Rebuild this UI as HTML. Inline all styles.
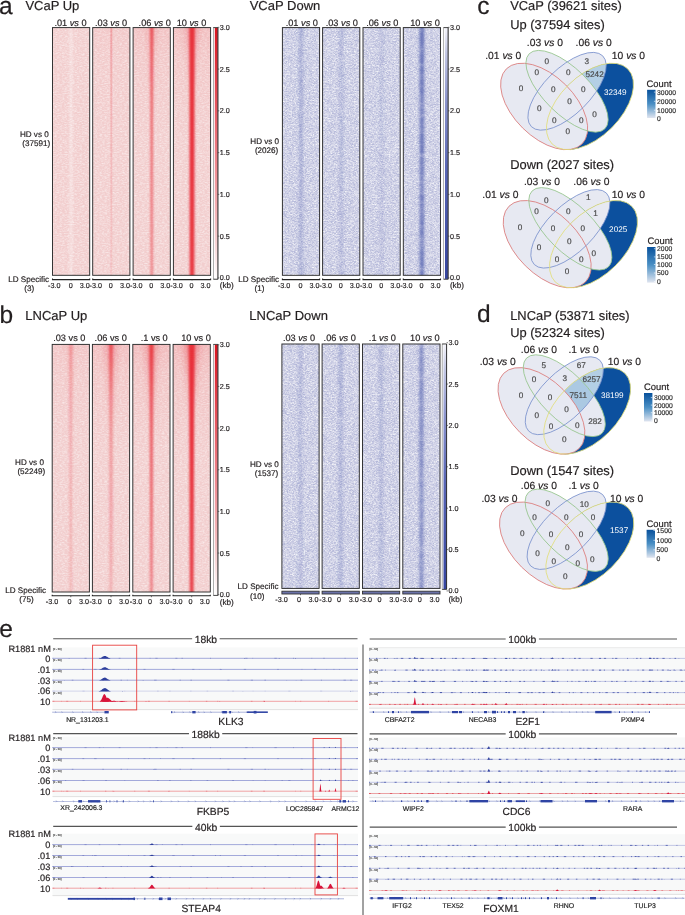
<!DOCTYPE html>
<html><head><meta charset="utf-8"><style>
html,body{margin:0;padding:0;background:#fff;width:685px;height:915px;overflow:hidden}
svg{display:block;will-change:transform;-webkit-font-smoothing:antialiased}
text{font-family:"Liberation Sans", sans-serif;text-rendering:geometricPrecision;stroke:currentColor;stroke-width:0.18px}
</style></head><body>
<svg width="685" height="915" viewBox="0 0 685 915">
<defs>
<filter id="nred" x="0" y="0" width="100%" height="100%" filterUnits="objectBoundingBox">
<feTurbulence type="fractalNoise" baseFrequency="0.4 0.9" numOctaves="2" seed="4" result="t"/>
<feColorMatrix in="t" type="matrix" values="0 0 0 0 1  0 0 0 0 1  0 0 0 0 1  1.1 0 0 0 -0.42"/>
</filter>
<filter id="nblue" x="0" y="0" width="100%" height="100%" filterUnits="objectBoundingBox">
<feTurbulence type="fractalNoise" baseFrequency="0.55 1.3" numOctaves="2" seed="7" result="t"/>
<feColorMatrix in="t" type="matrix" values="0 0 0 0 0.47  0 0 0 0 0.49  0 0 0 0 0.70  2.8 0 0 0 -0.95"/>
</filter>
<filter id="nwhite" x="0" y="0" width="100%" height="100%" filterUnits="objectBoundingBox">
<feTurbulence type="fractalNoise" baseFrequency="0.55 1.3" numOctaves="2" seed="11" result="t"/>
<feColorMatrix in="t" type="matrix" values="0 0 0 0 0.95  0 0 0 0 0.95  0 0 0 0 0.97  2.6 0 0 0 -1.2"/>
</filter>
<filter id="bl1" x="-50%" y="-5%" width="200%" height="110%"><feGaussianBlur stdDeviation="1.1 0.5"/></filter>
<filter id="bm15" x="-50%" y="-5%" width="200%" height="110%"><feGaussianBlur in="SourceGraphic" stdDeviation="1.5 0.5" result="b"/><feTurbulence type="fractalNoise" baseFrequency="0.02 0.14" numOctaves="2" seed="21" result="t"/><feColorMatrix in="t" type="matrix" values="0 0 0 0 0  0 0 0 0 0  0 0 0 0 0  1.0 0 0 0 0.4" result="m"/><feComposite in="b" in2="m" operator="in"/></filter>
<filter id="bm1" x="-50%" y="-5%" width="200%" height="110%"><feGaussianBlur in="SourceGraphic" stdDeviation="1.1 0.5" result="b"/><feTurbulence type="fractalNoise" baseFrequency="0.02 0.14" numOctaves="2" seed="23" result="t"/><feColorMatrix in="t" type="matrix" values="0 0 0 0 0  0 0 0 0 0  0 0 0 0 0  1.0 0 0 0 0.4" result="m"/><feComposite in="b" in2="m" operator="in"/></filter>
<filter id="bl05" x="-50%" y="-5%" width="200%" height="110%"><feGaussianBlur stdDeviation="0.6 0.5"/></filter>
<filter id="bl15" x="-50%" y="-5%" width="200%" height="110%"><feGaussianBlur stdDeviation="1.5 0.5"/></filter>
<filter id="bl2" x="-50%" y="-5%" width="200%" height="110%"><feGaussianBlur stdDeviation="2.2"/></filter>
<clipPath id="hc1"><rect x="52.5" y="27.6" width="37.2" height="247.70000000000002"/></clipPath>
<linearGradient id="hg1" x1="0" y1="0" x2="0" y2="1" gradientUnits="objectBoundingBox"><stop offset="0" stop-color="#e8303a" stop-opacity="0.0"/><stop offset="0.25" stop-color="#e8303a" stop-opacity="0.0"/><stop offset="1" stop-color="#e8303a" stop-opacity="0.0"/></linearGradient>
<clipPath id="hc2"><rect x="92.7" y="27.6" width="37.2" height="247.70000000000002"/></clipPath>
<linearGradient id="td2" x1="0" y1="0" x2="0" y2="1"><stop offset="0" stop-color="#e8303a" stop-opacity="0.04"/><stop offset="0.12" stop-color="#e8303a" stop-opacity="0.018000000000000002"/><stop offset="0.45" stop-color="#e8303a" stop-opacity="0"/></linearGradient>
<linearGradient id="hg2" x1="0" y1="0" x2="0" y2="1" gradientUnits="objectBoundingBox"><stop offset="0" stop-color="#e8303a" stop-opacity="0.3"/><stop offset="0.25" stop-color="#e8303a" stop-opacity="0.2"/><stop offset="1" stop-color="#e8303a" stop-opacity="0.1"/></linearGradient>
<clipPath id="hc3"><rect x="133.1" y="27.6" width="37.2" height="247.70000000000002"/></clipPath>
<linearGradient id="td3" x1="0" y1="0" x2="0" y2="1"><stop offset="0" stop-color="#e8303a" stop-opacity="0.08"/><stop offset="0.12" stop-color="#e8303a" stop-opacity="0.036000000000000004"/><stop offset="0.45" stop-color="#e8303a" stop-opacity="0"/></linearGradient>
<linearGradient id="hh3" x1="0" y1="0" x2="0" y2="1"><stop offset="0" stop-color="#e8303a" stop-opacity="0.15"/><stop offset="1" stop-color="#e8303a" stop-opacity="0"/></linearGradient>
<linearGradient id="hg3" x1="0" y1="0" x2="0" y2="1" gradientUnits="objectBoundingBox"><stop offset="0" stop-color="#e8303a" stop-opacity="0.8"/><stop offset="0.25" stop-color="#e8303a" stop-opacity="0.675"/><stop offset="1" stop-color="#e8303a" stop-opacity="0.55"/></linearGradient>
<clipPath id="hc4"><rect x="173.4" y="27.6" width="37.2" height="247.70000000000002"/></clipPath>
<linearGradient id="td4" x1="0" y1="0" x2="0" y2="1"><stop offset="0" stop-color="#e8303a" stop-opacity="0.1"/><stop offset="0.12" stop-color="#e8303a" stop-opacity="0.045000000000000005"/><stop offset="0.45" stop-color="#e8303a" stop-opacity="0"/></linearGradient>
<linearGradient id="hh4" x1="0" y1="0" x2="0" y2="1"><stop offset="0" stop-color="#e8303a" stop-opacity="0.22"/><stop offset="1" stop-color="#e8303a" stop-opacity="0"/></linearGradient>
<linearGradient id="hg4" x1="0" y1="0" x2="0" y2="1" gradientUnits="objectBoundingBox"><stop offset="0" stop-color="#e8303a" stop-opacity="1.0"/><stop offset="0.25" stop-color="#e8303a" stop-opacity="1.0"/><stop offset="1" stop-color="#e8303a" stop-opacity="0.95"/></linearGradient>
<linearGradient id="cb5" x1="0" y1="1" x2="0" y2="0"><stop offset="0" stop-color="#ffffff"/><stop offset="0.2" stop-color="#f6c2c4"/><stop offset="0.5" stop-color="#ee7f86"/><stop offset="1" stop-color="#d8141f"/></linearGradient>
<clipPath id="hc6"><rect x="282.4" y="27.6" width="37.2" height="247.70000000000002"/></clipPath>
<linearGradient id="hg6" x1="0" y1="0" x2="0" y2="1" gradientUnits="objectBoundingBox"><stop offset="0" stop-color="#5563b0" stop-opacity="0.34"/><stop offset="0.25" stop-color="#5563b0" stop-opacity="0.32"/><stop offset="1" stop-color="#5563b0" stop-opacity="0.3"/></linearGradient>
<clipPath id="hc7"><rect x="322.59999999999997" y="27.6" width="37.2" height="247.70000000000002"/></clipPath>
<linearGradient id="hg7" x1="0" y1="0" x2="0" y2="1" gradientUnits="objectBoundingBox"><stop offset="0" stop-color="#5563b0" stop-opacity="0.24"/><stop offset="0.25" stop-color="#5563b0" stop-opacity="0.22"/><stop offset="1" stop-color="#5563b0" stop-opacity="0.2"/></linearGradient>
<clipPath id="hc8"><rect x="363.0" y="27.6" width="37.2" height="247.70000000000002"/></clipPath>
<linearGradient id="hg8" x1="0" y1="0" x2="0" y2="1" gradientUnits="objectBoundingBox"><stop offset="0" stop-color="#5563b0" stop-opacity="0.15"/><stop offset="0.25" stop-color="#5563b0" stop-opacity="0.14"/><stop offset="1" stop-color="#5563b0" stop-opacity="0.13"/></linearGradient>
<clipPath id="hc9"><rect x="403.29999999999995" y="27.6" width="37.2" height="247.70000000000002"/></clipPath>
<linearGradient id="hg9" x1="0" y1="0" x2="0" y2="1" gradientUnits="objectBoundingBox"><stop offset="0" stop-color="#5563b0" stop-opacity="0.9"/><stop offset="0.25" stop-color="#5563b0" stop-opacity="0.875"/><stop offset="1" stop-color="#5563b0" stop-opacity="0.85"/></linearGradient>
<linearGradient id="cb10" x1="0" y1="0" x2="0" y2="1"><stop offset="0" stop-color="#f4f4fa"/><stop offset="0.1" stop-color="#c4c8e4"/><stop offset="0.3" stop-color="#8a93cc"/><stop offset="0.55" stop-color="#5a67b5"/><stop offset="1" stop-color="#34449e"/></linearGradient>
<clipPath id="hc11"><rect x="52.2" y="344.4" width="37.2" height="247.60000000000002"/></clipPath>
<linearGradient id="td11" x1="0" y1="0" x2="0" y2="1"><stop offset="0" stop-color="#e8303a" stop-opacity="0.06"/><stop offset="0.12" stop-color="#e8303a" stop-opacity="0.027"/><stop offset="0.45" stop-color="#e8303a" stop-opacity="0"/></linearGradient>
<linearGradient id="hh11" x1="0" y1="0" x2="0" y2="1"><stop offset="0" stop-color="#e8303a" stop-opacity="0.05"/><stop offset="1" stop-color="#e8303a" stop-opacity="0"/></linearGradient>
<linearGradient id="hg11" x1="0" y1="0" x2="0" y2="1" gradientUnits="objectBoundingBox"><stop offset="0" stop-color="#e8303a" stop-opacity="0.35"/><stop offset="0.25" stop-color="#e8303a" stop-opacity="0.265"/><stop offset="1" stop-color="#e8303a" stop-opacity="0.18"/></linearGradient>
<clipPath id="hc12"><rect x="92.4" y="344.4" width="37.2" height="247.60000000000002"/></clipPath>
<linearGradient id="td12" x1="0" y1="0" x2="0" y2="1"><stop offset="0" stop-color="#e8303a" stop-opacity="0.1"/><stop offset="0.12" stop-color="#e8303a" stop-opacity="0.045000000000000005"/><stop offset="0.45" stop-color="#e8303a" stop-opacity="0"/></linearGradient>
<linearGradient id="hh12" x1="0" y1="0" x2="0" y2="1"><stop offset="0" stop-color="#e8303a" stop-opacity="0.2"/><stop offset="1" stop-color="#e8303a" stop-opacity="0"/></linearGradient>
<linearGradient id="hg12" x1="0" y1="0" x2="0" y2="1" gradientUnits="objectBoundingBox"><stop offset="0" stop-color="#e8303a" stop-opacity="0.7"/><stop offset="0.25" stop-color="#e8303a" stop-opacity="0.4"/><stop offset="1" stop-color="#e8303a" stop-opacity="0.22"/></linearGradient>
<clipPath id="hc13"><rect x="132.8" y="344.4" width="37.2" height="247.60000000000002"/></clipPath>
<linearGradient id="td13" x1="0" y1="0" x2="0" y2="1"><stop offset="0" stop-color="#e8303a" stop-opacity="0.12"/><stop offset="0.12" stop-color="#e8303a" stop-opacity="0.054"/><stop offset="0.45" stop-color="#e8303a" stop-opacity="0"/></linearGradient>
<linearGradient id="hh13" x1="0" y1="0" x2="0" y2="1"><stop offset="0" stop-color="#e8303a" stop-opacity="0.25"/><stop offset="1" stop-color="#e8303a" stop-opacity="0"/></linearGradient>
<linearGradient id="hg13" x1="0" y1="0" x2="0" y2="1" gradientUnits="objectBoundingBox"><stop offset="0" stop-color="#e8303a" stop-opacity="0.9"/><stop offset="0.25" stop-color="#e8303a" stop-opacity="0.7"/><stop offset="1" stop-color="#e8303a" stop-opacity="0.5"/></linearGradient>
<clipPath id="hc14"><rect x="173.10000000000002" y="344.4" width="37.2" height="247.60000000000002"/></clipPath>
<linearGradient id="td14" x1="0" y1="0" x2="0" y2="1"><stop offset="0" stop-color="#e8303a" stop-opacity="0.14"/><stop offset="0.12" stop-color="#e8303a" stop-opacity="0.06300000000000001"/><stop offset="0.45" stop-color="#e8303a" stop-opacity="0"/></linearGradient>
<linearGradient id="hh14" x1="0" y1="0" x2="0" y2="1"><stop offset="0" stop-color="#e8303a" stop-opacity="0.3"/><stop offset="1" stop-color="#e8303a" stop-opacity="0"/></linearGradient>
<linearGradient id="hg14" x1="0" y1="0" x2="0" y2="1" gradientUnits="objectBoundingBox"><stop offset="0" stop-color="#e8303a" stop-opacity="1.0"/><stop offset="0.25" stop-color="#e8303a" stop-opacity="0.98"/><stop offset="1" stop-color="#e8303a" stop-opacity="0.9"/></linearGradient>
<linearGradient id="cb15" x1="0" y1="1" x2="0" y2="0"><stop offset="0" stop-color="#ffffff"/><stop offset="0.2" stop-color="#f6c2c4"/><stop offset="0.5" stop-color="#ee7f86"/><stop offset="1" stop-color="#d8141f"/></linearGradient>
<clipPath id="hc16"><rect x="281.9" y="344" width="37.2" height="244.39999999999998"/></clipPath>
<linearGradient id="hg16" x1="0" y1="0" x2="0" y2="1" gradientUnits="objectBoundingBox"><stop offset="0" stop-color="#5563b0" stop-opacity="0.24"/><stop offset="0.25" stop-color="#5563b0" stop-opacity="0.22"/><stop offset="1" stop-color="#5563b0" stop-opacity="0.2"/></linearGradient>
<clipPath id="hc17"><rect x="322.09999999999997" y="344" width="37.2" height="244.39999999999998"/></clipPath>
<linearGradient id="hg17" x1="0" y1="0" x2="0" y2="1" gradientUnits="objectBoundingBox"><stop offset="0" stop-color="#5563b0" stop-opacity="0.32"/><stop offset="0.25" stop-color="#5563b0" stop-opacity="0.29000000000000004"/><stop offset="1" stop-color="#5563b0" stop-opacity="0.26"/></linearGradient>
<clipPath id="hc18"><rect x="362.5" y="344" width="37.2" height="244.39999999999998"/></clipPath>
<linearGradient id="hg18" x1="0" y1="0" x2="0" y2="1" gradientUnits="objectBoundingBox"><stop offset="0" stop-color="#5563b0" stop-opacity="0.26"/><stop offset="0.25" stop-color="#5563b0" stop-opacity="0.24"/><stop offset="1" stop-color="#5563b0" stop-opacity="0.22"/></linearGradient>
<clipPath id="hc19"><rect x="402.79999999999995" y="344" width="37.2" height="244.39999999999998"/></clipPath>
<linearGradient id="hg19" x1="0" y1="0" x2="0" y2="1" gradientUnits="objectBoundingBox"><stop offset="0" stop-color="#5563b0" stop-opacity="0.75"/><stop offset="0.25" stop-color="#5563b0" stop-opacity="0.7"/><stop offset="1" stop-color="#5563b0" stop-opacity="0.65"/></linearGradient>
<linearGradient id="cb20" x1="0" y1="0" x2="0" y2="1"><stop offset="0" stop-color="#f4f4fa"/><stop offset="0.1" stop-color="#c4c8e4"/><stop offset="0.3" stop-color="#8a93cc"/><stop offset="0.55" stop-color="#5a67b5"/><stop offset="1" stop-color="#34449e"/></linearGradient>
<clipPath id="v1y"><ellipse cx="0" cy="0" rx="0.35" ry="0.2" transform="translate(0.65 0.47) rotate(45)" fill="#000" /></clipPath>
<clipPath id="v1b"><ellipse cx="0" cy="0" rx="0.33" ry="0.15" transform="translate(0.5 0.57) rotate(45)" fill="#000" /></clipPath>
<linearGradient id="lg2" x1="0" y1="0" x2="0" y2="1"><stop offset="0" stop-color="#08519c"/><stop offset="0.5" stop-color="#4a8fc4"/><stop offset="1" stop-color="#dfe4ef"/></linearGradient>
<clipPath id="v3y"><ellipse cx="0" cy="0" rx="0.35" ry="0.2" transform="translate(0.65 0.47) rotate(45)" fill="#000" /></clipPath>
<clipPath id="v3b"><ellipse cx="0" cy="0" rx="0.33" ry="0.15" transform="translate(0.5 0.57) rotate(45)" fill="#000" /></clipPath>
<linearGradient id="lg4" x1="0" y1="0" x2="0" y2="1"><stop offset="0" stop-color="#08519c"/><stop offset="0.5" stop-color="#4a8fc4"/><stop offset="1" stop-color="#dfe4ef"/></linearGradient>
<clipPath id="v5y"><ellipse cx="0" cy="0" rx="0.35" ry="0.2" transform="translate(0.65 0.47) rotate(45)" fill="#000" /></clipPath>
<clipPath id="v5b"><ellipse cx="0" cy="0" rx="0.33" ry="0.15" transform="translate(0.5 0.57) rotate(45)" fill="#000" /></clipPath>
<linearGradient id="lg6" x1="0" y1="0" x2="0" y2="1"><stop offset="0" stop-color="#08519c"/><stop offset="0.5" stop-color="#4a8fc4"/><stop offset="1" stop-color="#dfe4ef"/></linearGradient>
<clipPath id="v7y"><ellipse cx="0" cy="0" rx="0.35" ry="0.2" transform="translate(0.65 0.47) rotate(45)" fill="#000" /></clipPath>
<clipPath id="v7b"><ellipse cx="0" cy="0" rx="0.33" ry="0.15" transform="translate(0.5 0.57) rotate(45)" fill="#000" /></clipPath>
<linearGradient id="lg8" x1="0" y1="0" x2="0" y2="1"><stop offset="0" stop-color="#08519c"/><stop offset="0.5" stop-color="#4a8fc4"/><stop offset="1" stop-color="#dfe4ef"/></linearGradient>
</defs>
<rect width="685" height="915" fill="#fff"/>
<text x="-0.90" y="14.00" font-size="24.5" text-anchor="start" fill="#231f20" color="#231f20" >a</text>
<text x="-0.60" y="322.60" font-size="24.5" text-anchor="start" fill="#231f20" color="#231f20" >b</text>
<text x="477.20" y="14.00" font-size="24.5" text-anchor="start" fill="#231f20" color="#231f20" >c</text>
<text x="477.10" y="321.70" font-size="24.5" text-anchor="start" fill="#231f20" color="#231f20" >d</text>
<text x="-0.70" y="637.20" font-size="24.5" text-anchor="start" fill="#231f20" color="#231f20" >e</text>
<text x="25.40" y="9.70" font-size="13" text-anchor="start" fill="#231f20" color="#231f20" >VCaP Up</text>
<text x="70.50" y="25.60" font-size="9.2" text-anchor="middle" fill="#231f20" color="#231f20">.01 <tspan font-style="italic">vs</tspan> 0</text>
<g clip-path="url(#hc1)">
<rect x="52.5" y="27.6" width="37.2" height="247.70000000000002" fill="#f2cece"/>
<rect x="52.5" y="27.6" width="37.2" height="247.70000000000002" fill="#fff" filter="url(#nred)"/>
<rect x="69.6" y="27.6" width="3" height="247.70000000000002" fill="#fff" opacity="0.35" filter="url(#bl1)"/>
<path d="M69.60 22.6 L72.60 22.6 L72.60 89.53 L72.60 280.3 L69.60 280.3 L69.60 89.53 Z" fill="url(#hg1)" filter="url(#bl1)"/>
</g>
<rect x="52.5" y="27.6" width="37.2" height="247.70000000000002" fill="none" stroke="#2a2a2a" stroke-width="0.95"/>
<path d="M52.5 278.5 L52.5 279.6 L89.7 279.6 L89.7 278.5" fill="none" stroke="#222" stroke-width="1.1"/>
<line x1="71.1" y1="279.2" x2="71.1" y2="280.4" stroke="#333" stroke-width="0.7"/>
<text x="48.00" y="287.70" font-size="7.2" text-anchor="start" fill="#231f20" color="#231f20" >-3.0</text>
<text x="70.65" y="287.70" font-size="7.2" text-anchor="middle" fill="#231f20" color="#231f20" >0</text>
<text x="89.70" y="287.70" font-size="7.2" text-anchor="end" fill="#231f20" color="#231f20" >3.0</text>
<text x="111.10" y="25.60" font-size="9.2" text-anchor="middle" fill="#231f20" color="#231f20">.03 <tspan font-style="italic">vs</tspan> 0</text>
<g clip-path="url(#hc2)">
<rect x="92.7" y="27.6" width="37.2" height="247.70000000000002" fill="#f2cece"/>
<rect x="92.7" y="27.6" width="37.2" height="247.70000000000002" fill="#fff" filter="url(#nred)"/>
<rect x="92.7" y="27.6" width="37.2" height="247.70000000000002" fill="url(#td2)"/>
<path d="M110.30 22.6 L112.30 22.6 L112.25 89.53 L112.20 280.3 L110.40 280.3 L110.35 89.53 Z" fill="url(#hg2)" filter="url(#bl05)"/>
</g>
<rect x="92.7" y="27.6" width="37.2" height="247.70000000000002" fill="none" stroke="#2a2a2a" stroke-width="0.95"/>
<path d="M92.7 278.5 L92.7 279.6 L129.9 279.6 L129.9 278.5" fill="none" stroke="#222" stroke-width="1.1"/>
<line x1="111.30000000000001" y1="279.2" x2="111.30000000000001" y2="280.4" stroke="#333" stroke-width="0.7"/>
<text x="89.60" y="287.70" font-size="7.2" text-anchor="start" fill="#231f20" color="#231f20" >-3.0</text>
<text x="110.85" y="287.70" font-size="7.2" text-anchor="middle" fill="#231f20" color="#231f20" >0</text>
<text x="129.90" y="287.70" font-size="7.2" text-anchor="end" fill="#231f20" color="#231f20" >3.0</text>
<text x="154.70" y="25.60" font-size="9.2" text-anchor="middle" fill="#231f20" color="#231f20">.06 <tspan font-style="italic">vs</tspan> 0</text>
<g clip-path="url(#hc3)">
<rect x="133.1" y="27.6" width="37.2" height="247.70000000000002" fill="#f2cece"/>
<rect x="133.1" y="27.6" width="37.2" height="247.70000000000002" fill="#fff" filter="url(#nred)"/>
<rect x="133.1" y="27.6" width="37.2" height="247.70000000000002" fill="url(#td3)"/>
<path d="M146.7 22.6 L156.7 22.6 L153.45999999999998 114.29500000000002 L149.94 114.29500000000002 Z" fill="url(#hh3)" filter="url(#bl2)"/>
<path d="M150.10 22.6 L153.30 22.6 L153.05 89.53 L152.80 280.3 L150.60 280.3 L150.35 89.53 Z" fill="url(#hg3)" filter="url(#bl1)"/>
</g>
<rect x="133.1" y="27.6" width="37.2" height="247.70000000000002" fill="none" stroke="#2a2a2a" stroke-width="0.95"/>
<path d="M133.1 278.5 L133.1 279.6 L170.3 279.6 L170.3 278.5" fill="none" stroke="#222" stroke-width="1.1"/>
<line x1="151.7" y1="279.2" x2="151.7" y2="280.4" stroke="#333" stroke-width="0.7"/>
<text x="130.00" y="287.70" font-size="7.2" text-anchor="start" fill="#231f20" color="#231f20" >-3.0</text>
<text x="151.25" y="287.70" font-size="7.2" text-anchor="middle" fill="#231f20" color="#231f20" >0</text>
<text x="170.30" y="287.70" font-size="7.2" text-anchor="end" fill="#231f20" color="#231f20" >3.0</text>
<text x="191.50" y="25.60" font-size="9.2" text-anchor="middle" fill="#231f20" color="#231f20">10 <tspan font-style="italic">vs</tspan> 0</text>
<g clip-path="url(#hc4)">
<rect x="173.4" y="27.6" width="37.2" height="247.70000000000002" fill="#f2cece"/>
<rect x="173.4" y="27.6" width="37.2" height="247.70000000000002" fill="#fff" filter="url(#nred)"/>
<rect x="173.4" y="27.6" width="37.2" height="247.70000000000002" fill="url(#td4)"/>
<path d="M185.0 22.6 L199.0 22.6 L195.68 89.525 L188.32 89.525 Z" fill="url(#hh4)" filter="url(#bl2)"/>
<path d="M189.20 22.6 L194.80 22.6 L194.50 89.53 L194.30 280.3 L189.70 280.3 L189.50 89.53 Z" fill="url(#hg4)" filter="url(#bl1)"/>
</g>
<rect x="173.4" y="27.6" width="37.2" height="247.70000000000002" fill="none" stroke="#2a2a2a" stroke-width="0.95"/>
<path d="M173.4 278.5 L173.4 279.6 L210.60000000000002 279.6 L210.60000000000002 278.5" fill="none" stroke="#222" stroke-width="1.1"/>
<line x1="192.0" y1="279.2" x2="192.0" y2="280.4" stroke="#333" stroke-width="0.7"/>
<text x="170.30" y="287.70" font-size="7.2" text-anchor="start" fill="#231f20" color="#231f20" >-3.0</text>
<text x="191.55" y="287.70" font-size="7.2" text-anchor="middle" fill="#231f20" color="#231f20" >0</text>
<text x="210.60" y="287.70" font-size="7.2" text-anchor="end" fill="#231f20" color="#231f20" >3.0</text>
<rect x="213.5" y="27.6" width="4.4" height="251.6" fill="#fff" stroke="#8a8a8a" stroke-width="0.7"/>
<rect x="214.8" y="27.900000000000002" width="2.9" height="251.0" fill="url(#cb5)"/>
<line x1="217.9" y1="27.6" x2="217.9" y2="279.2" stroke="#222" stroke-width="0.9"/>
<line x1="213.5" y1="27.6" x2="217.9" y2="27.6" stroke="#222" stroke-width="0.7"/>
<line x1="213.5" y1="279.2" x2="217.9" y2="279.2" stroke="#222" stroke-width="0.7"/>
<line x1="217.8" y1="27.3" x2="219.3" y2="27.3" stroke="#333" stroke-width="0.6"/>
<text x="219.80" y="29.80" font-size="7.2" text-anchor="start" fill="#231f20" color="#231f20" >3.0</text>
<line x1="217.8" y1="69.07000000000001" x2="219.3" y2="69.07000000000001" stroke="#333" stroke-width="0.6"/>
<text x="219.80" y="71.57" font-size="7.2" text-anchor="start" fill="#231f20" color="#231f20" >2.5</text>
<line x1="217.8" y1="110.84" x2="219.3" y2="110.84" stroke="#333" stroke-width="0.6"/>
<text x="219.80" y="113.34" font-size="7.2" text-anchor="start" fill="#231f20" color="#231f20" >2.0</text>
<line x1="217.8" y1="152.61" x2="219.3" y2="152.61" stroke="#333" stroke-width="0.6"/>
<text x="219.80" y="155.11" font-size="7.2" text-anchor="start" fill="#231f20" color="#231f20" >1.5</text>
<line x1="217.8" y1="194.38000000000002" x2="219.3" y2="194.38000000000002" stroke="#333" stroke-width="0.6"/>
<text x="219.80" y="196.88" font-size="7.2" text-anchor="start" fill="#231f20" color="#231f20" >1.0</text>
<line x1="217.8" y1="236.15000000000003" x2="219.3" y2="236.15000000000003" stroke="#333" stroke-width="0.6"/>
<text x="219.80" y="238.65" font-size="7.2" text-anchor="start" fill="#231f20" color="#231f20" >0.5</text>
<line x1="217.8" y1="277.92" x2="219.3" y2="277.92" stroke="#333" stroke-width="0.6"/>
<text x="219.80" y="280.42" font-size="7.2" text-anchor="start" fill="#231f20" color="#231f20" >0.0</text>
<text x="219.70" y="287.70" font-size="8.2" text-anchor="start" fill="#231f20" color="#231f20" >(kb)</text>
<text x="48.70" y="136.60" font-size="8.1" text-anchor="end" fill="#231f20" color="#231f20" >HD vs 0</text>
<text x="50.10" y="146.30" font-size="8.1" text-anchor="end" fill="#231f20" color="#231f20" >(37591)</text>
<text x="49.10" y="281.80" font-size="8.1" text-anchor="end" fill="#231f20" color="#231f20" >LD Specific</text>
<text x="29.30" y="291.00" font-size="8.1" text-anchor="middle" fill="#231f20" color="#231f20" >(3)</text>
<text x="249.70" y="9.70" font-size="13" text-anchor="start" fill="#231f20" color="#231f20" >VCaP Down</text>
<text x="301.80" y="25.60" font-size="9.2" text-anchor="middle" fill="#231f20" color="#231f20">.01 <tspan font-style="italic">vs</tspan> 0</text>
<g clip-path="url(#hc6)">
<rect x="282.4" y="27.6" width="37.2" height="247.70000000000002" fill="#d7d8ea"/>
<rect x="282.4" y="27.6" width="37.2" height="247.70000000000002" fill="#fff" filter="url(#nblue)"/>
<rect x="282.4" y="27.6" width="37.2" height="247.70000000000002" fill="#fff" filter="url(#nwhite)" opacity="0.9"/>
<path d="M298.90 22.6 L303.10 22.6 L303.05 89.53 L303.00 280.3 L299.00 280.3 L298.95 89.53 Z" fill="url(#hg6)" filter="url(#bm15)"/>
</g>
<rect x="282.4" y="27.6" width="37.2" height="247.70000000000002" fill="none" stroke="#2a2a2a" stroke-width="0.95"/>
<path d="M282.4 278.5 L282.4 279.6 L319.59999999999997 279.6 L319.59999999999997 278.5" fill="none" stroke="#222" stroke-width="1.1"/>
<line x1="301.0" y1="279.2" x2="301.0" y2="280.4" stroke="#333" stroke-width="0.7"/>
<text x="277.90" y="287.70" font-size="7.2" text-anchor="start" fill="#231f20" color="#231f20" >-3.0</text>
<text x="300.55" y="287.70" font-size="7.2" text-anchor="middle" fill="#231f20" color="#231f20" >0</text>
<text x="319.60" y="287.70" font-size="7.2" text-anchor="end" fill="#231f20" color="#231f20" >3.0</text>
<text x="341.80" y="25.60" font-size="9.2" text-anchor="middle" fill="#231f20" color="#231f20">.03 <tspan font-style="italic">vs</tspan> 0</text>
<g clip-path="url(#hc7)">
<rect x="322.59999999999997" y="27.6" width="37.2" height="247.70000000000002" fill="#d7d8ea"/>
<rect x="322.59999999999997" y="27.6" width="37.2" height="247.70000000000002" fill="#fff" filter="url(#nblue)"/>
<rect x="322.59999999999997" y="27.6" width="37.2" height="247.70000000000002" fill="#fff" filter="url(#nwhite)" opacity="0.9"/>
<path d="M339.10 22.6 L343.30 22.6 L343.25 89.53 L343.20 280.3 L339.20 280.3 L339.15 89.53 Z" fill="url(#hg7)" filter="url(#bm15)"/>
</g>
<rect x="322.59999999999997" y="27.6" width="37.2" height="247.70000000000002" fill="none" stroke="#2a2a2a" stroke-width="0.95"/>
<path d="M322.59999999999997 278.5 L322.59999999999997 279.6 L359.79999999999995 279.6 L359.79999999999995 278.5" fill="none" stroke="#222" stroke-width="1.1"/>
<line x1="341.2" y1="279.2" x2="341.2" y2="280.4" stroke="#333" stroke-width="0.7"/>
<text x="319.50" y="287.70" font-size="7.2" text-anchor="start" fill="#231f20" color="#231f20" >-3.0</text>
<text x="340.75" y="287.70" font-size="7.2" text-anchor="middle" fill="#231f20" color="#231f20" >0</text>
<text x="359.80" y="287.70" font-size="7.2" text-anchor="end" fill="#231f20" color="#231f20" >3.0</text>
<text x="382.30" y="25.60" font-size="9.2" text-anchor="middle" fill="#231f20" color="#231f20">.06 <tspan font-style="italic">vs</tspan> 0</text>
<g clip-path="url(#hc8)">
<rect x="363.0" y="27.6" width="37.2" height="247.70000000000002" fill="#d7d8ea"/>
<rect x="363.0" y="27.6" width="37.2" height="247.70000000000002" fill="#fff" filter="url(#nblue)"/>
<rect x="363.0" y="27.6" width="37.2" height="247.70000000000002" fill="#fff" filter="url(#nwhite)" opacity="0.9"/>
<path d="M379.35 22.6 L383.85 22.6 L383.78 89.53 L383.70 280.3 L379.50 280.3 L379.43 89.53 Z" fill="url(#hg8)" filter="url(#bm15)"/>
</g>
<rect x="363.0" y="27.6" width="37.2" height="247.70000000000002" fill="none" stroke="#2a2a2a" stroke-width="0.95"/>
<path d="M363.0 278.5 L363.0 279.6 L400.2 279.6 L400.2 278.5" fill="none" stroke="#222" stroke-width="1.1"/>
<line x1="381.6" y1="279.2" x2="381.6" y2="280.4" stroke="#333" stroke-width="0.7"/>
<text x="359.90" y="287.70" font-size="7.2" text-anchor="start" fill="#231f20" color="#231f20" >-3.0</text>
<text x="381.15" y="287.70" font-size="7.2" text-anchor="middle" fill="#231f20" color="#231f20" >0</text>
<text x="400.20" y="287.70" font-size="7.2" text-anchor="end" fill="#231f20" color="#231f20" >3.0</text>
<text x="425.00" y="25.60" font-size="9.2" text-anchor="middle" fill="#231f20" color="#231f20">10 <tspan font-style="italic">vs</tspan> 0</text>
<g clip-path="url(#hc9)">
<rect x="403.29999999999995" y="27.6" width="37.2" height="247.70000000000002" fill="#d7d8ea"/>
<rect x="403.29999999999995" y="27.6" width="37.2" height="247.70000000000002" fill="#fff" filter="url(#nblue)"/>
<rect x="403.29999999999995" y="27.6" width="37.2" height="247.70000000000002" fill="#fff" filter="url(#nwhite)" opacity="0.9"/>
<path d="M419.70 22.6 L424.10 22.6 L424.05 89.53 L424.00 280.3 L419.80 280.3 L419.75 89.53 Z" fill="url(#hg9)" filter="url(#bm15)"/>
</g>
<rect x="403.29999999999995" y="27.6" width="37.2" height="247.70000000000002" fill="none" stroke="#2a2a2a" stroke-width="0.95"/>
<path d="M403.29999999999995 278.5 L403.29999999999995 279.6 L440.49999999999994 279.6 L440.49999999999994 278.5" fill="none" stroke="#222" stroke-width="1.1"/>
<line x1="421.9" y1="279.2" x2="421.9" y2="280.4" stroke="#333" stroke-width="0.7"/>
<text x="400.20" y="287.70" font-size="7.2" text-anchor="start" fill="#231f20" color="#231f20" >-3.0</text>
<text x="421.45" y="287.70" font-size="7.2" text-anchor="middle" fill="#231f20" color="#231f20" >0</text>
<text x="440.50" y="287.70" font-size="7.2" text-anchor="end" fill="#231f20" color="#231f20" >3.0</text>
<rect x="443.7" y="27.6" width="4.4" height="251.6" fill="#fff" stroke="#8a8a8a" stroke-width="0.7"/>
<rect x="445.0" y="27.900000000000002" width="2.9" height="251.0" fill="url(#cb10)"/>
<line x1="448.1" y1="27.6" x2="448.1" y2="279.2" stroke="#222" stroke-width="0.9"/>
<line x1="443.7" y1="27.6" x2="448.1" y2="27.6" stroke="#222" stroke-width="0.7"/>
<line x1="443.7" y1="279.2" x2="448.1" y2="279.2" stroke="#222" stroke-width="0.7"/>
<line x1="448" y1="27.3" x2="449.5" y2="27.3" stroke="#333" stroke-width="0.6"/>
<text x="450.00" y="29.80" font-size="7.2" text-anchor="start" fill="#231f20" color="#231f20" >3.0</text>
<line x1="448" y1="69.07000000000001" x2="449.5" y2="69.07000000000001" stroke="#333" stroke-width="0.6"/>
<text x="450.00" y="71.57" font-size="7.2" text-anchor="start" fill="#231f20" color="#231f20" >2.5</text>
<line x1="448" y1="110.84" x2="449.5" y2="110.84" stroke="#333" stroke-width="0.6"/>
<text x="450.00" y="113.34" font-size="7.2" text-anchor="start" fill="#231f20" color="#231f20" >2.0</text>
<line x1="448" y1="152.61" x2="449.5" y2="152.61" stroke="#333" stroke-width="0.6"/>
<text x="450.00" y="155.11" font-size="7.2" text-anchor="start" fill="#231f20" color="#231f20" >1.5</text>
<line x1="448" y1="194.38000000000002" x2="449.5" y2="194.38000000000002" stroke="#333" stroke-width="0.6"/>
<text x="450.00" y="196.88" font-size="7.2" text-anchor="start" fill="#231f20" color="#231f20" >1.0</text>
<line x1="448" y1="236.15000000000003" x2="449.5" y2="236.15000000000003" stroke="#333" stroke-width="0.6"/>
<text x="450.00" y="238.65" font-size="7.2" text-anchor="start" fill="#231f20" color="#231f20" >0.5</text>
<line x1="448" y1="277.92" x2="449.5" y2="277.92" stroke="#333" stroke-width="0.6"/>
<text x="450.00" y="280.42" font-size="7.2" text-anchor="start" fill="#231f20" color="#231f20" >0.0</text>
<text x="449.90" y="287.70" font-size="8.2" text-anchor="start" fill="#231f20" color="#231f20" >(kb)</text>
<text x="279.10" y="143.60" font-size="8.1" text-anchor="end" fill="#231f20" color="#231f20" >HD vs 0</text>
<text x="278.30" y="153.10" font-size="8.1" text-anchor="end" fill="#231f20" color="#231f20" >(2026)</text>
<text x="279.10" y="281.80" font-size="8.1" text-anchor="end" fill="#231f20" color="#231f20" >LD Specific</text>
<text x="259.40" y="291.00" font-size="8.1" text-anchor="middle" fill="#231f20" color="#231f20" >(1)</text>
<text x="25.35" y="319.50" font-size="13" text-anchor="start" fill="#231f20" color="#231f20" >LNCaP Up</text>
<text x="69.30" y="341.20" font-size="9.2" text-anchor="middle" fill="#231f20" color="#231f20">.03 <tspan>vs</tspan> 0</text>
<g clip-path="url(#hc11)">
<rect x="52.2" y="344.4" width="37.2" height="247.60000000000002" fill="#f2cece"/>
<rect x="52.2" y="344.4" width="37.2" height="247.60000000000002" fill="#fff" filter="url(#nred)"/>
<rect x="52.2" y="344.4" width="37.2" height="247.60000000000002" fill="url(#td11)"/>
<path d="M65.80000000000001 339.4 L75.80000000000001 339.4 L72.72000000000001 431.05999999999995 L68.88000000000001 431.05999999999995 Z" fill="url(#hh11)" filter="url(#bl2)"/>
<path d="M69.20 339.4 L72.40 339.4 L72.20 406.30 L72.00 597.0 L69.60 597.0 L69.40 406.30 Z" fill="url(#hg11)" filter="url(#bl1)"/>
</g>
<rect x="52.2" y="344.4" width="37.2" height="247.60000000000002" fill="none" stroke="#2a2a2a" stroke-width="0.95"/>
<path d="M52.2 594.7 L52.2 595.8000000000001 L89.4 595.8000000000001 L89.4 594.7" fill="none" stroke="#222" stroke-width="1.1"/>
<line x1="70.80000000000001" y1="596.0" x2="70.80000000000001" y2="597.2" stroke="#333" stroke-width="0.7"/>
<text x="45.80" y="604.20" font-size="7.2" text-anchor="start" fill="#231f20" color="#231f20" >-3.0</text>
<text x="69.50" y="604.20" font-size="7.2" text-anchor="middle" fill="#231f20" color="#231f20" >0</text>
<text x="88.90" y="604.20" font-size="7.2" text-anchor="end" fill="#231f20" color="#231f20" >3.0</text>
<text x="110.70" y="341.20" font-size="9.2" text-anchor="middle" fill="#231f20" color="#231f20">.06 <tspan>vs</tspan> 0</text>
<g clip-path="url(#hc12)">
<rect x="92.4" y="344.4" width="37.2" height="247.60000000000002" fill="#f2cece"/>
<rect x="92.4" y="344.4" width="37.2" height="247.60000000000002" fill="#fff" filter="url(#nred)"/>
<rect x="92.4" y="344.4" width="37.2" height="247.60000000000002" fill="url(#td12)"/>
<path d="M104.0 339.4 L118.0 339.4 L113.24 431.05999999999995 L108.76 431.05999999999995 Z" fill="url(#hh12)" filter="url(#bl2)"/>
<path d="M108.90 339.4 L113.10 339.4 L112.75 406.30 L112.40 597.0 L109.60 597.0 L109.25 406.30 Z" fill="url(#hg12)" filter="url(#bl1)"/>
</g>
<rect x="92.4" y="344.4" width="37.2" height="247.60000000000002" fill="none" stroke="#2a2a2a" stroke-width="0.95"/>
<path d="M92.4 594.7 L92.4 595.8000000000001 L129.60000000000002 595.8000000000001 L129.60000000000002 594.7" fill="none" stroke="#222" stroke-width="1.1"/>
<line x1="111.0" y1="596.0" x2="111.0" y2="597.2" stroke="#333" stroke-width="0.7"/>
<text x="89.40" y="604.20" font-size="7.2" text-anchor="start" fill="#231f20" color="#231f20" >-3.0</text>
<text x="109.70" y="604.20" font-size="7.2" text-anchor="middle" fill="#231f20" color="#231f20" >0</text>
<text x="129.10" y="604.20" font-size="7.2" text-anchor="end" fill="#231f20" color="#231f20" >3.0</text>
<text x="154.20" y="341.20" font-size="9.2" text-anchor="middle" fill="#231f20" color="#231f20">.1 <tspan>vs</tspan> 0</text>
<g clip-path="url(#hc13)">
<rect x="132.8" y="344.4" width="37.2" height="247.60000000000002" fill="#f2cece"/>
<rect x="132.8" y="344.4" width="37.2" height="247.60000000000002" fill="#fff" filter="url(#nred)"/>
<rect x="132.8" y="344.4" width="37.2" height="247.60000000000002" fill="url(#td13)"/>
<path d="M144.4 339.4 L158.4 339.4 L153.64000000000001 431.05999999999995 L149.16 431.05999999999995 Z" fill="url(#hh13)" filter="url(#bl2)"/>
<path d="M149.20 339.4 L153.60 339.4 L153.20 406.30 L152.80 597.0 L150.00 597.0 L149.60 406.30 Z" fill="url(#hg13)" filter="url(#bl1)"/>
</g>
<rect x="132.8" y="344.4" width="37.2" height="247.60000000000002" fill="none" stroke="#2a2a2a" stroke-width="0.95"/>
<path d="M132.8 594.7 L132.8 595.8000000000001 L170.0 595.8000000000001 L170.0 594.7" fill="none" stroke="#222" stroke-width="1.1"/>
<line x1="151.4" y1="596.0" x2="151.4" y2="597.2" stroke="#333" stroke-width="0.7"/>
<text x="129.80" y="604.20" font-size="7.2" text-anchor="start" fill="#231f20" color="#231f20" >-3.0</text>
<text x="150.10" y="604.20" font-size="7.2" text-anchor="middle" fill="#231f20" color="#231f20" >0</text>
<text x="169.50" y="604.20" font-size="7.2" text-anchor="end" fill="#231f20" color="#231f20" >3.0</text>
<text x="196.00" y="341.20" font-size="9.2" text-anchor="middle" fill="#231f20" color="#231f20">10 <tspan>vs</tspan> 0</text>
<g clip-path="url(#hc14)">
<rect x="173.10000000000002" y="344.4" width="37.2" height="247.60000000000002" fill="#f2cece"/>
<rect x="173.10000000000002" y="344.4" width="37.2" height="247.60000000000002" fill="#fff" filter="url(#nred)"/>
<rect x="173.10000000000002" y="344.4" width="37.2" height="247.60000000000002" fill="url(#td14)"/>
<path d="M182.70000000000002 339.4 L200.70000000000002 339.4 L194.74 418.67999999999995 L188.66000000000003 418.67999999999995 Z" fill="url(#hh14)" filter="url(#bl2)"/>
<path d="M188.45 339.4 L194.95 339.4 L194.20 406.30 L193.60 597.0 L189.80 597.0 L189.20 406.30 Z" fill="url(#hg14)" filter="url(#bl1)"/>
</g>
<rect x="173.10000000000002" y="344.4" width="37.2" height="247.60000000000002" fill="none" stroke="#2a2a2a" stroke-width="0.95"/>
<path d="M173.10000000000002 594.7 L173.10000000000002 595.8000000000001 L210.3 595.8000000000001 L210.3 594.7" fill="none" stroke="#222" stroke-width="1.1"/>
<line x1="191.70000000000002" y1="596.0" x2="191.70000000000002" y2="597.2" stroke="#333" stroke-width="0.7"/>
<text x="170.10" y="604.20" font-size="7.2" text-anchor="start" fill="#231f20" color="#231f20" >-3.0</text>
<text x="190.40" y="604.20" font-size="7.2" text-anchor="middle" fill="#231f20" color="#231f20" >0</text>
<text x="209.80" y="604.20" font-size="7.2" text-anchor="end" fill="#231f20" color="#231f20" >3.0</text>
<rect x="213.5" y="344.4" width="4.4" height="251.0" fill="#fff" stroke="#8a8a8a" stroke-width="0.7"/>
<rect x="214.8" y="344.7" width="2.9" height="250.4" fill="url(#cb15)"/>
<line x1="217.9" y1="344.4" x2="217.9" y2="595.4" stroke="#222" stroke-width="0.9"/>
<line x1="213.5" y1="344.4" x2="217.9" y2="344.4" stroke="#222" stroke-width="0.7"/>
<line x1="213.5" y1="595.4" x2="217.9" y2="595.4" stroke="#222" stroke-width="0.7"/>
<line x1="217.8" y1="344.8" x2="219.3" y2="344.8" stroke="#333" stroke-width="0.6"/>
<text x="219.80" y="347.30" font-size="7.2" text-anchor="start" fill="#231f20" color="#231f20" >3.0</text>
<line x1="217.8" y1="386.45" x2="219.3" y2="386.45" stroke="#333" stroke-width="0.6"/>
<text x="219.80" y="388.95" font-size="7.2" text-anchor="start" fill="#231f20" color="#231f20" >2.5</text>
<line x1="217.8" y1="428.1" x2="219.3" y2="428.1" stroke="#333" stroke-width="0.6"/>
<text x="219.80" y="430.60" font-size="7.2" text-anchor="start" fill="#231f20" color="#231f20" >2.0</text>
<line x1="217.8" y1="469.75" x2="219.3" y2="469.75" stroke="#333" stroke-width="0.6"/>
<text x="219.80" y="472.25" font-size="7.2" text-anchor="start" fill="#231f20" color="#231f20" >1.5</text>
<line x1="217.8" y1="511.4" x2="219.3" y2="511.4" stroke="#333" stroke-width="0.6"/>
<text x="219.80" y="513.90" font-size="7.2" text-anchor="start" fill="#231f20" color="#231f20" >1.0</text>
<line x1="217.8" y1="553.05" x2="219.3" y2="553.05" stroke="#333" stroke-width="0.6"/>
<text x="219.80" y="555.55" font-size="7.2" text-anchor="start" fill="#231f20" color="#231f20" >0.5</text>
<line x1="217.8" y1="594.7" x2="219.3" y2="594.7" stroke="#333" stroke-width="0.6"/>
<text x="219.80" y="597.20" font-size="7.2" text-anchor="start" fill="#231f20" color="#231f20" >0.0</text>
<text x="219.70" y="605.00" font-size="8.2" text-anchor="start" fill="#231f20" color="#231f20" >(kb)</text>
<text x="43.90" y="465.30" font-size="8.1" text-anchor="end" fill="#231f20" color="#231f20" >HD vs 0</text>
<text x="45.30" y="474.40" font-size="8.1" text-anchor="end" fill="#231f20" color="#231f20" >(52249)</text>
<text x="46.10" y="593.00" font-size="8.1" text-anchor="end" fill="#231f20" color="#231f20" >LD Specific</text>
<text x="26.50" y="602.00" font-size="8.1" text-anchor="middle" fill="#231f20" color="#231f20" >(75)</text>
<text x="249.35" y="319.50" font-size="13" text-anchor="start" fill="#231f20" color="#231f20" >LNCaP Down</text>
<text x="299.00" y="341.30" font-size="9.2" text-anchor="middle" fill="#231f20" color="#231f20">.03 <tspan font-style="italic">vs</tspan> 0</text>
<g clip-path="url(#hc16)">
<rect x="281.9" y="344" width="37.2" height="244.39999999999998" fill="#d7d8ea"/>
<rect x="281.9" y="344" width="37.2" height="244.39999999999998" fill="#fff" filter="url(#nblue)"/>
<rect x="281.9" y="344" width="37.2" height="244.39999999999998" fill="#fff" filter="url(#nwhite)" opacity="0.9"/>
<path d="M298.30 339 L302.70 339 L302.60 405.10 L302.50 593.4 L298.50 593.4 L298.40 405.10 Z" fill="url(#hg16)" filter="url(#bm15)"/>
</g>
<rect x="281.9" y="344" width="37.2" height="244.39999999999998" fill="none" stroke="#2a2a2a" stroke-width="0.95"/>
<rect x="281.9" y="591.2" width="37.2" height="2.7999999999999545" fill="#6b72a8" stroke="#333" stroke-width="0.9"/>
<line x1="300.5" y1="594.0" x2="300.5" y2="595.2" stroke="#333" stroke-width="0.7"/>
<text x="275.30" y="601.80" font-size="7.2" text-anchor="start" fill="#231f20" color="#231f20" >-3.0</text>
<text x="298.90" y="601.80" font-size="7.2" text-anchor="middle" fill="#231f20" color="#231f20" >0</text>
<text x="318.60" y="601.80" font-size="7.2" text-anchor="end" fill="#231f20" color="#231f20" >3.0</text>
<text x="339.70" y="341.30" font-size="9.2" text-anchor="middle" fill="#231f20" color="#231f20">.06 <tspan font-style="italic">vs</tspan> 0</text>
<g clip-path="url(#hc17)">
<rect x="322.09999999999997" y="344" width="37.2" height="244.39999999999998" fill="#d7d8ea"/>
<rect x="322.09999999999997" y="344" width="37.2" height="244.39999999999998" fill="#fff" filter="url(#nblue)"/>
<rect x="322.09999999999997" y="344" width="37.2" height="244.39999999999998" fill="#fff" filter="url(#nwhite)" opacity="0.9"/>
<path d="M338.50 339 L342.90 339 L342.80 405.10 L342.70 593.4 L338.70 593.4 L338.60 405.10 Z" fill="url(#hg17)" filter="url(#bm15)"/>
</g>
<rect x="322.09999999999997" y="344" width="37.2" height="244.39999999999998" fill="none" stroke="#2a2a2a" stroke-width="0.95"/>
<rect x="322.09999999999997" y="591.2" width="37.2" height="2.7999999999999545" fill="#6b72a8" stroke="#333" stroke-width="0.9"/>
<line x1="340.7" y1="594.0" x2="340.7" y2="595.2" stroke="#333" stroke-width="0.7"/>
<text x="319.30" y="601.80" font-size="7.2" text-anchor="start" fill="#231f20" color="#231f20" >-3.0</text>
<text x="339.10" y="601.80" font-size="7.2" text-anchor="middle" fill="#231f20" color="#231f20" >0</text>
<text x="358.80" y="601.80" font-size="7.2" text-anchor="end" fill="#231f20" color="#231f20" >3.0</text>
<text x="382.40" y="341.30" font-size="9.2" text-anchor="middle" fill="#231f20" color="#231f20">.1 <tspan font-style="italic">vs</tspan> 0</text>
<g clip-path="url(#hc18)">
<rect x="362.5" y="344" width="37.2" height="244.39999999999998" fill="#d7d8ea"/>
<rect x="362.5" y="344" width="37.2" height="244.39999999999998" fill="#fff" filter="url(#nblue)"/>
<rect x="362.5" y="344" width="37.2" height="244.39999999999998" fill="#fff" filter="url(#nwhite)" opacity="0.9"/>
<path d="M378.90 339 L383.30 339 L383.20 405.10 L383.10 593.4 L379.10 593.4 L379.00 405.10 Z" fill="url(#hg18)" filter="url(#bm15)"/>
</g>
<rect x="362.5" y="344" width="37.2" height="244.39999999999998" fill="none" stroke="#2a2a2a" stroke-width="0.95"/>
<rect x="362.5" y="591.2" width="37.2" height="2.7999999999999545" fill="#6b72a8" stroke="#333" stroke-width="0.9"/>
<line x1="381.1" y1="594.0" x2="381.1" y2="595.2" stroke="#333" stroke-width="0.7"/>
<text x="359.70" y="601.80" font-size="7.2" text-anchor="start" fill="#231f20" color="#231f20" >-3.0</text>
<text x="379.50" y="601.80" font-size="7.2" text-anchor="middle" fill="#231f20" color="#231f20" >0</text>
<text x="399.20" y="601.80" font-size="7.2" text-anchor="end" fill="#231f20" color="#231f20" >3.0</text>
<text x="424.90" y="341.30" font-size="9.2" text-anchor="middle" fill="#231f20" color="#231f20">10 <tspan font-style="italic">vs</tspan> 0</text>
<g clip-path="url(#hc19)">
<rect x="402.79999999999995" y="344" width="37.2" height="244.39999999999998" fill="#d7d8ea"/>
<rect x="402.79999999999995" y="344" width="37.2" height="244.39999999999998" fill="#fff" filter="url(#nblue)"/>
<rect x="402.79999999999995" y="344" width="37.2" height="244.39999999999998" fill="#fff" filter="url(#nwhite)" opacity="0.9"/>
<path d="M419.40 339 L423.40 339 L423.35 405.10 L423.30 593.4 L419.50 593.4 L419.45 405.10 Z" fill="url(#hg19)" filter="url(#bm15)"/>
</g>
<rect x="402.79999999999995" y="344" width="37.2" height="244.39999999999998" fill="none" stroke="#2a2a2a" stroke-width="0.95"/>
<rect x="402.79999999999995" y="591.2" width="37.2" height="2.7999999999999545" fill="#6b72a8" stroke="#333" stroke-width="0.9"/>
<line x1="421.4" y1="594.0" x2="421.4" y2="595.2" stroke="#333" stroke-width="0.7"/>
<text x="400.00" y="601.80" font-size="7.2" text-anchor="start" fill="#231f20" color="#231f20" >-3.0</text>
<text x="419.80" y="601.80" font-size="7.2" text-anchor="middle" fill="#231f20" color="#231f20" >0</text>
<text x="439.50" y="601.80" font-size="7.2" text-anchor="end" fill="#231f20" color="#231f20" >3.0</text>
<rect x="442.2" y="344" width="4.4" height="245.39999999999998" fill="#fff" stroke="#8a8a8a" stroke-width="0.7"/>
<rect x="443.5" y="344.3" width="2.9" height="244.79999999999998" fill="url(#cb20)"/>
<line x1="446.6" y1="344" x2="446.6" y2="589.4" stroke="#222" stroke-width="0.9"/>
<line x1="442.2" y1="344" x2="446.6" y2="344" stroke="#222" stroke-width="0.7"/>
<line x1="442.2" y1="589.4" x2="446.6" y2="589.4" stroke="#222" stroke-width="0.7"/>
<line x1="446.5" y1="342.7" x2="448.0" y2="342.7" stroke="#333" stroke-width="0.6"/>
<text x="448.50" y="345.20" font-size="7.2" text-anchor="start" fill="#231f20" color="#231f20" >3.0</text>
<line x1="446.5" y1="384.07" x2="448.0" y2="384.07" stroke="#333" stroke-width="0.6"/>
<text x="448.50" y="386.57" font-size="7.2" text-anchor="start" fill="#231f20" color="#231f20" >2.5</text>
<line x1="446.5" y1="425.44" x2="448.0" y2="425.44" stroke="#333" stroke-width="0.6"/>
<text x="448.50" y="427.94" font-size="7.2" text-anchor="start" fill="#231f20" color="#231f20" >2.0</text>
<line x1="446.5" y1="466.80999999999995" x2="448.0" y2="466.80999999999995" stroke="#333" stroke-width="0.6"/>
<text x="448.50" y="469.31" font-size="7.2" text-anchor="start" fill="#231f20" color="#231f20" >1.5</text>
<line x1="446.5" y1="508.17999999999995" x2="448.0" y2="508.17999999999995" stroke="#333" stroke-width="0.6"/>
<text x="448.50" y="510.68" font-size="7.2" text-anchor="start" fill="#231f20" color="#231f20" >1.0</text>
<line x1="446.5" y1="549.55" x2="448.0" y2="549.55" stroke="#333" stroke-width="0.6"/>
<text x="448.50" y="552.05" font-size="7.2" text-anchor="start" fill="#231f20" color="#231f20" >0.5</text>
<line x1="446.5" y1="590.92" x2="448.0" y2="590.92" stroke="#333" stroke-width="0.6"/>
<text x="448.50" y="593.42" font-size="7.2" text-anchor="start" fill="#231f20" color="#231f20" >0.0</text>
<text x="448.40" y="602.40" font-size="8.2" text-anchor="start" fill="#231f20" color="#231f20" >(kb)</text>
<text x="278.80" y="466.70" font-size="8.1" text-anchor="end" fill="#231f20" color="#231f20" >HD vs 0</text>
<text x="278.20" y="476.20" font-size="8.1" text-anchor="end" fill="#231f20" color="#231f20" >(1537)</text>
<text x="278.50" y="589.40" font-size="8.1" text-anchor="end" fill="#231f20" color="#231f20" >LD Specific</text>
<text x="257.20" y="599.20" font-size="8.1" text-anchor="middle" fill="#231f20" color="#231f20" >(10)</text>
<g transform="translate(490.67 177.77) scale(152.759 -151.754)">
<ellipse cx="0" cy="0" rx="0.35" ry="0.2" transform="translate(0.35 0.47) rotate(135)" fill="#e7e9f2" />
<ellipse cx="0" cy="0" rx="0.35" ry="0.15" transform="translate(0.5 0.57) rotate(135)" fill="#e7e9f2" />
<ellipse cx="0" cy="0" rx="0.33" ry="0.15" transform="translate(0.5 0.57) rotate(45)" fill="#e7e9f2" />
<ellipse cx="0" cy="0" rx="0.35" ry="0.2" transform="translate(0.65 0.47) rotate(45)" fill="#e7e9f2" />
<ellipse cx="0" cy="0" rx="0.35" ry="0.2" transform="translate(0.65 0.47) rotate(45)" fill="#0c509e" />
<g clip-path="url(#v1y)"><ellipse cx="0" cy="0" rx="0.33" ry="0.15" transform="translate(0.5 0.57) rotate(45)" fill="#b3cfe5" /></g>
<g clip-path="url(#v1y)"><ellipse cx="0" cy="0" rx="0.35" ry="0.15" transform="translate(0.5 0.57) rotate(135)" fill="#e7e9f2" /></g>
<ellipse cx="0" cy="0" rx="0.35" ry="0.2" transform="translate(0.35 0.47) rotate(135)" fill="#e7e9f2" />
<ellipse cx="0" cy="0" rx="0.35" ry="0.2" transform="translate(0.35 0.47) rotate(135)" fill="none" stroke="#dc7a78" stroke-width="0.85" vector-effect="non-scaling-stroke"/>
<ellipse cx="0" cy="0" rx="0.35" ry="0.15" transform="translate(0.5 0.57) rotate(135)" fill="none" stroke="#93c48a" stroke-width="0.85" vector-effect="non-scaling-stroke"/>
<ellipse cx="0" cy="0" rx="0.33" ry="0.15" transform="translate(0.5 0.57) rotate(45)" fill="none" stroke="#7890cc" stroke-width="0.85" vector-effect="non-scaling-stroke"/>
<ellipse cx="0" cy="0" rx="0.35" ry="0.2" transform="translate(0.65 0.47) rotate(45)" fill="none" stroke="#e2de7a" stroke-width="0.85" vector-effect="non-scaling-stroke"/>
</g>
<text x="521.00" y="90.70" font-size="8.2" text-anchor="middle" fill="#4a4a4a" color="#4a4a4a" >0</text>
<text x="546.70" y="64.45" font-size="8.2" text-anchor="middle" fill="#4a4a4a" color="#4a4a4a" >0</text>
<text x="586.70" y="64.45" font-size="8.2" text-anchor="middle" fill="#4a4a4a" color="#4a4a4a" >3</text>
<text x="536.80" y="74.70" font-size="8.2" text-anchor="middle" fill="#4a4a4a" color="#4a4a4a" >0</text>
<text x="568.20" y="74.70" font-size="8.2" text-anchor="middle" fill="#4a4a4a" color="#4a4a4a" >0</text>
<text x="594.60" y="77.30" font-size="8.2" text-anchor="middle" fill="#4a4a4a" color="#4a4a4a" >5242</text>
<text x="615.30" y="95.40" font-size="8.2" text-anchor="middle" fill="#ffffff" color="#ffffff"  style="stroke-width:0">32349</text>
<text x="553.30" y="92.20" font-size="8.2" text-anchor="middle" fill="#4a4a4a" color="#4a4a4a" >0</text>
<text x="583.20" y="92.20" font-size="8.2" text-anchor="middle" fill="#4a4a4a" color="#4a4a4a" >0</text>
<text x="569.60" y="104.30" font-size="8.2" text-anchor="middle" fill="#4a4a4a" color="#4a4a4a" >0</text>
<text x="539.40" y="110.90" font-size="8.2" text-anchor="middle" fill="#4a4a4a" color="#4a4a4a" >0</text>
<text x="594.50" y="116.70" font-size="8.2" text-anchor="middle" fill="#4a4a4a" color="#4a4a4a" >0</text>
<text x="554.30" y="122.80" font-size="8.2" text-anchor="middle" fill="#4a4a4a" color="#4a4a4a" >0</text>
<text x="581.30" y="122.80" font-size="8.2" text-anchor="middle" fill="#4a4a4a" color="#4a4a4a" >0</text>
<text x="567.70" y="134.20" font-size="8.2" text-anchor="middle" fill="#4a4a4a" color="#4a4a4a" >0</text>
<text x="510.20" y="10.00" font-size="12.9" text-anchor="start" fill="#231f20" color="#231f20" >VCaP (39621 sites)</text>
<text x="510.20" y="29.20" font-size="12.9" text-anchor="start" fill="#231f20" color="#231f20" >Up (37594 sites)</text>
<text x="526.80" y="46.30" font-size="10.3" text-anchor="start" fill="#231f20" color="#231f20">.03 <tspan font-style="italic">vs</tspan> 0</text>
<text x="575.60" y="46.30" font-size="10.3" text-anchor="start" fill="#231f20" color="#231f20">.06 <tspan font-style="italic">vs</tspan> 0</text>
<text x="485.20" y="58.90" font-size="10.3" text-anchor="start" fill="#231f20" color="#231f20">.01 <tspan font-style="italic">vs</tspan> 0</text>
<text x="611.80" y="58.90" font-size="10.3" text-anchor="start" fill="#231f20" color="#231f20">10 <tspan font-style="italic">vs</tspan> 0</text>
<text x="646.60" y="86.90" font-size="9.4" text-anchor="start" fill="#231f20" color="#231f20" >Count</text>
<rect x="647.1" y="89.8" width="8.4" height="28.200000000000003" fill="url(#lg2)"/>
<line x1="653.9" y1="92.1" x2="655.5" y2="92.1" stroke="#fff" stroke-width="0.6"/>
<text x="657.10" y="94.50" font-size="6.8" text-anchor="start" fill="#333" color="#333" >30000</text>
<line x1="653.9" y1="101.3" x2="655.5" y2="101.3" stroke="#fff" stroke-width="0.6"/>
<text x="657.10" y="103.70" font-size="6.8" text-anchor="start" fill="#333" color="#333" >20000</text>
<line x1="653.9" y1="110.2" x2="655.5" y2="110.2" stroke="#fff" stroke-width="0.6"/>
<text x="657.10" y="112.60" font-size="6.8" text-anchor="start" fill="#333" color="#333" >10000</text>
<line x1="653.9" y1="118.4" x2="655.5" y2="118.4" stroke="#fff" stroke-width="0.6"/>
<text x="657.10" y="120.80" font-size="6.8" text-anchor="start" fill="#333" color="#333" >0</text>
<g transform="translate(493.17 316.13) scale(154.368 -153.158)">
<ellipse cx="0" cy="0" rx="0.35" ry="0.2" transform="translate(0.35 0.47) rotate(135)" fill="#e7e9f2" />
<ellipse cx="0" cy="0" rx="0.35" ry="0.15" transform="translate(0.5 0.57) rotate(135)" fill="#e7e9f2" />
<ellipse cx="0" cy="0" rx="0.33" ry="0.15" transform="translate(0.5 0.57) rotate(45)" fill="#e7e9f2" />
<ellipse cx="0" cy="0" rx="0.35" ry="0.2" transform="translate(0.65 0.47) rotate(45)" fill="#e7e9f2" />
<ellipse cx="0" cy="0" rx="0.35" ry="0.2" transform="translate(0.65 0.47) rotate(45)" fill="#0c509e" />
<g clip-path="url(#v3y)"><ellipse cx="0" cy="0" rx="0.33" ry="0.15" transform="translate(0.5 0.57) rotate(45)" fill="#e7e9f2" /></g>
<g clip-path="url(#v3y)"><ellipse cx="0" cy="0" rx="0.35" ry="0.15" transform="translate(0.5 0.57) rotate(135)" fill="#e7e9f2" /></g>
<ellipse cx="0" cy="0" rx="0.35" ry="0.2" transform="translate(0.35 0.47) rotate(135)" fill="#e7e9f2" />
<ellipse cx="0" cy="0" rx="0.35" ry="0.2" transform="translate(0.35 0.47) rotate(135)" fill="none" stroke="#dc7a78" stroke-width="0.85" vector-effect="non-scaling-stroke"/>
<ellipse cx="0" cy="0" rx="0.35" ry="0.15" transform="translate(0.5 0.57) rotate(135)" fill="none" stroke="#93c48a" stroke-width="0.85" vector-effect="non-scaling-stroke"/>
<ellipse cx="0" cy="0" rx="0.33" ry="0.15" transform="translate(0.5 0.57) rotate(45)" fill="none" stroke="#7890cc" stroke-width="0.85" vector-effect="non-scaling-stroke"/>
<ellipse cx="0" cy="0" rx="0.35" ry="0.2" transform="translate(0.65 0.47) rotate(45)" fill="none" stroke="#e2de7a" stroke-width="0.85" vector-effect="non-scaling-stroke"/>
</g>
<text x="520.10" y="229.60" font-size="8.2" text-anchor="middle" fill="#4a4a4a" color="#4a4a4a" >0</text>
<text x="546.30" y="203.00" font-size="8.2" text-anchor="middle" fill="#4a4a4a" color="#4a4a4a" >0</text>
<text x="588.20" y="200.40" font-size="8.2" text-anchor="middle" fill="#4a4a4a" color="#4a4a4a" >1</text>
<text x="536.50" y="213.90" font-size="8.2" text-anchor="middle" fill="#4a4a4a" color="#4a4a4a" >0</text>
<text x="568.20" y="213.70" font-size="8.2" text-anchor="middle" fill="#4a4a4a" color="#4a4a4a" >0</text>
<text x="595.50" y="216.30" font-size="8.2" text-anchor="middle" fill="#4a4a4a" color="#4a4a4a" >1</text>
<text x="618.20" y="231.60" font-size="8.2" text-anchor="middle" fill="#ffffff" color="#ffffff"  style="stroke-width:0">2025</text>
<text x="553.00" y="231.00" font-size="8.2" text-anchor="middle" fill="#4a4a4a" color="#4a4a4a" >0</text>
<text x="582.90" y="231.00" font-size="8.2" text-anchor="middle" fill="#4a4a4a" color="#4a4a4a" >0</text>
<text x="569.40" y="243.50" font-size="8.2" text-anchor="middle" fill="#4a4a4a" color="#4a4a4a" >0</text>
<text x="539.10" y="249.60" font-size="8.2" text-anchor="middle" fill="#4a4a4a" color="#4a4a4a" >0</text>
<text x="593.90" y="255.60" font-size="8.2" text-anchor="middle" fill="#4a4a4a" color="#4a4a4a" >0</text>
<text x="557.10" y="261.70" font-size="8.2" text-anchor="middle" fill="#4a4a4a" color="#4a4a4a" >0</text>
<text x="581.20" y="261.70" font-size="8.2" text-anchor="middle" fill="#4a4a4a" color="#4a4a4a" >0</text>
<text x="567.10" y="273.50" font-size="8.2" text-anchor="middle" fill="#4a4a4a" color="#4a4a4a" >0</text>
<text x="510.20" y="169.30" font-size="12.9" text-anchor="start" fill="#231f20" color="#231f20" >Down (2027 sites)</text>
<text x="524.00" y="185.00" font-size="10.3" text-anchor="start" fill="#231f20" color="#231f20">.03 <tspan font-style="italic">vs</tspan> 0</text>
<text x="573.30" y="185.00" font-size="10.3" text-anchor="start" fill="#231f20" color="#231f20">.06 <tspan font-style="italic">vs</tspan> 0</text>
<text x="482.30" y="197.50" font-size="10.3" text-anchor="start" fill="#231f20" color="#231f20">.01 <tspan font-style="italic">vs</tspan> 0</text>
<text x="611.80" y="197.50" font-size="10.3" text-anchor="start" fill="#231f20" color="#231f20">10 <tspan font-style="italic">vs</tspan> 0</text>
<text x="647.60" y="244.10" font-size="9.4" text-anchor="start" fill="#231f20" color="#231f20" >Count</text>
<rect x="647.1" y="247" width="8.4" height="35.60000000000002" fill="url(#lg4)"/>
<line x1="653.9" y1="248.7" x2="655.5" y2="248.7" stroke="#fff" stroke-width="0.6"/>
<text x="657.10" y="251.10" font-size="6.8" text-anchor="start" fill="#333" color="#333" >2000</text>
<line x1="653.9" y1="256.9" x2="655.5" y2="256.9" stroke="#fff" stroke-width="0.6"/>
<text x="657.10" y="259.30" font-size="6.8" text-anchor="start" fill="#333" color="#333" >1500</text>
<line x1="653.9" y1="264.5" x2="655.5" y2="264.5" stroke="#fff" stroke-width="0.6"/>
<text x="657.10" y="266.90" font-size="6.8" text-anchor="start" fill="#333" color="#333" >1000</text>
<line x1="653.9" y1="273" x2="655.5" y2="273" stroke="#fff" stroke-width="0.6"/>
<text x="657.10" y="275.40" font-size="6.8" text-anchor="start" fill="#333" color="#333" >500</text>
<line x1="653.9" y1="281.6" x2="655.5" y2="281.6" stroke="#fff" stroke-width="0.6"/>
<text x="657.10" y="284.00" font-size="6.8" text-anchor="start" fill="#333" color="#333" >0</text>
<g transform="translate(488.09 482.31) scale(152.414 -151.930)">
<ellipse cx="0" cy="0" rx="0.35" ry="0.2" transform="translate(0.35 0.47) rotate(135)" fill="#e7e9f2" />
<ellipse cx="0" cy="0" rx="0.35" ry="0.15" transform="translate(0.5 0.57) rotate(135)" fill="#e7e9f2" />
<ellipse cx="0" cy="0" rx="0.33" ry="0.15" transform="translate(0.5 0.57) rotate(45)" fill="#e7e9f2" />
<ellipse cx="0" cy="0" rx="0.35" ry="0.2" transform="translate(0.65 0.47) rotate(45)" fill="#e7e9f2" />
<ellipse cx="0" cy="0" rx="0.35" ry="0.2" transform="translate(0.65 0.47) rotate(45)" fill="#0c509e" />
<g clip-path="url(#v5y)"><ellipse cx="0" cy="0" rx="0.33" ry="0.15" transform="translate(0.5 0.57) rotate(45)" fill="#b3cfe5" /></g>
<g clip-path="url(#v5y)"><ellipse cx="0" cy="0" rx="0.35" ry="0.15" transform="translate(0.5 0.57) rotate(135)" fill="#e7e9f2" /></g>
<g clip-path="url(#v5y)"><g clip-path="url(#v5b)"><ellipse cx="0" cy="0" rx="0.35" ry="0.15" transform="translate(0.5 0.57) rotate(135)" fill="#abc9e2" /></g></g>
<ellipse cx="0" cy="0" rx="0.35" ry="0.2" transform="translate(0.35 0.47) rotate(135)" fill="#e7e9f2" />
<ellipse cx="0" cy="0" rx="0.35" ry="0.2" transform="translate(0.35 0.47) rotate(135)" fill="none" stroke="#dc7a78" stroke-width="0.85" vector-effect="non-scaling-stroke"/>
<ellipse cx="0" cy="0" rx="0.35" ry="0.15" transform="translate(0.5 0.57) rotate(135)" fill="none" stroke="#93c48a" stroke-width="0.85" vector-effect="non-scaling-stroke"/>
<ellipse cx="0" cy="0" rx="0.33" ry="0.15" transform="translate(0.5 0.57) rotate(45)" fill="none" stroke="#7890cc" stroke-width="0.85" vector-effect="non-scaling-stroke"/>
<ellipse cx="0" cy="0" rx="0.35" ry="0.2" transform="translate(0.65 0.47) rotate(45)" fill="none" stroke="#e2de7a" stroke-width="0.85" vector-effect="non-scaling-stroke"/>
</g>
<text x="521.00" y="398.00" font-size="8.2" text-anchor="middle" fill="#4a4a4a" color="#4a4a4a" >0</text>
<text x="543.90" y="367.60" font-size="8.2" text-anchor="middle" fill="#4a4a4a" color="#4a4a4a" >5</text>
<text x="581.20" y="367.60" font-size="8.2" text-anchor="middle" fill="#4a4a4a" color="#4a4a4a" >67</text>
<text x="534.10" y="382.30" font-size="8.2" text-anchor="middle" fill="#4a4a4a" color="#4a4a4a" >0</text>
<text x="564.70" y="381.20" font-size="8.2" text-anchor="middle" fill="#4a4a4a" color="#4a4a4a" >3</text>
<text x="591.50" y="381.80" font-size="8.2" text-anchor="middle" fill="#4a4a4a" color="#4a4a4a" >6257</text>
<text x="612.30" y="398.20" font-size="8.2" text-anchor="middle" fill="#ffffff" color="#ffffff"  style="stroke-width:0">38199</text>
<text x="550.10" y="399.70" font-size="8.2" text-anchor="middle" fill="#4a4a4a" color="#4a4a4a" >0</text>
<text x="578.30" y="397.60" font-size="8.2" text-anchor="middle" fill="#4a4a4a" color="#4a4a4a" >7511</text>
<text x="566.50" y="411.80" font-size="8.2" text-anchor="middle" fill="#4a4a4a" color="#4a4a4a" >0</text>
<text x="536.70" y="418.40" font-size="8.2" text-anchor="middle" fill="#4a4a4a" color="#4a4a4a" >0</text>
<text x="595.00" y="423.90" font-size="8.2" text-anchor="middle" fill="#4a4a4a" color="#4a4a4a" >282</text>
<text x="551.10" y="428.50" font-size="8.2" text-anchor="middle" fill="#4a4a4a" color="#4a4a4a" >0</text>
<text x="577.30" y="428.00" font-size="8.2" text-anchor="middle" fill="#4a4a4a" color="#4a4a4a" >0</text>
<text x="564.20" y="442.00" font-size="8.2" text-anchor="middle" fill="#4a4a4a" color="#4a4a4a" >0</text>
<text x="510.20" y="320.00" font-size="12.9" text-anchor="start" fill="#231f20" color="#231f20" >LNCaP (53871 sites)</text>
<text x="510.20" y="336.50" font-size="12.9" text-anchor="start" fill="#231f20" color="#231f20" >Up (52324 sites)</text>
<text x="520.80" y="353.00" font-size="10.3" text-anchor="start" fill="#231f20" color="#231f20">.06 <tspan font-style="italic">vs</tspan> 0</text>
<text x="568.40" y="353.00" font-size="10.3" text-anchor="start" fill="#231f20" color="#231f20">.1 <tspan font-style="italic">vs</tspan> 0</text>
<text x="479.70" y="365.00" font-size="10.3" text-anchor="start" fill="#231f20" color="#231f20">.03 <tspan font-style="italic">vs</tspan> 0</text>
<text x="607.80" y="365.00" font-size="10.3" text-anchor="start" fill="#231f20" color="#231f20">10 <tspan font-style="italic">vs</tspan> 0</text>
<text x="644.00" y="390.10" font-size="9.4" text-anchor="start" fill="#231f20" color="#231f20" >Count</text>
<rect x="644" y="393" width="8.4" height="28.5" fill="url(#lg6)"/>
<line x1="650.8" y1="397.6" x2="652.4" y2="397.6" stroke="#fff" stroke-width="0.6"/>
<text x="654.00" y="400.00" font-size="6.8" text-anchor="start" fill="#333" color="#333" >30000</text>
<line x1="650.8" y1="405.1" x2="652.4" y2="405.1" stroke="#fff" stroke-width="0.6"/>
<text x="654.00" y="407.50" font-size="6.8" text-anchor="start" fill="#333" color="#333" >20000</text>
<line x1="650.8" y1="412.7" x2="652.4" y2="412.7" stroke="#fff" stroke-width="0.6"/>
<text x="654.00" y="415.10" font-size="6.8" text-anchor="start" fill="#333" color="#333" >10000</text>
<line x1="650.8" y1="420.2" x2="652.4" y2="420.2" stroke="#fff" stroke-width="0.6"/>
<text x="654.00" y="422.60" font-size="6.8" text-anchor="start" fill="#333" color="#333" >0</text>
<g transform="translate(489.47 617.37) scale(154.368 -152.807)">
<ellipse cx="0" cy="0" rx="0.35" ry="0.2" transform="translate(0.35 0.47) rotate(135)" fill="#e7e9f2" />
<ellipse cx="0" cy="0" rx="0.35" ry="0.15" transform="translate(0.5 0.57) rotate(135)" fill="#e7e9f2" />
<ellipse cx="0" cy="0" rx="0.33" ry="0.15" transform="translate(0.5 0.57) rotate(45)" fill="#e7e9f2" />
<ellipse cx="0" cy="0" rx="0.35" ry="0.2" transform="translate(0.65 0.47) rotate(45)" fill="#e7e9f2" />
<ellipse cx="0" cy="0" rx="0.35" ry="0.2" transform="translate(0.65 0.47) rotate(45)" fill="#0c509e" />
<g clip-path="url(#v7y)"><ellipse cx="0" cy="0" rx="0.33" ry="0.15" transform="translate(0.5 0.57) rotate(45)" fill="#e7e9f2" /></g>
<g clip-path="url(#v7y)"><ellipse cx="0" cy="0" rx="0.35" ry="0.15" transform="translate(0.5 0.57) rotate(135)" fill="#e7e9f2" /></g>
<ellipse cx="0" cy="0" rx="0.35" ry="0.2" transform="translate(0.35 0.47) rotate(135)" fill="#e7e9f2" />
<ellipse cx="0" cy="0" rx="0.35" ry="0.2" transform="translate(0.35 0.47) rotate(135)" fill="none" stroke="#dc7a78" stroke-width="0.85" vector-effect="non-scaling-stroke"/>
<ellipse cx="0" cy="0" rx="0.35" ry="0.15" transform="translate(0.5 0.57) rotate(135)" fill="none" stroke="#93c48a" stroke-width="0.85" vector-effect="non-scaling-stroke"/>
<ellipse cx="0" cy="0" rx="0.33" ry="0.15" transform="translate(0.5 0.57) rotate(45)" fill="none" stroke="#7890cc" stroke-width="0.85" vector-effect="non-scaling-stroke"/>
<ellipse cx="0" cy="0" rx="0.35" ry="0.2" transform="translate(0.65 0.47) rotate(45)" fill="none" stroke="#e2de7a" stroke-width="0.85" vector-effect="non-scaling-stroke"/>
</g>
<text x="522.20" y="536.00" font-size="8.2" text-anchor="middle" fill="#4a4a4a" color="#4a4a4a" >0</text>
<text x="547.80" y="506.30" font-size="8.2" text-anchor="middle" fill="#4a4a4a" color="#4a4a4a" >0</text>
<text x="584.20" y="507.20" font-size="8.2" text-anchor="middle" fill="#4a4a4a" color="#4a4a4a" >10</text>
<text x="534.50" y="519.90" font-size="8.2" text-anchor="middle" fill="#4a4a4a" color="#4a4a4a" >0</text>
<text x="566.20" y="519.90" font-size="8.2" text-anchor="middle" fill="#4a4a4a" color="#4a4a4a" >0</text>
<text x="593.10" y="519.90" font-size="8.2" text-anchor="middle" fill="#4a4a4a" color="#4a4a4a" >0</text>
<text x="619.10" y="532.80" font-size="8.2" text-anchor="middle" fill="#ffffff" color="#ffffff"  style="stroke-width:0">1537</text>
<text x="551.00" y="537.40" font-size="8.2" text-anchor="middle" fill="#4a4a4a" color="#4a4a4a" >0</text>
<text x="581.00" y="537.40" font-size="8.2" text-anchor="middle" fill="#4a4a4a" color="#4a4a4a" >0</text>
<text x="567.30" y="549.50" font-size="8.2" text-anchor="middle" fill="#4a4a4a" color="#4a4a4a" >0</text>
<text x="537.60" y="555.90" font-size="8.2" text-anchor="middle" fill="#4a4a4a" color="#4a4a4a" >0</text>
<text x="592.30" y="561.80" font-size="8.2" text-anchor="middle" fill="#4a4a4a" color="#4a4a4a" >0</text>
<text x="553.90" y="563.50" font-size="8.2" text-anchor="middle" fill="#4a4a4a" color="#4a4a4a" >0</text>
<text x="577.90" y="565.60" font-size="8.2" text-anchor="middle" fill="#4a4a4a" color="#4a4a4a" >0</text>
<text x="565.20" y="579.40" font-size="8.2" text-anchor="middle" fill="#4a4a4a" color="#4a4a4a" >0</text>
<text x="510.20" y="475.00" font-size="12.9" text-anchor="start" fill="#231f20" color="#231f20" >Down (1547 sites)</text>
<text x="520.80" y="489.00" font-size="10.3" text-anchor="start" fill="#231f20" color="#231f20">.06 <tspan font-style="italic">vs</tspan> 0</text>
<text x="568.40" y="489.00" font-size="10.3" text-anchor="start" fill="#231f20" color="#231f20">.1 <tspan font-style="italic">vs</tspan> 0</text>
<text x="481.40" y="502.40" font-size="10.3" text-anchor="start" fill="#231f20" color="#231f20">.03 <tspan font-style="italic">vs</tspan> 0</text>
<text x="610.10" y="502.40" font-size="10.3" text-anchor="start" fill="#231f20" color="#231f20">10 <tspan font-style="italic">vs</tspan> 0</text>
<text x="646.60" y="526.90" font-size="9.4" text-anchor="start" fill="#231f20" color="#231f20" >Count</text>
<rect x="646.6" y="529.8" width="8.4" height="28.0" fill="url(#lg8)"/>
<line x1="653.4" y1="530.5" x2="655.0" y2="530.5" stroke="#fff" stroke-width="0.6"/>
<text x="656.60" y="532.90" font-size="6.8" text-anchor="start" fill="#333" color="#333" >1500</text>
<line x1="653.4" y1="540.3" x2="655.0" y2="540.3" stroke="#fff" stroke-width="0.6"/>
<text x="656.60" y="542.70" font-size="6.8" text-anchor="start" fill="#333" color="#333" >1000</text>
<line x1="653.4" y1="549.9" x2="655.0" y2="549.9" stroke="#fff" stroke-width="0.6"/>
<text x="656.60" y="552.30" font-size="6.8" text-anchor="start" fill="#333" color="#333" >500</text>
<line x1="653.4" y1="558.4" x2="655.0" y2="558.4" stroke="#fff" stroke-width="0.6"/>
<text x="656.60" y="560.80" font-size="6.8" text-anchor="start" fill="#333" color="#333" >0</text>
<rect x="52.5" y="647.4" width="305.5" height="62.200000000000045" fill="#f8f9f9"/>
<line x1="52.5" y1="709.6" x2="358" y2="709.6" stroke="#dcdcdc" stroke-width="0.9"/>
<line x1="53.2" y1="638.7" x2="192.13" y2="638.7" stroke="#555" stroke-width="1.1"/>
<line x1="219.67" y1="638.7" x2="357.5" y2="638.7" stroke="#555" stroke-width="1.1"/>
<text x="205.90" y="643.00" font-size="10.3" text-anchor="middle" fill="#231f20" color="#231f20" >18kb</text>
<text x="53.1" y="650.10" font-size="2.7" fill="#666" color="#666">[0 - 50]</text>
<text x="53.1" y="660.80" font-size="2.7" fill="#666" color="#666">[0 - 50]</text>
<text x="53.1" y="671.90" font-size="2.7" fill="#666" color="#666">[0 - 50]</text>
<text x="53.1" y="682.70" font-size="2.7" fill="#666" color="#666">[0 - 50]</text>
<text x="53.1" y="693.60" font-size="2.7" fill="#666" color="#666">[0 - 50]</text>
<line x1="52.5" y1="658.3" x2="358" y2="658.3" stroke="#a3a9da" stroke-width="1.0" opacity="1"/>
<line x1="52.5" y1="658.3" x2="358" y2="658.3" stroke="#5a66b8" stroke-width="0.9" stroke-dasharray="0.9 31.1 2.1 12.2 1.5 18.4 1.8 29.2 0.8 4.9 2.2 17.8 2.0 4.1 1.4 27.1 1.0 34.2 2.3 5.0 0.6 21.3 2.4 16.2 1.0 17.5 0.7 11.1 1.4 19.9 1.0 11.4 1.0 18.7" opacity="0.5"/>
<line x1="52.5" y1="669.4" x2="358" y2="669.4" stroke="#a3a9da" stroke-width="1.0" opacity="1"/>
<line x1="52.5" y1="669.4" x2="358" y2="669.4" stroke="#5a66b8" stroke-width="0.9" stroke-dasharray="1.2 4.7 2.2 21.8 1.8 9.9 2.5 31.5 0.8 14.6 2.0 26.8 2.4 17.5 2.2 25.4 1.2 22.8 2.3 31.1 1.6 22.8 0.7 11.8 2.1 17.3 0.9 21.6 1.9 25.6" opacity="0.5"/>
<line x1="52.5" y1="680.2" x2="358" y2="680.2" stroke="#a3a9da" stroke-width="1.0" opacity="1"/>
<line x1="52.5" y1="680.2" x2="358" y2="680.2" stroke="#5a66b8" stroke-width="0.9" stroke-dasharray="1.3 18.0 1.6 28.9 1.6 16.6 1.5 4.9 0.7 26.5 2.5 23.0 1.3 9.5 1.6 35.4 2.1 21.3 2.2 11.4 1.6 34.5 1.7 18.7 1.1 21.5 2.4 4.2 2.1 30.3" opacity="0.5"/>
<line x1="52.5" y1="691.1" x2="358" y2="691.1" stroke="#a3a9da" stroke-width="1.0" opacity="0.45"/>
<line x1="52.5" y1="691.1" x2="358" y2="691.1" stroke="#5a66b8" stroke-width="0.9" stroke-dasharray="2.3 27.7 2.1 20.6 1.7 17.6 0.7 31.8 1.7 10.4 1.6 19.5 1.3 15.1 1.6 24.0 1.8 18.7 0.7 11.3 0.9 22.7 2.2 29.6 2.1 30.1 1.1 30.9" opacity="0.225"/>
<line x1="52.5" y1="701.3" x2="358" y2="701.3" stroke="#f0a2a4" stroke-width="1.0" opacity="1"/>
<line x1="52.5" y1="701.3" x2="358" y2="701.3" stroke="#e0505a" stroke-width="0.9" stroke-dasharray="1.9 6.7 0.6 4.5 2.0 12.0 0.8 24.0 1.3 6.2 0.9 20.9 0.9 12.7 2.0 18.6 1.2 19.2 0.6 16.4 1.4 10.0 0.8 32.8 1.6 10.7 1.8 30.1 0.6 4.6 0.9 27.0 0.9 26.5 1.9 21.4" opacity="0.5"/>
<path d="M99.05 658.70 L99.05 658.50 L99.40 658.43 L99.75 658.34 L100.10 658.22 L100.45 658.08 L100.80 657.92 L101.15 657.74 L101.50 657.53 L101.85 657.30 L102.20 657.07 L102.55 656.83 L102.90 656.60 L103.25 656.39 L103.60 656.20 L103.95 656.06 L104.30 655.96 L104.65 655.91 L105.00 655.91 L105.35 655.97 L105.70 656.08 L106.05 656.23 L106.40 656.42 L106.75 656.63 L107.10 656.87 L107.45 657.10 L107.80 657.34 L108.15 657.56 L108.50 657.76 L108.85 657.95 L109.20 658.10 L109.55 658.24 L109.90 658.35 L110.25 658.44 L110.55 658.70 Z" fill="#2e3f9c"/>
<path d="M99.05 669.80 L99.05 669.62 L99.40 669.55 L99.75 669.46 L100.10 669.36 L100.45 669.23 L100.80 669.08 L101.15 668.90 L101.50 668.71 L101.85 668.50 L102.20 668.29 L102.55 668.07 L102.90 667.85 L103.25 667.65 L103.60 667.48 L103.95 667.35 L104.30 667.25 L104.65 667.20 L105.00 667.21 L105.35 667.26 L105.70 667.36 L106.05 667.51 L106.40 667.68 L106.75 667.88 L107.10 668.10 L107.45 668.32 L107.80 668.53 L108.15 668.74 L108.50 668.93 L108.85 669.10 L109.20 669.25 L109.55 669.37 L109.90 669.48 L110.25 669.56 L110.55 669.80 Z" fill="#2e3f9c"/>
<path d="M99.05 680.60 L99.05 680.39 L99.40 680.31 L99.75 680.21 L100.10 680.09 L100.45 679.94 L100.80 679.77 L101.15 679.57 L101.50 679.34 L101.85 679.10 L102.20 678.85 L102.55 678.60 L102.90 678.35 L103.25 678.12 L103.60 677.93 L103.95 677.77 L104.30 677.66 L104.65 677.61 L105.00 677.61 L105.35 677.67 L105.70 677.79 L106.05 677.95 L106.40 678.16 L106.75 678.39 L107.10 678.64 L107.45 678.89 L107.80 679.14 L108.15 679.38 L108.50 679.60 L108.85 679.79 L109.20 679.96 L109.55 680.11 L109.90 680.23 L110.25 680.32 L110.55 680.60 Z" fill="#2e3f9c"/>
<path d="M98.80 691.50 L98.80 691.25 L99.15 691.17 L99.50 691.06 L99.85 690.93 L100.20 690.77 L100.55 690.59 L100.90 690.38 L101.25 690.14 L101.60 689.89 L101.95 689.62 L102.30 689.34 L102.65 689.07 L103.00 688.82 L103.35 688.58 L103.70 688.39 L104.05 688.24 L104.40 688.14 L104.75 688.10 L105.10 688.12 L105.45 688.20 L105.80 688.34 L106.15 688.52 L106.50 688.75 L106.85 689.00 L107.20 689.27 L107.55 689.54 L107.90 689.81 L108.25 690.07 L108.60 690.31 L108.95 690.53 L109.30 690.72 L109.65 690.89 L110.00 691.03 L110.35 691.14 L110.70 691.23 L110.80 691.50 Z" fill="#2e3f9c"/>
<path d="M99.90 701.70 L99.90 701.23 L100.25 700.99 L100.60 700.66 L100.95 700.23 L101.30 699.68 L101.65 699.02 L102.00 698.26 L102.35 697.44 L102.70 696.60 L103.05 695.79 L103.40 695.08 L103.75 694.53 L104.10 694.19 L104.45 694.10 L104.80 694.27 L105.15 694.67 L105.50 695.27 L105.85 696.01 L106.20 696.84 L106.55 697.68 L106.90 698.49 L107.25 699.22 L107.60 699.85 L107.95 700.36 L108.30 700.77 L108.65 701.07 L108.90 701.70 Z" fill="#d8143a"/>
<path d="M102.00 701.70 L102.00 701.42 L102.35 701.31 L102.70 701.18 L103.05 701.00 L103.40 700.79 L103.75 700.54 L104.10 700.26 L104.45 699.94 L104.80 699.60 L105.15 699.24 L105.50 698.89 L105.85 698.55 L106.20 698.25 L106.55 698.01 L106.90 697.83 L107.25 697.72 L107.60 697.70 L107.95 697.77 L108.30 697.92 L108.65 698.14 L109.00 698.42 L109.35 698.74 L109.70 699.09 L110.05 699.45 L110.40 699.79 L110.75 700.12 L111.10 700.42 L111.45 700.69 L111.80 700.92 L112.15 701.11 L112.50 701.26 L112.85 701.38 L113.00 701.70 Z" fill="#d8143a"/>
<path d="M109.50 701.70 L109.50 701.64 L109.85 701.62 L110.20 701.58 L110.55 701.53 L110.90 701.46 L111.25 701.38 L111.60 701.29 L111.95 701.20 L112.30 701.10 L112.65 701.00 L113.00 700.92 L113.35 700.85 L113.70 700.81 L114.05 700.80 L114.40 700.82 L114.75 700.87 L115.10 700.94 L115.45 701.03 L115.80 701.12 L116.15 701.22 L116.50 701.32 L116.85 701.41 L117.20 701.48 L117.55 701.54 L117.90 701.59 L118.25 701.63 L118.50 701.70 Z" fill="#d8143a"/>
<path d="M116.50 701.70 L116.50 701.65 L116.85 701.63 L117.20 701.61 L117.55 701.58 L117.90 701.54 L118.25 701.50 L118.60 701.45 L118.95 701.39 L119.30 701.33 L119.65 701.27 L120.00 701.21 L120.35 701.15 L120.70 701.10 L121.05 701.05 L121.40 701.02 L121.75 701.00 L122.10 701.00 L122.45 701.01 L122.80 701.04 L123.15 701.08 L123.50 701.13 L123.85 701.18 L124.20 701.24 L124.55 701.31 L124.90 701.37 L125.25 701.42 L125.60 701.48 L125.95 701.52 L126.30 701.56 L126.65 701.60 L127.00 701.62 L127.35 701.64 L127.50 701.70 Z" fill="#d8143a"/>
<path d="M244.12 658.70 L244.57 658.10 L245.02 658.70 Z" fill="#2e3f9c"/>
<path d="M295.03 658.70 L295.48 658.02 L295.93 658.70 Z" fill="#2e3f9c"/>
<path d="M278.69 658.70 L279.14 658.03 L279.59 658.70 Z" fill="#2e3f9c"/>
<path d="M68.62 658.70 L69.07 658.21 L69.52 658.70 Z" fill="#2e3f9c"/>
<path d="M338.81 669.80 L339.26 669.24 L339.71 669.80 Z" fill="#2e3f9c"/>
<path d="M326.27 669.80 L326.72 669.45 L327.17 669.80 Z" fill="#2e3f9c"/>
<path d="M198.66 669.80 L199.11 669.40 L199.56 669.80 Z" fill="#2e3f9c"/>
<path d="M220.73 669.80 L221.18 669.27 L221.63 669.80 Z" fill="#2e3f9c"/>
<path d="M63.93 680.60 L64.38 680.21 L64.83 680.60 Z" fill="#2e3f9c"/>
<path d="M142.64 680.60 L143.09 679.93 L143.54 680.60 Z" fill="#2e3f9c"/>
<path d="M286.32 680.60 L286.77 680.24 L287.22 680.60 Z" fill="#2e3f9c"/>
<path d="M295.61 680.60 L296.06 680.24 L296.51 680.60 Z" fill="#2e3f9c"/>
<path d="M242.51 691.50 L242.96 691.15 L243.41 691.50 Z" fill="#2e3f9c"/>
<path d="M60.57 691.50 L61.02 690.85 L61.47 691.50 Z" fill="#2e3f9c"/>
<path d="M121.94 691.50 L122.39 691.11 L122.84 691.50 Z" fill="#2e3f9c"/>
<path d="M350.36 691.50 L350.81 690.85 L351.26 691.50 Z" fill="#2e3f9c"/>
<path d="M145.54 701.70 L145.99 701.02 L146.44 701.70 Z" fill="#d8143a"/>
<path d="M219.39 701.70 L219.84 701.13 L220.29 701.70 Z" fill="#d8143a"/>
<path d="M120.56 701.70 L121.01 701.02 L121.46 701.70 Z" fill="#d8143a"/>
<path d="M264.13 701.70 L264.58 701.01 L265.03 701.70 Z" fill="#d8143a"/>
<line x1="52.2" y1="712.2" x2="108.7" y2="712.2" stroke="#2f44a4" stroke-width="0.55" opacity="0.75"/>
<path d="M55.2 711.3 L56.1 712.2 L55.2 713.1" fill="none" stroke="#2f44a4" stroke-width="0.45" opacity="0.7"/>
<path d="M61.5 711.3 L62.4 712.2 L61.5 713.1" fill="none" stroke="#2f44a4" stroke-width="0.45" opacity="0.7"/>
<path d="M72.4 711.3 L73.3 712.2 L72.4 713.1" fill="none" stroke="#2f44a4" stroke-width="0.45" opacity="0.7"/>
<path d="M82.2 711.3 L83.1 712.2 L82.2 713.1" fill="none" stroke="#2f44a4" stroke-width="0.45" opacity="0.7"/>
<path d="M90.3 711.3 L91.2 712.2 L90.3 713.1" fill="none" stroke="#2f44a4" stroke-width="0.45" opacity="0.7"/>
<path d="M96.6 711.3 L97.5 712.2 L96.6 713.1" fill="none" stroke="#2f44a4" stroke-width="0.45" opacity="0.7"/>
<path d="M105.5 711.3 L106.4 712.2 L105.5 713.1" fill="none" stroke="#2f44a4" stroke-width="0.45" opacity="0.7"/>
<line x1="171.1" y1="712.2" x2="267.8" y2="712.2" stroke="#2f44a4" stroke-width="0.55" opacity="0.75"/>
<path d="M174.1 711.3 L175.0 712.2 L174.1 713.1" fill="none" stroke="#2f44a4" stroke-width="0.45" opacity="0.7"/>
<path d="M182.6 711.3 L183.5 712.2 L182.6 713.1" fill="none" stroke="#2f44a4" stroke-width="0.45" opacity="0.7"/>
<path d="M189.5 711.3 L190.4 712.2 L189.5 713.1" fill="none" stroke="#2f44a4" stroke-width="0.45" opacity="0.7"/>
<path d="M198.3 711.3 L199.2 712.2 L198.3 713.1" fill="none" stroke="#2f44a4" stroke-width="0.45" opacity="0.7"/>
<path d="M203.6 711.3 L204.5 712.2 L203.6 713.1" fill="none" stroke="#2f44a4" stroke-width="0.45" opacity="0.7"/>
<path d="M210.4 711.3 L211.3 712.2 L210.4 713.1" fill="none" stroke="#2f44a4" stroke-width="0.45" opacity="0.7"/>
<path d="M221.2 711.3 L222.1 712.2 L221.2 713.1" fill="none" stroke="#2f44a4" stroke-width="0.45" opacity="0.7"/>
<path d="M231.5 711.3 L232.4 712.2 L231.5 713.1" fill="none" stroke="#2f44a4" stroke-width="0.45" opacity="0.7"/>
<path d="M238.3 711.3 L239.2 712.2 L238.3 713.1" fill="none" stroke="#2f44a4" stroke-width="0.45" opacity="0.7"/>
<path d="M248.5 711.3 L249.4 712.2 L248.5 713.1" fill="none" stroke="#2f44a4" stroke-width="0.45" opacity="0.7"/>
<path d="M255.3 711.3 L256.2 712.2 L255.3 713.1" fill="none" stroke="#2f44a4" stroke-width="0.45" opacity="0.7"/>
<rect x="104.5" y="711.00" width="4.200000000000003" height="2.4" fill="#2f44a4"/>
<rect x="171.1" y="711.20" width="1.200000000000017" height="2.0" fill="#2f44a4"/>
<rect x="192.3" y="711.00" width="3.299999999999983" height="2.4" fill="#2f44a4"/>
<rect x="222.2" y="711.00" width="4.700000000000017" height="2.4" fill="#2f44a4"/>
<rect x="229.2" y="711.00" width="1.8000000000000114" height="2.4" fill="#2f44a4"/>
<rect x="246.7" y="711.45" width="21.100000000000023" height="1.5" fill="#2f44a4"/>
<rect x="253.7" y="710.90" width="2.8000000000000114" height="2.6" fill="#2f44a4"/>
<text x="87.40" y="721.60" font-size="6.9" text-anchor="middle" fill="#222" color="#222" >NR_131203.1</text>
<text x="218.30" y="725.40" font-size="10.3" text-anchor="start" fill="#231f20" color="#231f20" >KLK3</text>
<rect x="92.6" y="645.2" width="44.099999999999994" height="64.69999999999993" fill="none" stroke="#e8413f" stroke-width="0.9"/>
<text x="50.80" y="652.20" font-size="9.2" text-anchor="end" fill="#231f20" color="#231f20" >R1881 nM</text>
<text x="50.30" y="661.60" font-size="9.2" text-anchor="end" fill="#231f20" color="#231f20" >0</text>
<text x="50.30" y="672.70" font-size="9.2" text-anchor="end" fill="#231f20" color="#231f20" >.01</text>
<text x="50.30" y="683.50" font-size="9.2" text-anchor="end" fill="#231f20" color="#231f20" >.03</text>
<text x="50.30" y="694.40" font-size="9.2" text-anchor="end" fill="#231f20" color="#231f20" >.06</text>
<text x="50.30" y="704.60" font-size="9.2" text-anchor="end" fill="#231f20" color="#231f20" >10</text>
<rect x="52.5" y="736.7" width="305.5" height="59.89999999999998" fill="#f8f9f9"/>
<line x1="52.5" y1="796.6" x2="358" y2="796.6" stroke="#dcdcdc" stroke-width="0.9"/>
<line x1="53.2" y1="733.6" x2="188.97" y2="733.6" stroke="#555" stroke-width="1.1"/>
<line x1="222.23" y1="733.6" x2="357.5" y2="733.6" stroke="#555" stroke-width="1.1"/>
<text x="205.60" y="737.90" font-size="10.3" text-anchor="middle" fill="#231f20" color="#231f20" >188kb</text>
<text x="53.1" y="739.40" font-size="2.7" fill="#666" color="#666">[0 - 50]</text>
<text x="53.1" y="750.10" font-size="2.7" fill="#666" color="#666">[0 - 50]</text>
<text x="53.1" y="761.10" font-size="2.7" fill="#666" color="#666">[0 - 50]</text>
<text x="53.1" y="771.80" font-size="2.7" fill="#666" color="#666">[0 - 50]</text>
<text x="53.1" y="783.00" font-size="2.7" fill="#666" color="#666">[0 - 50]</text>
<line x1="52.5" y1="747.6" x2="358" y2="747.6" stroke="#a3a9da" stroke-width="1.0" opacity="1.0"/>
<line x1="52.5" y1="747.6" x2="358" y2="747.6" stroke="#5a66b8" stroke-width="0.9" stroke-dasharray="0.9 31.1 2.1 12.2 1.5 18.4 1.8 29.2 0.8 4.9 2.2 17.8 2.0 4.1 1.4 27.1 1.0 34.2 2.3 5.0 0.6 21.3 2.4 16.2 1.0 17.5 0.7 11.1 1.4 19.9 1.0 11.4 1.0 18.7" opacity="0.5"/>
<line x1="52.5" y1="758.6" x2="358" y2="758.6" stroke="#a3a9da" stroke-width="1.0" opacity="1.0"/>
<line x1="52.5" y1="758.6" x2="358" y2="758.6" stroke="#5a66b8" stroke-width="0.9" stroke-dasharray="1.2 4.7 2.2 21.8 1.8 9.9 2.5 31.5 0.8 14.6 2.0 26.8 2.4 17.5 2.2 25.4 1.2 22.8 2.3 31.1 1.6 22.8 0.7 11.8 2.1 17.3 0.9 21.6 1.9 25.6" opacity="0.5"/>
<line x1="52.5" y1="769.3" x2="358" y2="769.3" stroke="#a3a9da" stroke-width="1.0" opacity="1.0"/>
<line x1="52.5" y1="769.3" x2="358" y2="769.3" stroke="#5a66b8" stroke-width="0.9" stroke-dasharray="1.3 18.0 1.6 28.9 1.6 16.6 1.5 4.9 0.7 26.5 2.5 23.0 1.3 9.5 1.6 35.4 2.1 21.3 2.2 11.4 1.6 34.5 1.7 18.7 1.1 21.5 2.4 4.2 2.1 30.3" opacity="0.5"/>
<line x1="52.5" y1="780.5" x2="358" y2="780.5" stroke="#a3a9da" stroke-width="1.0" opacity="1.0"/>
<line x1="52.5" y1="780.5" x2="358" y2="780.5" stroke="#5a66b8" stroke-width="0.9" stroke-dasharray="2.3 27.7 2.1 20.6 1.7 17.6 0.7 31.8 1.7 10.4 1.6 19.5 1.3 15.1 1.6 24.0 1.8 18.7 0.7 11.3 0.9 22.7 2.2 29.6 2.1 30.1 1.1 30.9" opacity="0.5"/>
<line x1="52.5" y1="791.2" x2="358" y2="791.2" stroke="#f0a2a4" stroke-width="1.0" opacity="1.0"/>
<line x1="52.5" y1="791.2" x2="358" y2="791.2" stroke="#e0505a" stroke-width="0.9" stroke-dasharray="1.9 6.7 0.6 4.5 2.0 12.0 0.8 24.0 1.3 6.2 0.9 20.9 0.9 12.7 2.0 18.6 1.2 19.2 0.6 16.4 1.4 10.0 0.8 32.8 1.6 10.7 1.8 30.1 0.6 4.6 0.9 27.0 0.9 26.5 1.9 21.4" opacity="0.5"/>
<path d="M328.70 748.00 L329.30 746.80 L329.90 748.00 Z" fill="#2e3f9c"/>
<path d="M334.90 748.00 L335.50 746.80 L336.10 748.00 Z" fill="#2e3f9c"/>
<path d="M328.70 759.00 L329.30 757.80 L329.90 759.00 Z" fill="#2e3f9c"/>
<path d="M334.90 759.00 L335.50 757.80 L336.10 759.00 Z" fill="#2e3f9c"/>
<path d="M328.70 769.70 L329.30 768.40 L329.90 769.70 Z" fill="#2e3f9c"/>
<path d="M334.90 769.70 L335.50 768.40 L336.10 769.70 Z" fill="#2e3f9c"/>
<path d="M319.70 780.90 L320.40 779.30 L321.10 780.90 Z" fill="#2e3f9c"/>
<path d="M328.70 780.90 L329.30 779.70 L329.90 780.90 Z" fill="#2e3f9c"/>
<path d="M334.80 780.90 L335.50 779.30 L336.20 780.90 Z" fill="#2e3f9c"/>
<path d="M319.00 791.60 L319.00 791.56 L319.35 791.20 L319.70 789.49 L320.05 785.87 L320.40 783.60 L320.75 785.87 L321.10 789.49 L321.45 791.20 L321.80 791.60 Z" fill="#d8143a"/>
<path d="M328.60 791.60 L329.30 789.60 L330.00 791.60 Z" fill="#d8143a"/>
<path d="M334.20 791.60 L334.20 791.59 L334.55 791.44 L334.90 790.56 L335.25 788.70 L335.60 788.12 L335.95 789.81 L336.30 791.20 L336.65 791.56 L336.80 791.60 Z" fill="#d8143a"/>
<path d="M324.90 791.60 L325.50 790.40 L326.10 791.60 Z" fill="#d8143a"/>
<path d="M324.15 748.00 L324.60 747.61 L325.05 748.00 Z" fill="#2e3f9c"/>
<path d="M166.78 748.00 L167.23 747.65 L167.68 748.00 Z" fill="#2e3f9c"/>
<path d="M103.10 748.00 L103.55 747.68 L104.00 748.00 Z" fill="#2e3f9c"/>
<path d="M149.10 759.00 L149.55 758.52 L150.00 759.00 Z" fill="#2e3f9c"/>
<path d="M61.05 759.00 L61.50 758.50 L61.95 759.00 Z" fill="#2e3f9c"/>
<path d="M159.90 759.00 L160.35 758.61 L160.80 759.00 Z" fill="#2e3f9c"/>
<path d="M301.92 769.70 L302.37 769.26 L302.82 769.70 Z" fill="#2e3f9c"/>
<path d="M153.37 769.70 L153.82 769.26 L154.27 769.70 Z" fill="#2e3f9c"/>
<path d="M268.28 769.70 L268.73 769.38 L269.18 769.70 Z" fill="#2e3f9c"/>
<path d="M348.19 780.90 L348.64 780.59 L349.09 780.90 Z" fill="#2e3f9c"/>
<path d="M281.61 780.90 L282.06 780.35 L282.51 780.90 Z" fill="#2e3f9c"/>
<path d="M65.39 780.90 L65.84 780.36 L66.29 780.90 Z" fill="#2e3f9c"/>
<path d="M168.26 791.60 L168.71 791.13 L169.16 791.60 Z" fill="#d8143a"/>
<path d="M62.73 791.60 L63.18 791.29 L63.63 791.60 Z" fill="#d8143a"/>
<path d="M113.51 791.60 L113.96 791.01 L114.41 791.60 Z" fill="#d8143a"/>
<line x1="53.0" y1="801.3" x2="357.5" y2="801.3" stroke="#2f44a4" stroke-width="0.55" opacity="0.75"/>
<path d="M56.0 800.4 L56.9 801.3 L56.0 802.2" fill="none" stroke="#2f44a4" stroke-width="0.45" opacity="0.7"/>
<path d="M62.3 800.4 L63.2 801.3 L62.3 802.2" fill="none" stroke="#2f44a4" stroke-width="0.45" opacity="0.7"/>
<path d="M73.2 800.4 L74.1 801.3 L73.2 802.2" fill="none" stroke="#2f44a4" stroke-width="0.45" opacity="0.7"/>
<path d="M83.0 800.4 L83.9 801.3 L83.0 802.2" fill="none" stroke="#2f44a4" stroke-width="0.45" opacity="0.7"/>
<path d="M91.1 800.4 L92.0 801.3 L91.1 802.2" fill="none" stroke="#2f44a4" stroke-width="0.45" opacity="0.7"/>
<path d="M97.4 800.4 L98.3 801.3 L97.4 802.2" fill="none" stroke="#2f44a4" stroke-width="0.45" opacity="0.7"/>
<path d="M106.3 800.4 L107.2 801.3 L106.3 802.2" fill="none" stroke="#2f44a4" stroke-width="0.45" opacity="0.7"/>
<path d="M113.7 800.4 L114.6 801.3 L113.7 802.2" fill="none" stroke="#2f44a4" stroke-width="0.45" opacity="0.7"/>
<path d="M122.1 800.4 L123.0 801.3 L122.1 802.2" fill="none" stroke="#2f44a4" stroke-width="0.45" opacity="0.7"/>
<path d="M129.0 800.4 L129.9 801.3 L129.0 802.2" fill="none" stroke="#2f44a4" stroke-width="0.45" opacity="0.7"/>
<path d="M137.8 800.4 L138.7 801.3 L137.8 802.2" fill="none" stroke="#2f44a4" stroke-width="0.45" opacity="0.7"/>
<path d="M143.2 800.4 L144.1 801.3 L143.2 802.2" fill="none" stroke="#2f44a4" stroke-width="0.45" opacity="0.7"/>
<path d="M150.0 800.4 L150.9 801.3 L150.0 802.2" fill="none" stroke="#2f44a4" stroke-width="0.45" opacity="0.7"/>
<path d="M160.8 800.4 L161.7 801.3 L160.8 802.2" fill="none" stroke="#2f44a4" stroke-width="0.45" opacity="0.7"/>
<path d="M171.0 800.4 L171.9 801.3 L171.0 802.2" fill="none" stroke="#2f44a4" stroke-width="0.45" opacity="0.7"/>
<path d="M177.9 800.4 L178.8 801.3 L177.9 802.2" fill="none" stroke="#2f44a4" stroke-width="0.45" opacity="0.7"/>
<path d="M188.0 800.4 L188.9 801.3 L188.0 802.2" fill="none" stroke="#2f44a4" stroke-width="0.45" opacity="0.7"/>
<path d="M194.9 800.4 L195.8 801.3 L194.9 802.2" fill="none" stroke="#2f44a4" stroke-width="0.45" opacity="0.7"/>
<path d="M205.5 800.4 L206.4 801.3 L205.5 802.2" fill="none" stroke="#2f44a4" stroke-width="0.45" opacity="0.7"/>
<path d="M215.0 800.4 L215.9 801.3 L215.0 802.2" fill="none" stroke="#2f44a4" stroke-width="0.45" opacity="0.7"/>
<path d="M222.5 800.4 L223.4 801.3 L222.5 802.2" fill="none" stroke="#2f44a4" stroke-width="0.45" opacity="0.7"/>
<path d="M229.0 800.4 L229.9 801.3 L229.0 802.2" fill="none" stroke="#2f44a4" stroke-width="0.45" opacity="0.7"/>
<path d="M234.0 800.4 L234.9 801.3 L234.0 802.2" fill="none" stroke="#2f44a4" stroke-width="0.45" opacity="0.7"/>
<path d="M244.3 800.4 L245.2 801.3 L244.3 802.2" fill="none" stroke="#2f44a4" stroke-width="0.45" opacity="0.7"/>
<path d="M249.5 800.4 L250.4 801.3 L249.5 802.2" fill="none" stroke="#2f44a4" stroke-width="0.45" opacity="0.7"/>
<path d="M259.5 800.4 L260.4 801.3 L259.5 802.2" fill="none" stroke="#2f44a4" stroke-width="0.45" opacity="0.7"/>
<path d="M270.2 800.4 L271.1 801.3 L270.2 802.2" fill="none" stroke="#2f44a4" stroke-width="0.45" opacity="0.7"/>
<path d="M278.7 800.4 L279.6 801.3 L278.7 802.2" fill="none" stroke="#2f44a4" stroke-width="0.45" opacity="0.7"/>
<path d="M284.7 800.4 L285.6 801.3 L284.7 802.2" fill="none" stroke="#2f44a4" stroke-width="0.45" opacity="0.7"/>
<path d="M294.9 800.4 L295.8 801.3 L294.9 802.2" fill="none" stroke="#2f44a4" stroke-width="0.45" opacity="0.7"/>
<path d="M305.7 800.4 L306.6 801.3 L305.7 802.2" fill="none" stroke="#2f44a4" stroke-width="0.45" opacity="0.7"/>
<path d="M315.0 800.4 L315.9 801.3 L315.0 802.2" fill="none" stroke="#2f44a4" stroke-width="0.45" opacity="0.7"/>
<path d="M323.0 800.4 L323.9 801.3 L323.0 802.2" fill="none" stroke="#2f44a4" stroke-width="0.45" opacity="0.7"/>
<path d="M330.3 800.4 L331.2 801.3 L330.3 802.2" fill="none" stroke="#2f44a4" stroke-width="0.45" opacity="0.7"/>
<path d="M337.4 800.4 L338.3 801.3 L337.4 802.2" fill="none" stroke="#2f44a4" stroke-width="0.45" opacity="0.7"/>
<path d="M343.6 800.4 L344.5 801.3 L343.6 802.2" fill="none" stroke="#2f44a4" stroke-width="0.45" opacity="0.7"/>
<path d="M352.6 800.4 L353.5 801.3 L352.6 802.2" fill="none" stroke="#2f44a4" stroke-width="0.45" opacity="0.7"/>
<rect x="78.3" y="800.10" width="3.700000000000003" height="2.4" fill="#2f44a4"/>
<rect x="88" y="800.10" width="12.400000000000006" height="2.4" fill="#2f44a4"/>
<rect x="106.2" y="800.20" width="0.7000000000000028" height="2.2" fill="#2f44a4"/>
<rect x="109.6" y="800.20" width="0.7000000000000028" height="2.2" fill="#2f44a4"/>
<rect x="116.6" y="800.20" width="0.8000000000000114" height="2.2" fill="#2f44a4"/>
<rect x="123.2" y="800.20" width="0.7999999999999972" height="2.2" fill="#2f44a4"/>
<rect x="153" y="800.30" width="0.8000000000000114" height="2.0" fill="#2f44a4"/>
<rect x="339.3" y="800.10" width="1.8999999999999773" height="2.4" fill="#2f44a4"/>
<rect x="342.6" y="800.10" width="3.3999999999999773" height="2.4" fill="#2f44a4"/>
<rect x="348" y="800.40" width="1" height="1.8" fill="#2f44a4"/>
<text x="81.40" y="810.40" font-size="6.9" text-anchor="middle" fill="#222" color="#222" >XR_242006.3</text>
<text x="304.50" y="810.50" font-size="6.9" text-anchor="middle" fill="#222" color="#222" >LOC285847</text>
<text x="345.40" y="810.50" font-size="6.9" text-anchor="middle" fill="#222" color="#222" >ARMC12</text>
<text x="196.70" y="815.20" font-size="10.3" text-anchor="start" fill="#231f20" color="#231f20" >FKBP5</text>
<rect x="313.1" y="738.5" width="27.899999999999977" height="60.799999999999955" fill="none" stroke="#e8413f" stroke-width="0.9"/>
<text x="50.80" y="741.00" font-size="9.2" text-anchor="end" fill="#231f20" color="#231f20" >R1881 nM</text>
<text x="50.30" y="750.90" font-size="9.2" text-anchor="end" fill="#231f20" color="#231f20" >0</text>
<text x="50.30" y="761.90" font-size="9.2" text-anchor="end" fill="#231f20" color="#231f20" >.01</text>
<text x="50.30" y="772.60" font-size="9.2" text-anchor="end" fill="#231f20" color="#231f20" >.03</text>
<text x="50.30" y="783.80" font-size="9.2" text-anchor="end" fill="#231f20" color="#231f20" >.06</text>
<text x="50.30" y="794.50" font-size="9.2" text-anchor="end" fill="#231f20" color="#231f20" >10</text>
<rect x="52.5" y="833.7" width="305.5" height="61.89999999999998" fill="#f8f9f9"/>
<line x1="52.5" y1="895.6" x2="358" y2="895.6" stroke="#dcdcdc" stroke-width="0.9"/>
<line x1="53.2" y1="826.4" x2="192.33" y2="826.4" stroke="#555" stroke-width="1.1"/>
<line x1="219.87" y1="826.4" x2="357.5" y2="826.4" stroke="#555" stroke-width="1.1"/>
<text x="206.10" y="830.70" font-size="10.3" text-anchor="middle" fill="#231f20" color="#231f20" >40kb</text>
<text x="53.1" y="836.40" font-size="2.7" fill="#666" color="#666">[0 - 50]</text>
<text x="53.1" y="847.10" font-size="2.7" fill="#666" color="#666">[0 - 50]</text>
<text x="53.1" y="858.00" font-size="2.7" fill="#666" color="#666">[0 - 50]</text>
<text x="53.1" y="869.00" font-size="2.7" fill="#666" color="#666">[0 - 50]</text>
<text x="53.1" y="880.00" font-size="2.7" fill="#666" color="#666">[0 - 50]</text>
<line x1="52.5" y1="844.6" x2="358" y2="844.6" stroke="#a3a9da" stroke-width="1.0" opacity="1.0"/>
<line x1="52.5" y1="844.6" x2="358" y2="844.6" stroke="#5a66b8" stroke-width="0.9" stroke-dasharray="0.9 31.1 2.1 12.2 1.5 18.4 1.8 29.2 0.8 4.9 2.2 17.8 2.0 4.1 1.4 27.1 1.0 34.2 2.3 5.0 0.6 21.3 2.4 16.2 1.0 17.5 0.7 11.1 1.4 19.9 1.0 11.4 1.0 18.7" opacity="0.5"/>
<line x1="52.5" y1="855.5" x2="358" y2="855.5" stroke="#a3a9da" stroke-width="1.0" opacity="1.0"/>
<line x1="52.5" y1="855.5" x2="358" y2="855.5" stroke="#5a66b8" stroke-width="0.9" stroke-dasharray="1.2 4.7 2.2 21.8 1.8 9.9 2.5 31.5 0.8 14.6 2.0 26.8 2.4 17.5 2.2 25.4 1.2 22.8 2.3 31.1 1.6 22.8 0.7 11.8 2.1 17.3 0.9 21.6 1.9 25.6" opacity="0.5"/>
<line x1="52.5" y1="866.5" x2="358" y2="866.5" stroke="#a3a9da" stroke-width="1.0" opacity="1.0"/>
<line x1="52.5" y1="866.5" x2="358" y2="866.5" stroke="#5a66b8" stroke-width="0.9" stroke-dasharray="1.3 18.0 1.6 28.9 1.6 16.6 1.5 4.9 0.7 26.5 2.5 23.0 1.3 9.5 1.6 35.4 2.1 21.3 2.2 11.4 1.6 34.5 1.7 18.7 1.1 21.5 2.4 4.2 2.1 30.3" opacity="0.5"/>
<line x1="52.5" y1="877.5" x2="358" y2="877.5" stroke="#a3a9da" stroke-width="1.0" opacity="1.0"/>
<line x1="52.5" y1="877.5" x2="358" y2="877.5" stroke="#5a66b8" stroke-width="0.9" stroke-dasharray="2.3 27.7 2.1 20.6 1.7 17.6 0.7 31.8 1.7 10.4 1.6 19.5 1.3 15.1 1.6 24.0 1.8 18.7 0.7 11.3 0.9 22.7 2.2 29.6 2.1 30.1 1.1 30.9" opacity="0.5"/>
<line x1="52.5" y1="888.2" x2="358" y2="888.2" stroke="#f0a2a4" stroke-width="1.0" opacity="1.0"/>
<line x1="52.5" y1="888.2" x2="358" y2="888.2" stroke="#e0505a" stroke-width="0.9" stroke-dasharray="1.9 6.7 0.6 4.5 2.0 12.0 0.8 24.0 1.3 6.2 0.9 20.9 0.9 12.7 2.0 18.6 1.2 19.2 0.6 16.4 1.4 10.0 0.8 32.8 1.6 10.7 1.8 30.1 0.6 4.6 0.9 27.0 0.9 26.5 1.9 21.4" opacity="0.5"/>
<path d="M149.15 845.00 L149.15 844.94 L149.50 844.88 L149.85 844.76 L150.20 844.57 L150.55 844.32 L150.90 844.03 L151.25 843.75 L151.60 843.56 L151.95 843.50 L152.30 843.60 L152.65 843.83 L153.00 844.11 L153.35 844.40 L153.70 844.63 L154.05 844.80 L154.40 844.90 L154.65 845.00 Z" fill="#2e3f9c"/>
<path d="M149.15 855.90 L149.15 855.86 L149.50 855.80 L149.85 855.71 L150.20 855.56 L150.55 855.36 L150.90 855.12 L151.25 854.90 L151.60 854.75 L151.95 854.70 L152.30 854.78 L152.65 854.96 L153.00 855.19 L153.35 855.42 L153.70 855.61 L154.05 855.74 L154.40 855.82 L154.65 855.90 Z" fill="#2e3f9c"/>
<path d="M149.15 866.90 L149.15 866.85 L149.50 866.79 L149.85 866.68 L150.20 866.50 L150.55 866.27 L150.90 865.99 L151.25 865.74 L151.60 865.55 L151.95 865.50 L152.30 865.59 L152.65 865.80 L153.00 866.07 L153.35 866.34 L153.70 866.56 L154.05 866.71 L154.40 866.81 L154.65 866.90 Z" fill="#2e3f9c"/>
<path d="M148.90 877.90 L148.90 877.81 L149.25 877.72 L149.60 877.56 L149.95 877.32 L150.30 877.01 L150.65 876.63 L151.00 876.25 L151.35 875.92 L151.70 875.73 L152.05 875.72 L152.40 875.89 L152.75 876.20 L153.10 876.58 L153.45 876.96 L153.80 877.28 L154.15 877.53 L154.50 877.70 L154.85 877.80 L154.90 877.90 Z" fill="#2e3f9c"/>
<path d="M148.15 888.60 L148.15 888.40 L148.50 888.26 L148.85 888.05 L149.20 887.77 L149.55 887.40 L149.90 886.95 L150.25 886.45 L150.60 885.93 L150.95 885.45 L151.30 885.08 L151.65 884.85 L152.00 884.81 L152.35 884.96 L152.70 885.28 L153.05 885.72 L153.40 886.22 L153.75 886.74 L154.10 887.22 L154.45 887.62 L154.80 887.94 L155.15 888.18 L155.50 888.35 L155.65 888.60 Z" fill="#d8143a"/>
<path d="M96.80 888.60 L96.80 888.56 L97.15 888.52 L97.50 888.45 L97.85 888.34 L98.20 888.19 L98.55 888.02 L98.90 887.85 L99.25 887.70 L99.60 887.61 L99.95 887.61 L100.30 887.68 L100.65 887.83 L101.00 888.00 L101.35 888.17 L101.70 888.32 L102.05 888.43 L102.40 888.51 L102.75 888.55 L102.80 888.60 Z" fill="#d8143a"/>
<path d="M316.55 845.00 L316.55 844.97 L316.90 844.91 L317.25 844.79 L317.60 844.57 L317.95 844.29 L318.30 844.00 L318.65 843.82 L319.00 843.83 L319.35 844.03 L319.70 844.33 L320.05 844.61 L320.40 844.81 L320.75 844.92 L321.05 845.00 Z" fill="#2e3f9c"/>
<path d="M316.55 855.90 L316.55 855.87 L316.90 855.81 L317.25 855.69 L317.60 855.47 L317.95 855.19 L318.30 854.90 L318.65 854.72 L319.00 854.73 L319.35 854.93 L319.70 855.23 L320.05 855.51 L320.40 855.71 L320.75 855.82 L321.05 855.90 Z" fill="#2e3f9c"/>
<path d="M316.55 866.90 L316.55 866.87 L316.90 866.81 L317.25 866.69 L317.60 866.47 L317.95 866.19 L318.30 865.90 L318.65 865.72 L319.00 865.73 L319.35 865.93 L319.70 866.23 L320.05 866.51 L320.40 866.71 L320.75 866.82 L321.05 866.90 Z" fill="#2e3f9c"/>
<path d="M315.80 877.90 L315.80 877.80 L316.15 877.70 L316.50 877.53 L316.85 877.27 L317.20 876.93 L317.55 876.52 L317.90 876.10 L318.25 875.74 L318.60 875.53 L318.95 875.52 L319.30 875.70 L319.65 876.04 L320.00 876.46 L320.35 876.87 L320.70 877.23 L321.05 877.50 L321.40 877.68 L321.75 877.79 L321.80 877.90 Z" fill="#2e3f9c"/>
<path d="M327.90 877.90 L327.90 877.86 L328.25 877.81 L328.60 877.70 L328.95 877.52 L329.30 877.28 L329.65 877.02 L330.00 876.80 L330.35 876.70 L330.70 876.76 L331.05 876.95 L331.40 877.21 L331.75 877.46 L332.10 877.66 L332.45 877.78 L332.80 877.85 L332.90 877.90 Z" fill="#2e3f9c"/>
<path d="M315.15 888.60 L315.15 888.23 L315.50 887.91 L315.85 887.40 L316.20 886.65 L316.55 885.65 L316.90 884.45 L317.25 883.16 L317.60 881.96 L317.95 881.06 L318.30 880.62 L318.65 880.74 L319.00 881.40 L319.35 882.45 L319.70 883.71 L320.05 884.98 L320.40 886.11 L320.75 887.00 L321.10 887.65 L321.45 888.07 L321.65 888.60 Z" fill="#d8143a"/>
<path d="M317.50 888.60 L317.50 888.45 L317.85 888.34 L318.20 888.16 L318.55 887.91 L318.90 887.58 L319.25 887.18 L319.60 886.74 L319.95 886.31 L320.30 885.94 L320.65 885.69 L321.00 885.60 L321.35 885.69 L321.70 885.94 L322.05 886.31 L322.40 886.74 L322.75 887.18 L323.10 887.58 L323.45 887.91 L323.80 888.16 L324.15 888.34 L324.50 888.60 Z" fill="#d8143a"/>
<path d="M326.90 888.60 L326.90 888.36 L327.25 888.18 L327.60 887.90 L327.95 887.50 L328.30 886.97 L328.65 886.33 L329.00 885.63 L329.35 884.94 L329.70 884.34 L330.05 883.94 L330.40 883.80 L330.75 883.94 L331.10 884.34 L331.45 884.94 L331.80 885.63 L332.15 886.33 L332.50 886.97 L332.85 887.50 L333.20 887.90 L333.55 888.18 L333.90 888.60 Z" fill="#d8143a"/>
<path d="M341.50 888.60 L341.50 888.57 L341.85 888.54 L342.20 888.47 L342.55 888.35 L342.90 888.19 L343.25 888.01 L343.60 887.87 L343.95 887.80 L344.30 887.84 L344.65 887.97 L345.00 888.14 L345.35 888.31 L345.70 888.44 L346.05 888.52 L346.40 888.57 L346.50 888.60 Z" fill="#d8143a"/>
<path d="M118.12 845.00 L118.57 844.47 L119.02 845.00 Z" fill="#2e3f9c"/>
<path d="M334.76 845.00 L335.21 844.42 L335.66 845.00 Z" fill="#2e3f9c"/>
<path d="M161.81 845.00 L162.26 844.59 L162.71 845.00 Z" fill="#2e3f9c"/>
<path d="M215.10 855.90 L215.55 855.37 L216.00 855.90 Z" fill="#2e3f9c"/>
<path d="M91.98 855.90 L92.43 855.38 L92.88 855.90 Z" fill="#2e3f9c"/>
<path d="M295.63 855.90 L296.08 855.34 L296.53 855.90 Z" fill="#2e3f9c"/>
<path d="M70.87 866.90 L71.32 866.32 L71.77 866.90 Z" fill="#2e3f9c"/>
<path d="M86.99 866.90 L87.44 866.50 L87.89 866.90 Z" fill="#2e3f9c"/>
<path d="M240.55 866.90 L241.00 866.32 L241.45 866.90 Z" fill="#2e3f9c"/>
<path d="M160.51 877.90 L160.96 877.32 L161.41 877.90 Z" fill="#2e3f9c"/>
<path d="M221.14 877.90 L221.59 877.51 L222.04 877.90 Z" fill="#2e3f9c"/>
<path d="M153.66 877.90 L154.11 877.55 L154.56 877.90 Z" fill="#2e3f9c"/>
<path d="M83.16 888.60 L83.61 888.26 L84.06 888.60 Z" fill="#d8143a"/>
<path d="M263.70 888.60 L264.15 888.00 L264.60 888.60 Z" fill="#d8143a"/>
<path d="M107.78 888.60 L108.23 888.29 L108.68 888.60 Z" fill="#d8143a"/>
<line x1="68" y1="898.8" x2="344" y2="898.8" stroke="#2f44a4" stroke-width="0.55" opacity="0.75"/>
<path d="M71.0 897.9 L71.9 898.8 L71.0 899.7" fill="none" stroke="#2f44a4" stroke-width="0.45" opacity="0.7"/>
<path d="M77.3 897.9 L78.2 898.8 L77.3 899.7" fill="none" stroke="#2f44a4" stroke-width="0.45" opacity="0.7"/>
<path d="M88.2 897.9 L89.1 898.8 L88.2 899.7" fill="none" stroke="#2f44a4" stroke-width="0.45" opacity="0.7"/>
<path d="M98.0 897.9 L98.9 898.8 L98.0 899.7" fill="none" stroke="#2f44a4" stroke-width="0.45" opacity="0.7"/>
<path d="M106.1 897.9 L107.0 898.8 L106.1 899.7" fill="none" stroke="#2f44a4" stroke-width="0.45" opacity="0.7"/>
<path d="M112.4 897.9 L113.3 898.8 L112.4 899.7" fill="none" stroke="#2f44a4" stroke-width="0.45" opacity="0.7"/>
<path d="M121.3 897.9 L122.2 898.8 L121.3 899.7" fill="none" stroke="#2f44a4" stroke-width="0.45" opacity="0.7"/>
<path d="M128.7 897.9 L129.6 898.8 L128.7 899.7" fill="none" stroke="#2f44a4" stroke-width="0.45" opacity="0.7"/>
<path d="M137.1 897.9 L138.0 898.8 L137.1 899.7" fill="none" stroke="#2f44a4" stroke-width="0.45" opacity="0.7"/>
<path d="M144.0 897.9 L144.9 898.8 L144.0 899.7" fill="none" stroke="#2f44a4" stroke-width="0.45" opacity="0.7"/>
<path d="M152.8 897.9 L153.7 898.8 L152.8 899.7" fill="none" stroke="#2f44a4" stroke-width="0.45" opacity="0.7"/>
<path d="M158.2 897.9 L159.1 898.8 L158.2 899.7" fill="none" stroke="#2f44a4" stroke-width="0.45" opacity="0.7"/>
<path d="M165.0 897.9 L165.9 898.8 L165.0 899.7" fill="none" stroke="#2f44a4" stroke-width="0.45" opacity="0.7"/>
<path d="M175.8 897.9 L176.7 898.8 L175.8 899.7" fill="none" stroke="#2f44a4" stroke-width="0.45" opacity="0.7"/>
<path d="M186.0 897.9 L186.9 898.8 L186.0 899.7" fill="none" stroke="#2f44a4" stroke-width="0.45" opacity="0.7"/>
<path d="M192.9 897.9 L193.8 898.8 L192.9 899.7" fill="none" stroke="#2f44a4" stroke-width="0.45" opacity="0.7"/>
<path d="M203.0 897.9 L203.9 898.8 L203.0 899.7" fill="none" stroke="#2f44a4" stroke-width="0.45" opacity="0.7"/>
<path d="M209.9 897.9 L210.8 898.8 L209.9 899.7" fill="none" stroke="#2f44a4" stroke-width="0.45" opacity="0.7"/>
<path d="M220.5 897.9 L221.4 898.8 L220.5 899.7" fill="none" stroke="#2f44a4" stroke-width="0.45" opacity="0.7"/>
<path d="M230.0 897.9 L230.9 898.8 L230.0 899.7" fill="none" stroke="#2f44a4" stroke-width="0.45" opacity="0.7"/>
<path d="M237.5 897.9 L238.4 898.8 L237.5 899.7" fill="none" stroke="#2f44a4" stroke-width="0.45" opacity="0.7"/>
<path d="M244.0 897.9 L244.9 898.8 L244.0 899.7" fill="none" stroke="#2f44a4" stroke-width="0.45" opacity="0.7"/>
<path d="M249.0 897.9 L249.9 898.8 L249.0 899.7" fill="none" stroke="#2f44a4" stroke-width="0.45" opacity="0.7"/>
<path d="M259.3 897.9 L260.2 898.8 L259.3 899.7" fill="none" stroke="#2f44a4" stroke-width="0.45" opacity="0.7"/>
<path d="M264.5 897.9 L265.4 898.8 L264.5 899.7" fill="none" stroke="#2f44a4" stroke-width="0.45" opacity="0.7"/>
<path d="M274.5 897.9 L275.4 898.8 L274.5 899.7" fill="none" stroke="#2f44a4" stroke-width="0.45" opacity="0.7"/>
<path d="M285.2 897.9 L286.1 898.8 L285.2 899.7" fill="none" stroke="#2f44a4" stroke-width="0.45" opacity="0.7"/>
<path d="M293.7 897.9 L294.6 898.8 L293.7 899.7" fill="none" stroke="#2f44a4" stroke-width="0.45" opacity="0.7"/>
<path d="M299.7 897.9 L300.6 898.8 L299.7 899.7" fill="none" stroke="#2f44a4" stroke-width="0.45" opacity="0.7"/>
<path d="M309.9 897.9 L310.8 898.8 L309.9 899.7" fill="none" stroke="#2f44a4" stroke-width="0.45" opacity="0.7"/>
<path d="M320.7 897.9 L321.6 898.8 L320.7 899.7" fill="none" stroke="#2f44a4" stroke-width="0.45" opacity="0.7"/>
<path d="M330.0 897.9 L330.9 898.8 L330.0 899.7" fill="none" stroke="#2f44a4" stroke-width="0.45" opacity="0.7"/>
<path d="M338.0 897.9 L338.9 898.8 L338.0 899.7" fill="none" stroke="#2f44a4" stroke-width="0.45" opacity="0.7"/>
<rect x="67.8" y="897.90" width="66.2" height="1.8" fill="#2f44a4"/>
<rect x="133.5" y="897.50" width="1.5" height="2.6" fill="#2f44a4"/>
<rect x="144.5" y="897.60" width="0.8000000000000114" height="2.4" fill="#2f44a4"/>
<rect x="159" y="897.50" width="3.5" height="2.6" fill="#2f44a4"/>
<rect x="167.5" y="897.50" width="3.5" height="2.6" fill="#2f44a4"/>
<text x="181.40" y="912.40" font-size="10.3" text-anchor="start" fill="#231f20" color="#231f20" >STEAP4</text>
<rect x="315" y="833.9" width="22.399999999999977" height="61.0" fill="none" stroke="#e8413f" stroke-width="0.9"/>
<text x="50.80" y="837.00" font-size="9.2" text-anchor="end" fill="#231f20" color="#231f20" >R1881 nM</text>
<text x="50.30" y="847.90" font-size="9.2" text-anchor="end" fill="#231f20" color="#231f20" >0</text>
<text x="50.30" y="858.80" font-size="9.2" text-anchor="end" fill="#231f20" color="#231f20" >.01</text>
<text x="50.30" y="869.80" font-size="9.2" text-anchor="end" fill="#231f20" color="#231f20" >.03</text>
<text x="50.30" y="880.80" font-size="9.2" text-anchor="end" fill="#231f20" color="#231f20" >.06</text>
<text x="50.30" y="891.50" font-size="9.2" text-anchor="end" fill="#231f20" color="#231f20" >10</text>
<line x1="363" y1="644.5" x2="363" y2="915" stroke="#444" stroke-width="1"/>
<rect x="369" y="647.7" width="316" height="60.5" fill="#f8f9f9"/>
<line x1="369" y1="708.2" x2="685" y2="708.2" stroke="#dcdcdc" stroke-width="0.9"/>
<line x1="369.7" y1="639" x2="505.67" y2="639" stroke="#555" stroke-width="1.1"/>
<line x1="538.93" y1="639" x2="677" y2="639" stroke="#555" stroke-width="1.1"/>
<text x="522.30" y="643.30" font-size="10.3" text-anchor="middle" fill="#231f20" color="#231f20" >100kb</text>
<line x1="369" y1="647.7" x2="685" y2="647.7" stroke="#e4e4e4" stroke-width="0.8"/>
<text x="369.6" y="650.40" font-size="2.7" fill="#666" color="#666">[0 - 50]</text>
<text x="369.6" y="660.90" font-size="2.7" fill="#666" color="#666">[0 - 50]</text>
<text x="369.6" y="672.60" font-size="2.7" fill="#666" color="#666">[0 - 50]</text>
<text x="369.6" y="683.90" font-size="2.7" fill="#666" color="#666">[0 - 50]</text>
<text x="369.6" y="695.10" font-size="2.7" fill="#666" color="#666">[0 - 50]</text>
<line x1="369" y1="658.4" x2="685" y2="658.4" stroke="#c3c7e5" stroke-width="1.0" opacity="1.0"/>
<line x1="369" y1="658.4" x2="685" y2="658.4" stroke="#3f4fa9" stroke-width="1.0" stroke-dasharray="1.1 5.9 1.3 6.5 1.8 1.7 0.6 8.6 1.1 3.2 2.5 5.3 2.2 5.3 1.8 2.4 1.8 8.8 1.6 7.7 1.9 1.7 2.0 6.4 1.2 1.4 2.2 5.3 2.0 8.9 2.0 9.3 1.4 8.2 1.4 9.4 2.3 2.0 0.9 3.0 2.4 5.0 1.8 3.8 1.6 4.5 1.3 6.3 1.7 9.1 1.9 9.4 2.2 9.9 1.9 2.6 2.2 9.7 2.3 6.2 2.0 3.0 2.2 6.2 1.1 1.7 2.2 9.9 0.8 8.2 1.4 2.5 1.2 7.9 2.3 1.5 1.8 1.5 2.0 4.1 2.3 9.8 1.6 10.0" opacity="0.75"/>
<line x1="369" y1="670.1" x2="685" y2="670.1" stroke="#c3c7e5" stroke-width="1.0" opacity="1.0"/>
<line x1="369" y1="670.1" x2="685" y2="670.1" stroke="#3f4fa9" stroke-width="1.0" stroke-dasharray="1.2 1.8 1.7 1.4 1.0 4.7 1.8 2.5 0.7 8.8 1.2 9.6 2.3 4.5 1.5 5.7 1.8 6.4 1.7 6.6 2.4 5.6 1.4 7.5 1.1 3.8 2.5 5.7 1.6 1.2 1.4 6.3 0.6 6.6 1.8 1.6 1.8 5.3 1.9 4.2 1.9 7.7 0.6 1.6 1.9 9.7 1.1 5.2 1.7 4.0 1.3 3.9 1.3 6.4 1.2 4.5 2.1 1.4 1.7 7.6 1.2 3.1 2.1 3.2 1.0 5.0 1.9 2.0 1.2 4.1 2.2 5.0 2.2 2.6 1.2 6.9 2.3 5.1 1.0 2.2 1.6 2.8 2.1 8.6 0.9 3.6 2.1 6.8 2.1 4.2 0.8 3.7 2.1 3.5 1.3 4.8 1.4 4.8 2.3 2.5 0.6 9.5" opacity="0.75"/>
<line x1="369" y1="681.4" x2="685" y2="681.4" stroke="#c3c7e5" stroke-width="1.0" opacity="1.0"/>
<line x1="369" y1="681.4" x2="685" y2="681.4" stroke="#3f4fa9" stroke-width="1.0" stroke-dasharray="2.3 9.9 1.4 9.6 2.4 3.1 2.0 8.5 1.9 5.7 1.1 4.1 1.0 1.7 1.7 3.7 2.1 1.5 2.3 7.3 2.4 9.1 2.3 6.2 0.6 7.7 0.9 3.8 1.9 5.8 1.4 9.5 1.8 4.1 1.1 8.8 1.5 8.1 1.3 2.9 1.6 8.4 0.9 8.1 2.4 8.3 2.2 1.2 1.8 8.8 0.7 3.5 1.1 5.8 1.4 5.3 2.1 1.1 0.7 2.2 0.8 1.7 2.5 8.7 0.8 5.6 1.2 3.9 1.3 6.9 1.7 4.3 1.0 4.0 0.8 6.0 2.0 4.5 0.8 2.7 1.3 6.5 2.1 4.5 2.1 6.6 1.4 4.4 1.5 7.4" opacity="0.75"/>
<line x1="369" y1="692.6" x2="685" y2="692.6" stroke="#c3c7e5" stroke-width="1.0" opacity="1.0"/>
<line x1="369" y1="692.6" x2="685" y2="692.6" stroke="#3f4fa9" stroke-width="1.0" stroke-dasharray="1.4 7.3 1.5 3.3 1.6 7.3 0.7 4.9 1.4 8.9 2.4 4.4 2.3 8.1 1.1 5.2 0.8 8.3 1.9 9.0 2.1 7.0 2.0 6.1 0.8 6.3 0.6 2.4 2.1 1.5 0.8 2.0 2.3 2.7 0.6 8.6 0.8 8.6 1.9 8.5 2.4 6.3 2.1 1.4 2.1 5.7 2.0 2.1 2.0 9.4 0.7 4.0 1.7 8.5 1.1 2.7 1.1 6.6 2.0 4.6 1.3 4.6 1.3 4.8 0.8 5.6 2.4 4.8 2.0 2.5 1.9 7.8 1.9 5.7 1.5 6.8 2.3 2.4 0.8 7.8 2.3 5.7 1.4 7.5 1.0 3.5 1.0 6.3 1.2 3.2" opacity="0.75"/>
<line x1="369" y1="704.4" x2="685" y2="704.4" stroke="#eaa2a4" stroke-width="1.0" opacity="1.0"/>
<line x1="369" y1="704.4" x2="685" y2="704.4" stroke="#de4450" stroke-width="1.0" stroke-dasharray="1.9 9.6 1.2 7.4 1.4 8.7 1.7 3.5 1.0 1.3 1.5 4.5 0.9 4.3 1.2 8.0 0.9 9.9 1.5 6.4 1.5 8.5 2.2 6.1 1.5 7.5 2.2 4.7 2.0 9.6 1.5 3.2 1.0 7.5 1.9 9.6 2.2 3.3 1.0 3.4 1.0 7.4 2.2 9.1 1.1 8.8 1.2 4.9 2.0 1.9 0.8 8.5 1.2 4.3 1.7 7.1 0.6 4.1 1.4 5.4 1.0 6.3 2.4 4.6 1.6 2.2 1.1 7.0 0.8 9.0 2.3 2.0 2.4 4.4 2.1 7.8 1.2 7.1 1.8 8.3 1.1 7.8" opacity="0.75"/>
<path d="M413.00 658.80 L413.00 658.77 L413.35 658.68 L413.70 658.43 L414.05 657.94 L414.40 657.34 L414.75 657.01 L415.10 657.20 L415.45 657.76 L415.80 658.31 L416.15 658.63 L416.50 658.76 L416.60 658.80 Z" fill="#2e3f9c"/>
<path d="M413.00 670.50 L413.00 670.47 L413.35 670.38 L413.70 670.13 L414.05 669.64 L414.40 669.04 L414.75 668.71 L415.10 668.90 L415.45 669.46 L415.80 670.01 L416.15 670.33 L416.50 670.46 L416.60 670.50 Z" fill="#2e3f9c"/>
<path d="M413.00 681.80 L413.00 681.77 L413.35 681.68 L413.70 681.43 L414.05 680.94 L414.40 680.34 L414.75 680.01 L415.10 680.20 L415.45 680.76 L415.80 681.31 L416.15 681.63 L416.50 681.76 L416.60 681.80 Z" fill="#2e3f9c"/>
<path d="M413.00 693.00 L413.00 692.97 L413.35 692.86 L413.70 692.55 L414.05 691.96 L414.40 691.25 L414.75 690.85 L415.10 691.08 L415.45 691.76 L415.80 692.41 L416.15 692.80 L416.50 692.95 L416.60 693.00 Z" fill="#2e3f9c"/>
<path d="M413.00 704.80 L413.00 704.69 L413.35 704.32 L413.70 703.25 L414.05 701.20 L414.40 698.71 L414.75 697.32 L415.10 698.13 L415.45 700.48 L415.80 702.77 L416.15 704.10 L416.50 704.63 L416.60 704.80 Z" fill="#d8143a"/>
<path d="M421.20 658.80 L421.20 658.79 L421.55 658.74 L421.90 658.59 L422.25 658.32 L422.60 657.99 L422.95 657.80 L423.30 657.91 L423.65 658.22 L424.00 658.53 L424.35 658.71 L424.70 658.78 L424.80 658.80 Z" fill="#2e3f9c"/>
<path d="M421.20 670.50 L421.20 670.49 L421.55 670.44 L421.90 670.29 L422.25 670.02 L422.60 669.69 L422.95 669.50 L423.30 669.61 L423.65 669.92 L424.00 670.23 L424.35 670.41 L424.70 670.48 L424.80 670.50 Z" fill="#2e3f9c"/>
<path d="M421.20 681.80 L421.20 681.79 L421.55 681.74 L421.90 681.59 L422.25 681.32 L422.60 680.99 L422.95 680.80 L423.30 680.91 L423.65 681.22 L424.00 681.53 L424.35 681.71 L424.70 681.78 L424.80 681.80 Z" fill="#2e3f9c"/>
<path d="M421.20 693.00 L421.20 692.98 L421.55 692.92 L421.90 692.75 L422.25 692.42 L422.60 692.03 L422.95 691.80 L423.30 691.93 L423.65 692.31 L424.00 692.67 L424.35 692.89 L424.70 692.97 L424.80 693.00 Z" fill="#2e3f9c"/>
<path d="M421.10 704.80 L421.10 704.77 L421.45 704.69 L421.80 704.48 L422.15 704.09 L422.50 703.59 L422.85 703.24 L423.20 703.27 L423.55 703.66 L423.90 704.16 L424.25 704.52 L424.60 704.71 L424.90 704.80 Z" fill="#d8143a"/>
<path d="M430.90 658.80 L430.90 658.79 L431.25 658.74 L431.60 658.61 L431.95 658.37 L432.30 658.07 L432.65 657.90 L433.00 658.00 L433.35 658.28 L433.70 658.56 L434.05 658.72 L434.40 658.78 L434.50 658.80 Z" fill="#2e3f9c"/>
<path d="M430.90 670.50 L430.90 670.49 L431.25 670.44 L431.60 670.31 L431.95 670.07 L432.30 669.77 L432.65 669.60 L433.00 669.70 L433.35 669.98 L433.70 670.26 L434.05 670.42 L434.40 670.48 L434.50 670.50 Z" fill="#2e3f9c"/>
<path d="M430.90 681.80 L430.90 681.79 L431.25 681.74 L431.60 681.61 L431.95 681.37 L432.30 681.07 L432.65 680.90 L433.00 681.00 L433.35 681.28 L433.70 681.56 L434.05 681.72 L434.40 681.78 L434.50 681.80 Z" fill="#2e3f9c"/>
<path d="M430.90 693.00 L430.90 692.98 L431.25 692.93 L431.60 692.78 L431.95 692.48 L432.30 692.12 L432.65 691.92 L433.00 692.04 L433.35 692.38 L433.70 692.71 L434.05 692.90 L434.40 692.98 L434.50 693.00 Z" fill="#2e3f9c"/>
<path d="M430.80 704.80 L430.80 704.78 L431.15 704.72 L431.50 704.56 L431.85 704.27 L432.20 703.89 L432.55 703.63 L432.90 703.65 L433.25 703.95 L433.60 704.32 L433.95 704.59 L434.30 704.73 L434.60 704.80 Z" fill="#d8143a"/>
<path d="M439.20 658.80 L439.20 658.79 L439.55 658.76 L439.90 658.68 L440.25 658.51 L440.60 658.31 L440.95 658.20 L441.30 658.27 L441.65 658.45 L442.00 658.64 L442.35 658.74 L442.70 658.79 L442.80 658.80 Z" fill="#2e3f9c"/>
<path d="M439.20 670.50 L439.20 670.49 L439.55 670.46 L439.90 670.38 L440.25 670.21 L440.60 670.01 L440.95 669.90 L441.30 669.97 L441.65 670.15 L442.00 670.34 L442.35 670.44 L442.70 670.49 L442.80 670.50 Z" fill="#2e3f9c"/>
<path d="M439.20 681.80 L439.20 681.79 L439.55 681.76 L439.90 681.68 L440.25 681.51 L440.60 681.31 L440.95 681.20 L441.30 681.27 L441.65 681.45 L442.00 681.64 L442.35 681.74 L442.70 681.79 L442.80 681.80 Z" fill="#2e3f9c"/>
<path d="M439.20 693.00 L439.20 692.99 L439.55 692.95 L439.90 692.85 L440.25 692.65 L440.60 692.42 L440.95 692.28 L441.30 692.36 L441.65 692.59 L442.00 692.80 L442.35 692.93 L442.70 692.98 L442.80 693.00 Z" fill="#2e3f9c"/>
<path d="M439.10 704.80 L439.10 704.79 L439.45 704.75 L439.80 704.64 L440.15 704.45 L440.50 704.20 L440.85 704.02 L441.20 704.04 L441.55 704.23 L441.90 704.48 L442.25 704.66 L442.60 704.76 L442.90 704.80 Z" fill="#d8143a"/>
<path d="M470.70 658.80 L470.70 658.79 L471.05 658.74 L471.40 658.61 L471.75 658.37 L472.10 658.07 L472.45 657.90 L472.80 658.00 L473.15 658.28 L473.50 658.56 L473.85 658.72 L474.20 658.78 L474.30 658.80 Z" fill="#2e3f9c"/>
<path d="M470.70 670.50 L470.70 670.49 L471.05 670.44 L471.40 670.31 L471.75 670.07 L472.10 669.77 L472.45 669.60 L472.80 669.70 L473.15 669.98 L473.50 670.26 L473.85 670.42 L474.20 670.48 L474.30 670.50 Z" fill="#2e3f9c"/>
<path d="M470.70 681.80 L470.70 681.79 L471.05 681.74 L471.40 681.61 L471.75 681.37 L472.10 681.07 L472.45 680.90 L472.80 681.00 L473.15 681.28 L473.50 681.56 L473.85 681.72 L474.20 681.78 L474.30 681.80 Z" fill="#2e3f9c"/>
<path d="M470.70 693.00 L470.70 692.98 L471.05 692.93 L471.40 692.78 L471.75 692.48 L472.10 692.12 L472.45 691.92 L472.80 692.04 L473.15 692.38 L473.50 692.71 L473.85 692.90 L474.20 692.98 L474.30 693.00 Z" fill="#2e3f9c"/>
<path d="M470.60 704.80 L470.60 704.78 L470.95 704.72 L471.30 704.56 L471.65 704.27 L472.00 703.89 L472.35 703.63 L472.70 703.65 L473.05 703.95 L473.40 704.32 L473.75 704.59 L474.10 704.73 L474.40 704.80 Z" fill="#d8143a"/>
<path d="M482.20 658.80 L482.20 658.79 L482.55 658.74 L482.90 658.59 L483.25 658.32 L483.60 657.99 L483.95 657.80 L484.30 657.91 L484.65 658.22 L485.00 658.53 L485.35 658.71 L485.70 658.78 L485.80 658.80 Z" fill="#2e3f9c"/>
<path d="M482.20 670.50 L482.20 670.49 L482.55 670.44 L482.90 670.29 L483.25 670.02 L483.60 669.69 L483.95 669.50 L484.30 669.61 L484.65 669.92 L485.00 670.23 L485.35 670.41 L485.70 670.48 L485.80 670.50 Z" fill="#2e3f9c"/>
<path d="M482.20 681.80 L482.20 681.79 L482.55 681.74 L482.90 681.59 L483.25 681.32 L483.60 680.99 L483.95 680.80 L484.30 680.91 L484.65 681.22 L485.00 681.53 L485.35 681.71 L485.70 681.78 L485.80 681.80 Z" fill="#2e3f9c"/>
<path d="M482.20 693.00 L482.20 692.98 L482.55 692.92 L482.90 692.75 L483.25 692.42 L483.60 692.03 L483.95 691.80 L484.30 691.93 L484.65 692.31 L485.00 692.67 L485.35 692.89 L485.70 692.97 L485.80 693.00 Z" fill="#2e3f9c"/>
<path d="M482.10 704.80 L482.10 704.78 L482.45 704.72 L482.80 704.56 L483.15 704.27 L483.50 703.89 L483.85 703.63 L484.20 703.65 L484.55 703.95 L484.90 704.32 L485.25 704.59 L485.60 704.73 L485.90 704.80 Z" fill="#d8143a"/>
<path d="M484.70 658.80 L484.70 658.79 L485.05 658.74 L485.40 658.61 L485.75 658.37 L486.10 658.07 L486.45 657.90 L486.80 658.00 L487.15 658.28 L487.50 658.56 L487.85 658.72 L488.20 658.78 L488.30 658.80 Z" fill="#2e3f9c"/>
<path d="M484.70 670.50 L484.70 670.49 L485.05 670.44 L485.40 670.31 L485.75 670.07 L486.10 669.77 L486.45 669.60 L486.80 669.70 L487.15 669.98 L487.50 670.26 L487.85 670.42 L488.20 670.48 L488.30 670.50 Z" fill="#2e3f9c"/>
<path d="M484.70 681.80 L484.70 681.79 L485.05 681.74 L485.40 681.61 L485.75 681.37 L486.10 681.07 L486.45 680.90 L486.80 681.00 L487.15 681.28 L487.50 681.56 L487.85 681.72 L488.20 681.78 L488.30 681.80 Z" fill="#2e3f9c"/>
<path d="M484.70 693.00 L484.70 692.98 L485.05 692.93 L485.40 692.78 L485.75 692.48 L486.10 692.12 L486.45 691.92 L486.80 692.04 L487.15 692.38 L487.50 692.71 L487.85 692.90 L488.20 692.98 L488.30 693.00 Z" fill="#2e3f9c"/>
<path d="M484.60 704.80 L484.60 704.78 L484.95 704.73 L485.30 704.60 L485.65 704.36 L486.00 704.05 L486.35 703.82 L486.70 703.84 L487.05 704.09 L487.40 704.40 L487.75 704.63 L488.10 704.74 L488.40 704.80 Z" fill="#d8143a"/>
<path d="M494.00 658.80 L494.00 658.79 L494.35 658.77 L494.70 658.72 L495.05 658.61 L495.40 658.48 L495.75 658.40 L496.10 658.44 L496.45 658.57 L496.80 658.69 L497.15 658.76 L497.50 658.79 L497.60 658.80 Z" fill="#2e3f9c"/>
<path d="M494.00 670.50 L494.00 670.49 L494.35 670.47 L494.70 670.42 L495.05 670.31 L495.40 670.18 L495.75 670.10 L496.10 670.14 L496.45 670.27 L496.80 670.39 L497.15 670.46 L497.50 670.49 L497.60 670.50 Z" fill="#2e3f9c"/>
<path d="M494.00 681.80 L494.00 681.79 L494.35 681.77 L494.70 681.72 L495.05 681.61 L495.40 681.48 L495.75 681.40 L496.10 681.44 L496.45 681.57 L496.80 681.69 L497.15 681.76 L497.50 681.79 L497.60 681.80 Z" fill="#2e3f9c"/>
<path d="M494.00 693.00 L494.00 692.99 L494.35 692.97 L494.70 692.90 L495.05 692.77 L495.40 692.61 L495.75 692.52 L496.10 692.57 L496.45 692.72 L496.80 692.87 L497.15 692.96 L497.50 692.99 L497.60 693.00 Z" fill="#2e3f9c"/>
<path d="M493.90 704.80 L493.90 704.77 L494.25 704.69 L494.60 704.48 L494.95 704.09 L495.30 703.59 L495.65 703.24 L496.00 703.27 L496.35 703.66 L496.70 704.16 L497.05 704.52 L497.40 704.71 L497.70 704.80 Z" fill="#d8143a"/>
<path d="M504.50 658.80 L504.50 658.79 L504.85 658.74 L505.20 658.61 L505.55 658.37 L505.90 658.07 L506.25 657.90 L506.60 658.00 L506.95 658.28 L507.30 658.56 L507.65 658.72 L508.00 658.78 L508.10 658.80 Z" fill="#2e3f9c"/>
<path d="M504.50 670.50 L504.50 670.49 L504.85 670.44 L505.20 670.31 L505.55 670.07 L505.90 669.77 L506.25 669.60 L506.60 669.70 L506.95 669.98 L507.30 670.26 L507.65 670.42 L508.00 670.48 L508.10 670.50 Z" fill="#2e3f9c"/>
<path d="M504.50 681.80 L504.50 681.79 L504.85 681.74 L505.20 681.61 L505.55 681.37 L505.90 681.07 L506.25 680.90 L506.60 681.00 L506.95 681.28 L507.30 681.56 L507.65 681.72 L508.00 681.78 L508.10 681.80 Z" fill="#2e3f9c"/>
<path d="M504.50 693.00 L504.50 692.98 L504.85 692.93 L505.20 692.78 L505.55 692.48 L505.90 692.12 L506.25 691.92 L506.60 692.04 L506.95 692.38 L507.30 692.71 L507.65 692.90 L508.00 692.98 L508.10 693.00 Z" fill="#2e3f9c"/>
<path d="M504.40 704.80 L504.40 704.77 L504.75 704.70 L505.10 704.50 L505.45 704.13 L505.80 703.67 L506.15 703.34 L506.50 703.37 L506.85 703.73 L507.20 704.20 L507.55 704.54 L507.90 704.72 L508.20 704.80 Z" fill="#d8143a"/>
<path d="M550.70 658.80 L550.70 658.78 L551.05 658.72 L551.40 658.55 L551.75 658.22 L552.10 657.83 L552.45 657.60 L552.80 657.73 L553.15 658.11 L553.50 658.47 L553.85 658.69 L554.20 658.77 L554.30 658.80 Z" fill="#2e3f9c"/>
<path d="M550.70 670.50 L550.70 670.48 L551.05 670.42 L551.40 670.25 L551.75 669.92 L552.10 669.53 L552.45 669.30 L552.80 669.43 L553.15 669.81 L553.50 670.17 L553.85 670.39 L554.20 670.47 L554.30 670.50 Z" fill="#2e3f9c"/>
<path d="M550.70 681.80 L550.70 681.78 L551.05 681.72 L551.40 681.55 L551.75 681.22 L552.10 680.83 L552.45 680.60 L552.80 680.73 L553.15 681.11 L553.50 681.47 L553.85 681.69 L554.20 681.77 L554.30 681.80 Z" fill="#2e3f9c"/>
<path d="M550.70 693.00 L550.70 692.98 L551.05 692.91 L551.40 692.70 L551.75 692.31 L552.10 691.83 L552.45 691.56 L552.80 691.72 L553.15 692.17 L553.50 692.61 L553.85 692.87 L554.20 692.97 L554.30 693.00 Z" fill="#2e3f9c"/>
<path d="M550.60 704.80 L550.60 704.79 L550.95 704.75 L551.30 704.64 L551.65 704.45 L552.00 704.20 L552.35 704.02 L552.70 704.04 L553.05 704.23 L553.40 704.48 L553.75 704.66 L554.10 704.76 L554.40 704.80 Z" fill="#d8143a"/>
<path d="M542.20 658.80 L542.20 658.80 L542.55 658.78 L542.90 658.74 L543.25 658.66 L543.60 658.56 L543.95 658.50 L544.30 658.53 L544.65 658.63 L545.00 658.72 L545.35 658.77 L545.70 658.79 L545.80 658.80 Z" fill="#2e3f9c"/>
<path d="M542.20 670.50 L542.20 670.50 L542.55 670.48 L542.90 670.44 L543.25 670.36 L543.60 670.26 L543.95 670.20 L544.30 670.23 L544.65 670.33 L545.00 670.42 L545.35 670.47 L545.70 670.49 L545.80 670.50 Z" fill="#2e3f9c"/>
<path d="M542.20 681.80 L542.20 681.80 L542.55 681.78 L542.90 681.74 L543.25 681.66 L543.60 681.56 L543.95 681.50 L544.30 681.53 L544.65 681.63 L545.00 681.72 L545.35 681.77 L545.70 681.79 L545.80 681.80 Z" fill="#2e3f9c"/>
<path d="M542.20 693.00 L542.20 692.99 L542.55 692.98 L542.90 692.93 L543.25 692.83 L543.60 692.71 L543.95 692.64 L544.30 692.68 L544.65 692.79 L545.00 692.90 L545.35 692.97 L545.70 692.99 L545.80 693.00 Z" fill="#2e3f9c"/>
<path d="M542.10 704.80 L542.10 704.78 L542.45 704.73 L542.80 704.60 L543.15 704.36 L543.50 704.05 L543.85 703.82 L544.20 703.84 L544.55 704.09 L544.90 704.40 L545.25 704.63 L545.60 704.74 L545.90 704.80 Z" fill="#d8143a"/>
<path d="M648.20 658.80 L648.20 658.78 L648.55 658.72 L648.90 658.55 L649.25 658.22 L649.60 657.83 L649.95 657.60 L650.30 657.73 L650.65 658.11 L651.00 658.47 L651.35 658.69 L651.70 658.77 L651.80 658.80 Z" fill="#2e3f9c"/>
<path d="M648.20 670.50 L648.20 670.48 L648.55 670.42 L648.90 670.25 L649.25 669.92 L649.60 669.53 L649.95 669.30 L650.30 669.43 L650.65 669.81 L651.00 670.17 L651.35 670.39 L651.70 670.47 L651.80 670.50 Z" fill="#2e3f9c"/>
<path d="M648.20 681.80 L648.20 681.78 L648.55 681.72 L648.90 681.55 L649.25 681.22 L649.60 680.83 L649.95 680.60 L650.30 680.73 L650.65 681.11 L651.00 681.47 L651.35 681.69 L651.70 681.77 L651.80 681.80 Z" fill="#2e3f9c"/>
<path d="M648.20 693.00 L648.20 692.98 L648.55 692.91 L648.90 692.70 L649.25 692.31 L649.60 691.83 L649.95 691.56 L650.30 691.72 L650.65 692.17 L651.00 692.61 L651.35 692.87 L651.70 692.97 L651.80 693.00 Z" fill="#2e3f9c"/>
<path d="M648.10 704.80 L648.10 704.79 L648.45 704.75 L648.80 704.64 L649.15 704.45 L649.50 704.20 L649.85 704.02 L650.20 704.04 L650.55 704.23 L650.90 704.48 L651.25 704.66 L651.60 704.76 L651.90 704.80 Z" fill="#d8143a"/>
<path d="M378.20 658.80 L378.20 658.80 L378.55 658.78 L378.90 658.74 L379.25 658.66 L379.60 658.56 L379.95 658.50 L380.30 658.53 L380.65 658.63 L381.00 658.72 L381.35 658.77 L381.70 658.79 L381.80 658.80 Z" fill="#2e3f9c"/>
<path d="M378.20 670.50 L378.20 670.50 L378.55 670.48 L378.90 670.44 L379.25 670.36 L379.60 670.26 L379.95 670.20 L380.30 670.23 L380.65 670.33 L381.00 670.42 L381.35 670.47 L381.70 670.49 L381.80 670.50 Z" fill="#2e3f9c"/>
<path d="M378.20 681.80 L378.20 681.80 L378.55 681.78 L378.90 681.74 L379.25 681.66 L379.60 681.56 L379.95 681.50 L380.30 681.53 L380.65 681.63 L381.00 681.72 L381.35 681.77 L381.70 681.79 L381.80 681.80 Z" fill="#2e3f9c"/>
<path d="M378.20 693.00 L378.20 692.99 L378.55 692.98 L378.90 692.93 L379.25 692.83 L379.60 692.71 L379.95 692.64 L380.30 692.68 L380.65 692.79 L381.00 692.90 L381.35 692.97 L381.70 692.99 L381.80 693.00 Z" fill="#2e3f9c"/>
<path d="M378.10 704.80 L378.10 704.79 L378.45 704.76 L378.80 704.68 L379.15 704.53 L379.50 704.35 L379.85 704.21 L380.20 704.23 L380.55 704.37 L380.90 704.56 L381.25 704.70 L381.60 704.77 L381.90 704.80 Z" fill="#d8143a"/>
<path d="M393.20 658.80 L393.20 658.79 L393.55 658.77 L393.90 658.72 L394.25 658.61 L394.60 658.48 L394.95 658.40 L395.30 658.44 L395.65 658.57 L396.00 658.69 L396.35 658.76 L396.70 658.79 L396.80 658.80 Z" fill="#2e3f9c"/>
<path d="M393.20 670.50 L393.20 670.49 L393.55 670.47 L393.90 670.42 L394.25 670.31 L394.60 670.18 L394.95 670.10 L395.30 670.14 L395.65 670.27 L396.00 670.39 L396.35 670.46 L396.70 670.49 L396.80 670.50 Z" fill="#2e3f9c"/>
<path d="M393.20 681.80 L393.20 681.79 L393.55 681.77 L393.90 681.72 L394.25 681.61 L394.60 681.48 L394.95 681.40 L395.30 681.44 L395.65 681.57 L396.00 681.69 L396.35 681.76 L396.70 681.79 L396.80 681.80 Z" fill="#2e3f9c"/>
<path d="M393.20 693.00 L393.20 692.99 L393.55 692.97 L393.90 692.90 L394.25 692.77 L394.60 692.61 L394.95 692.52 L395.30 692.57 L395.65 692.72 L396.00 692.87 L396.35 692.96 L396.70 692.99 L396.80 693.00 Z" fill="#2e3f9c"/>
<path d="M393.10 704.80 L393.10 704.79 L393.45 704.76 L393.80 704.68 L394.15 704.53 L394.50 704.35 L394.85 704.21 L395.20 704.23 L395.55 704.37 L395.90 704.56 L396.25 704.70 L396.60 704.77 L396.90 704.80 Z" fill="#d8143a"/>
<path d="M453.20 658.80 L453.20 658.80 L453.55 658.78 L453.90 658.74 L454.25 658.66 L454.60 658.56 L454.95 658.50 L455.30 658.53 L455.65 658.63 L456.00 658.72 L456.35 658.77 L456.70 658.79 L456.80 658.80 Z" fill="#2e3f9c"/>
<path d="M453.20 670.50 L453.20 670.50 L453.55 670.48 L453.90 670.44 L454.25 670.36 L454.60 670.26 L454.95 670.20 L455.30 670.23 L455.65 670.33 L456.00 670.42 L456.35 670.47 L456.70 670.49 L456.80 670.50 Z" fill="#2e3f9c"/>
<path d="M453.20 681.80 L453.20 681.80 L453.55 681.78 L453.90 681.74 L454.25 681.66 L454.60 681.56 L454.95 681.50 L455.30 681.53 L455.65 681.63 L456.00 681.72 L456.35 681.77 L456.70 681.79 L456.80 681.80 Z" fill="#2e3f9c"/>
<path d="M453.20 693.00 L453.20 692.99 L453.55 692.98 L453.90 692.93 L454.25 692.83 L454.60 692.71 L454.95 692.64 L455.30 692.68 L455.65 692.79 L456.00 692.90 L456.35 692.97 L456.70 692.99 L456.80 693.00 Z" fill="#2e3f9c"/>
<path d="M453.10 704.80 L453.10 704.79 L453.45 704.77 L453.80 704.70 L454.15 704.58 L454.50 704.42 L454.85 704.31 L455.20 704.32 L455.55 704.44 L455.90 704.60 L456.25 704.71 L456.60 704.77 L456.90 704.80 Z" fill="#d8143a"/>
<path d="M518.20 658.80 L518.20 658.79 L518.55 658.77 L518.90 658.70 L519.25 658.56 L519.60 658.39 L519.95 658.30 L520.30 658.36 L520.65 658.51 L521.00 658.66 L521.35 658.75 L521.70 658.79 L521.80 658.80 Z" fill="#2e3f9c"/>
<path d="M518.20 670.50 L518.20 670.49 L518.55 670.47 L518.90 670.40 L519.25 670.26 L519.60 670.09 L519.95 670.00 L520.30 670.06 L520.65 670.21 L521.00 670.36 L521.35 670.45 L521.70 670.49 L521.80 670.50 Z" fill="#2e3f9c"/>
<path d="M518.20 681.80 L518.20 681.79 L518.55 681.77 L518.90 681.70 L519.25 681.56 L519.60 681.39 L519.95 681.30 L520.30 681.36 L520.65 681.51 L521.00 681.66 L521.35 681.75 L521.70 681.79 L521.80 681.80 Z" fill="#2e3f9c"/>
<path d="M518.20 693.00 L518.20 692.99 L518.55 692.96 L518.90 692.88 L519.25 692.71 L519.60 692.51 L519.95 692.40 L520.30 692.47 L520.65 692.65 L521.00 692.84 L521.35 692.94 L521.70 692.99 L521.80 693.00 Z" fill="#2e3f9c"/>
<path d="M518.10 704.80 L518.10 704.79 L518.45 704.76 L518.80 704.68 L519.15 704.53 L519.50 704.35 L519.85 704.21 L520.20 704.23 L520.55 704.37 L520.90 704.56 L521.25 704.70 L521.60 704.77 L521.90 704.80 Z" fill="#d8143a"/>
<path d="M598.20 658.80 L598.20 658.80 L598.55 658.78 L598.90 658.74 L599.25 658.66 L599.60 658.56 L599.95 658.50 L600.30 658.53 L600.65 658.63 L601.00 658.72 L601.35 658.77 L601.70 658.79 L601.80 658.80 Z" fill="#2e3f9c"/>
<path d="M598.20 670.50 L598.20 670.50 L598.55 670.48 L598.90 670.44 L599.25 670.36 L599.60 670.26 L599.95 670.20 L600.30 670.23 L600.65 670.33 L601.00 670.42 L601.35 670.47 L601.70 670.49 L601.80 670.50 Z" fill="#2e3f9c"/>
<path d="M598.20 681.80 L598.20 681.80 L598.55 681.78 L598.90 681.74 L599.25 681.66 L599.60 681.56 L599.95 681.50 L600.30 681.53 L600.65 681.63 L601.00 681.72 L601.35 681.77 L601.70 681.79 L601.80 681.80 Z" fill="#2e3f9c"/>
<path d="M598.20 693.00 L598.20 692.99 L598.55 692.98 L598.90 692.93 L599.25 692.83 L599.60 692.71 L599.95 692.64 L600.30 692.68 L600.65 692.79 L601.00 692.90 L601.35 692.97 L601.70 692.99 L601.80 693.00 Z" fill="#2e3f9c"/>
<path d="M598.10 704.80 L598.10 704.79 L598.45 704.77 L598.80 704.70 L599.15 704.58 L599.50 704.42 L599.85 704.31 L600.20 704.32 L600.55 704.44 L600.90 704.60 L601.25 704.71 L601.60 704.77 L601.90 704.80 Z" fill="#d8143a"/>
<path d="M668.20 658.80 L668.20 658.79 L668.55 658.77 L668.90 658.72 L669.25 658.61 L669.60 658.48 L669.95 658.40 L670.30 658.44 L670.65 658.57 L671.00 658.69 L671.35 658.76 L671.70 658.79 L671.80 658.80 Z" fill="#2e3f9c"/>
<path d="M668.20 670.50 L668.20 670.49 L668.55 670.47 L668.90 670.42 L669.25 670.31 L669.60 670.18 L669.95 670.10 L670.30 670.14 L670.65 670.27 L671.00 670.39 L671.35 670.46 L671.70 670.49 L671.80 670.50 Z" fill="#2e3f9c"/>
<path d="M668.20 681.80 L668.20 681.79 L668.55 681.77 L668.90 681.72 L669.25 681.61 L669.60 681.48 L669.95 681.40 L670.30 681.44 L670.65 681.57 L671.00 681.69 L671.35 681.76 L671.70 681.79 L671.80 681.80 Z" fill="#2e3f9c"/>
<path d="M668.20 693.00 L668.20 692.99 L668.55 692.97 L668.90 692.90 L669.25 692.77 L669.60 692.61 L669.95 692.52 L670.30 692.57 L670.65 692.72 L671.00 692.87 L671.35 692.96 L671.70 692.99 L671.80 693.00 Z" fill="#2e3f9c"/>
<path d="M668.10 704.80 L668.10 704.79 L668.45 704.77 L668.80 704.70 L669.15 704.58 L669.50 704.42 L669.85 704.31 L670.20 704.32 L670.55 704.44 L670.90 704.60 L671.25 704.71 L671.60 704.77 L671.90 704.80 Z" fill="#d8143a"/>
<path d="M678.48 658.80 L678.93 658.34 L679.38 658.80 Z" fill="#2e3f9c"/>
<path d="M500.75 658.80 L501.20 658.43 L501.65 658.80 Z" fill="#2e3f9c"/>
<path d="M558.30 658.80 L558.75 658.25 L559.20 658.80 Z" fill="#2e3f9c"/>
<path d="M515.98 658.80 L516.43 658.37 L516.88 658.80 Z" fill="#2e3f9c"/>
<path d="M393.60 658.80 L394.05 658.23 L394.50 658.80 Z" fill="#2e3f9c"/>
<path d="M386.56 658.80 L387.01 658.35 L387.46 658.80 Z" fill="#2e3f9c"/>
<path d="M633.11 658.80 L633.56 658.46 L634.01 658.80 Z" fill="#2e3f9c"/>
<path d="M600.44 658.80 L600.89 658.22 L601.34 658.80 Z" fill="#2e3f9c"/>
<path d="M569.45 658.80 L569.90 658.26 L570.35 658.80 Z" fill="#2e3f9c"/>
<path d="M409.18 658.80 L409.63 658.37 L410.08 658.80 Z" fill="#2e3f9c"/>
<path d="M422.22 670.50 L422.67 669.95 L423.12 670.50 Z" fill="#2e3f9c"/>
<path d="M466.76 670.50 L467.21 670.06 L467.66 670.50 Z" fill="#2e3f9c"/>
<path d="M682.34 670.50 L682.79 669.94 L683.24 670.50 Z" fill="#2e3f9c"/>
<path d="M675.21 670.50 L675.66 670.06 L676.11 670.50 Z" fill="#2e3f9c"/>
<path d="M525.93 670.50 L526.38 669.98 L526.83 670.50 Z" fill="#2e3f9c"/>
<path d="M523.14 670.50 L523.59 670.11 L524.04 670.50 Z" fill="#2e3f9c"/>
<path d="M500.11 670.50 L500.56 670.16 L501.01 670.50 Z" fill="#2e3f9c"/>
<path d="M491.91 670.50 L492.36 669.90 L492.81 670.50 Z" fill="#2e3f9c"/>
<path d="M670.25 670.50 L670.70 670.01 L671.15 670.50 Z" fill="#2e3f9c"/>
<path d="M529.34 670.50 L529.79 670.10 L530.24 670.50 Z" fill="#2e3f9c"/>
<path d="M403.83 681.80 L404.28 681.42 L404.73 681.80 Z" fill="#2e3f9c"/>
<path d="M615.85 681.80 L616.30 681.24 L616.75 681.80 Z" fill="#2e3f9c"/>
<path d="M487.12 681.80 L487.57 681.26 L488.02 681.80 Z" fill="#2e3f9c"/>
<path d="M613.67 681.80 L614.12 681.29 L614.57 681.80 Z" fill="#2e3f9c"/>
<path d="M579.74 681.80 L580.19 681.27 L580.64 681.80 Z" fill="#2e3f9c"/>
<path d="M487.76 681.80 L488.21 681.29 L488.66 681.80 Z" fill="#2e3f9c"/>
<path d="M462.49 681.80 L462.94 681.35 L463.39 681.80 Z" fill="#2e3f9c"/>
<path d="M612.09 681.80 L612.54 681.29 L612.99 681.80 Z" fill="#2e3f9c"/>
<path d="M466.47 681.80 L466.92 681.22 L467.37 681.80 Z" fill="#2e3f9c"/>
<path d="M575.36 681.80 L575.81 681.33 L576.26 681.80 Z" fill="#2e3f9c"/>
<path d="M380.09 693.00 L380.54 692.54 L380.99 693.00 Z" fill="#2e3f9c"/>
<path d="M453.26 693.00 L453.71 692.50 L454.16 693.00 Z" fill="#2e3f9c"/>
<path d="M518.21 693.00 L518.66 692.45 L519.11 693.00 Z" fill="#2e3f9c"/>
<path d="M574.67 693.00 L575.12 692.46 L575.57 693.00 Z" fill="#2e3f9c"/>
<path d="M483.00 693.00 L483.45 692.51 L483.90 693.00 Z" fill="#2e3f9c"/>
<path d="M602.33 693.00 L602.78 692.45 L603.23 693.00 Z" fill="#2e3f9c"/>
<path d="M483.66 693.00 L484.11 692.45 L484.56 693.00 Z" fill="#2e3f9c"/>
<path d="M642.74 693.00 L643.19 692.49 L643.64 693.00 Z" fill="#2e3f9c"/>
<path d="M675.24 693.00 L675.69 692.41 L676.14 693.00 Z" fill="#2e3f9c"/>
<path d="M535.10 693.00 L535.55 692.54 L536.00 693.00 Z" fill="#2e3f9c"/>
<path d="M427.40 704.80 L427.85 704.25 L428.30 704.80 Z" fill="#d8143a"/>
<path d="M663.39 704.80 L663.84 704.36 L664.29 704.80 Z" fill="#d8143a"/>
<path d="M588.13 704.80 L588.58 704.28 L589.03 704.80 Z" fill="#d8143a"/>
<path d="M600.04 704.80 L600.49 704.45 L600.94 704.80 Z" fill="#d8143a"/>
<path d="M615.34 704.80 L615.79 704.33 L616.24 704.80 Z" fill="#d8143a"/>
<path d="M580.21 704.80 L580.66 704.37 L581.11 704.80 Z" fill="#d8143a"/>
<path d="M567.41 704.80 L567.86 704.27 L568.31 704.80 Z" fill="#d8143a"/>
<path d="M571.43 704.80 L571.88 704.28 L572.33 704.80 Z" fill="#d8143a"/>
<path d="M385.00 704.80 L385.45 704.45 L385.90 704.80 Z" fill="#d8143a"/>
<path d="M511.52 704.80 L511.97 704.30 L512.42 704.80 Z" fill="#d8143a"/>
<line x1="369.5" y1="712.1" x2="650" y2="712.1" stroke="#2f44a4" stroke-width="0.55" opacity="0.75"/>
<path d="M372.5 711.2 L373.4 712.1 L372.5 713.0" fill="none" stroke="#2f44a4" stroke-width="0.45" opacity="0.7"/>
<path d="M383.3 711.2 L384.2 712.1 L383.3 713.0" fill="none" stroke="#2f44a4" stroke-width="0.45" opacity="0.7"/>
<path d="M392.3 711.2 L393.2 712.1 L392.3 713.0" fill="none" stroke="#2f44a4" stroke-width="0.45" opacity="0.7"/>
<path d="M400.5 711.2 L401.4 712.1 L400.5 713.0" fill="none" stroke="#2f44a4" stroke-width="0.45" opacity="0.7"/>
<path d="M406.2 711.2 L407.1 712.1 L406.2 713.0" fill="none" stroke="#2f44a4" stroke-width="0.45" opacity="0.7"/>
<path d="M414.2 711.2 L415.1 712.1 L414.2 713.0" fill="none" stroke="#2f44a4" stroke-width="0.45" opacity="0.7"/>
<path d="M421.3 711.2 L422.2 712.1 L421.3 713.0" fill="none" stroke="#2f44a4" stroke-width="0.45" opacity="0.7"/>
<path d="M430.6 711.2 L431.5 712.1 L430.6 713.0" fill="none" stroke="#2f44a4" stroke-width="0.45" opacity="0.7"/>
<path d="M439.7 711.2 L440.6 712.1 L439.7 713.0" fill="none" stroke="#2f44a4" stroke-width="0.45" opacity="0.7"/>
<path d="M448.1 711.2 L449.0 712.1 L448.1 713.0" fill="none" stroke="#2f44a4" stroke-width="0.45" opacity="0.7"/>
<path d="M454.1 711.2 L455.0 712.1 L454.1 713.0" fill="none" stroke="#2f44a4" stroke-width="0.45" opacity="0.7"/>
<path d="M463.0 711.2 L463.9 712.1 L463.0 713.0" fill="none" stroke="#2f44a4" stroke-width="0.45" opacity="0.7"/>
<path d="M471.8 711.2 L472.7 712.1 L471.8 713.0" fill="none" stroke="#2f44a4" stroke-width="0.45" opacity="0.7"/>
<path d="M477.9 711.2 L478.8 712.1 L477.9 713.0" fill="none" stroke="#2f44a4" stroke-width="0.45" opacity="0.7"/>
<path d="M488.2 711.2 L489.1 712.1 L488.2 713.0" fill="none" stroke="#2f44a4" stroke-width="0.45" opacity="0.7"/>
<path d="M497.2 711.2 L498.1 712.1 L497.2 713.0" fill="none" stroke="#2f44a4" stroke-width="0.45" opacity="0.7"/>
<path d="M502.9 711.2 L503.8 712.1 L502.9 713.0" fill="none" stroke="#2f44a4" stroke-width="0.45" opacity="0.7"/>
<path d="M513.5 711.2 L514.4 712.1 L513.5 713.0" fill="none" stroke="#2f44a4" stroke-width="0.45" opacity="0.7"/>
<path d="M519.3 711.2 L520.2 712.1 L519.3 713.0" fill="none" stroke="#2f44a4" stroke-width="0.45" opacity="0.7"/>
<path d="M526.3 711.2 L527.2 712.1 L526.3 713.0" fill="none" stroke="#2f44a4" stroke-width="0.45" opacity="0.7"/>
<path d="M535.6 711.2 L536.5 712.1 L535.6 713.0" fill="none" stroke="#2f44a4" stroke-width="0.45" opacity="0.7"/>
<path d="M544.2 711.2 L545.1 712.1 L544.2 713.0" fill="none" stroke="#2f44a4" stroke-width="0.45" opacity="0.7"/>
<path d="M552.6 711.2 L553.5 712.1 L552.6 713.0" fill="none" stroke="#2f44a4" stroke-width="0.45" opacity="0.7"/>
<path d="M561.4 711.2 L562.3 712.1 L561.4 713.0" fill="none" stroke="#2f44a4" stroke-width="0.45" opacity="0.7"/>
<path d="M569.2 711.2 L570.1 712.1 L569.2 713.0" fill="none" stroke="#2f44a4" stroke-width="0.45" opacity="0.7"/>
<path d="M576.1 711.2 L577.0 712.1 L576.1 713.0" fill="none" stroke="#2f44a4" stroke-width="0.45" opacity="0.7"/>
<path d="M582.1 711.2 L583.0 712.1 L582.1 713.0" fill="none" stroke="#2f44a4" stroke-width="0.45" opacity="0.7"/>
<path d="M587.5 711.2 L588.4 712.1 L587.5 713.0" fill="none" stroke="#2f44a4" stroke-width="0.45" opacity="0.7"/>
<path d="M596.8 711.2 L597.7 712.1 L596.8 713.0" fill="none" stroke="#2f44a4" stroke-width="0.45" opacity="0.7"/>
<path d="M606.4 711.2 L607.3 712.1 L606.4 713.0" fill="none" stroke="#2f44a4" stroke-width="0.45" opacity="0.7"/>
<path d="M614.6 711.2 L615.5 712.1 L614.6 713.0" fill="none" stroke="#2f44a4" stroke-width="0.45" opacity="0.7"/>
<path d="M624.1 711.2 L625.0 712.1 L624.1 713.0" fill="none" stroke="#2f44a4" stroke-width="0.45" opacity="0.7"/>
<path d="M631.2 711.2 L632.1 712.1 L631.2 713.0" fill="none" stroke="#2f44a4" stroke-width="0.45" opacity="0.7"/>
<path d="M637.8 711.2 L638.7 712.1 L637.8 713.0" fill="none" stroke="#2f44a4" stroke-width="0.45" opacity="0.7"/>
<path d="M645.1 711.2 L646.0 712.1 L645.1 713.0" fill="none" stroke="#2f44a4" stroke-width="0.45" opacity="0.7"/>
<rect x="373" y="711.30" width="1" height="1.6" fill="#2f44a4"/>
<rect x="388" y="711.30" width="1" height="1.6" fill="#2f44a4"/>
<rect x="392" y="711.00" width="2" height="2.2" fill="#2f44a4"/>
<rect x="398" y="711.30" width="1" height="1.6" fill="#2f44a4"/>
<rect x="411" y="710.90" width="18" height="2.4" fill="#2f44a4"/>
<rect x="452" y="711.00" width="6" height="2.2" fill="#2f44a4"/>
<rect x="459" y="711.00" width="3" height="2.2" fill="#2f44a4"/>
<rect x="472" y="711.30" width="1" height="1.6" fill="#2f44a4"/>
<rect x="484" y="711.00" width="3" height="2.2" fill="#2f44a4"/>
<rect x="492" y="710.80" width="4" height="2.6" fill="#2f44a4"/>
<rect x="497" y="711.30" width="1" height="1.6" fill="#2f44a4"/>
<rect x="501" y="711.30" width="1" height="1.6" fill="#2f44a4"/>
<rect x="504" y="711.30" width="1" height="1.6" fill="#2f44a4"/>
<rect x="508" y="711.00" width="2" height="2.2" fill="#2f44a4"/>
<rect x="513" y="711.00" width="3" height="2.2" fill="#2f44a4"/>
<rect x="522.4" y="711.00" width="2.3999999999999773" height="2.2" fill="#2f44a4"/>
<rect x="543" y="711.30" width="1" height="1.6" fill="#2f44a4"/>
<rect x="595.2" y="710.90" width="16.399999999999977" height="2.4" fill="#2f44a4"/>
<rect x="619" y="711.20" width="1" height="1.8" fill="#2f44a4"/>
<rect x="632" y="711.30" width="1" height="1.6" fill="#2f44a4"/>
<rect x="649" y="711.30" width="1" height="1.6" fill="#2f44a4"/>
<text x="399.70" y="721.60" font-size="6.9" text-anchor="middle" fill="#222" color="#222" >CBFA2T2</text>
<text x="482.60" y="721.60" font-size="6.9" text-anchor="middle" fill="#222" color="#222" >NECAB3</text>
<text x="632.60" y="721.50" font-size="6.9" text-anchor="middle" fill="#222" color="#222" >PXMP4</text>
<text x="515.40" y="724.60" font-size="10.3" text-anchor="start" fill="#231f20" color="#231f20" >E2F1</text>
<rect x="369" y="737.4" width="316" height="60.200000000000045" fill="#f8f9f9"/>
<line x1="369" y1="797.6" x2="685" y2="797.6" stroke="#dcdcdc" stroke-width="0.9"/>
<line x1="369.7" y1="733.9" x2="505.67" y2="733.9" stroke="#555" stroke-width="1.1"/>
<line x1="538.93" y1="733.9" x2="677" y2="733.9" stroke="#555" stroke-width="1.1"/>
<text x="522.30" y="738.20" font-size="10.3" text-anchor="middle" fill="#231f20" color="#231f20" >100kb</text>
<text x="369.6" y="740.10" font-size="2.7" fill="#666" color="#666">[0 - 50]</text>
<text x="369.6" y="750.80" font-size="2.7" fill="#666" color="#666">[0 - 50]</text>
<text x="369.6" y="761.80" font-size="2.7" fill="#666" color="#666">[0 - 50]</text>
<text x="369.6" y="773.60" font-size="2.7" fill="#666" color="#666">[0 - 50]</text>
<text x="369.6" y="784.80" font-size="2.7" fill="#666" color="#666">[0 - 50]</text>
<line x1="369" y1="748.3" x2="685" y2="748.3" stroke="#c3c7e5" stroke-width="1.0" opacity="1.0"/>
<line x1="369" y1="748.3" x2="685" y2="748.3" stroke="#3f4fa9" stroke-width="1.0" stroke-dasharray="1.0 2.0 1.4 2.5 0.7 4.7 2.3 8.2 2.1 3.1 1.6 3.6 0.9 2.1 1.0 9.4 2.2 8.3 2.1 2.8 1.2 6.7 2.0 8.7 2.3 1.9 1.8 7.1 1.6 2.7 1.5 1.9 2.4 8.8 1.6 3.8 2.3 6.2 2.3 8.6 1.6 4.8 1.7 4.9 0.9 3.8 2.1 1.5 0.7 6.7 1.1 5.9 1.5 4.2 2.5 2.8 1.4 2.9 1.8 3.6 1.3 7.8 1.2 6.1 2.3 2.0 0.7 3.1 2.1 6.6 1.1 4.1 0.9 5.2 0.7 7.3 2.3 9.6 2.0 9.6 0.6 3.7 2.4 8.0 1.4 9.5 1.8 8.4 1.2 2.8 1.4 2.3 1.3 9.7" opacity="0.75"/>
<line x1="369" y1="759.3" x2="685" y2="759.3" stroke="#c3c7e5" stroke-width="1.0" opacity="1.0"/>
<line x1="369" y1="759.3" x2="685" y2="759.3" stroke="#3f4fa9" stroke-width="1.0" stroke-dasharray="1.2 1.2 0.7 2.6 2.1 4.3 1.2 2.0 2.5 4.9 1.0 1.6 0.7 2.6 1.9 2.4 0.7 5.5 1.1 10.0 0.8 5.8 2.1 4.7 2.5 5.4 1.1 4.8 0.7 4.9 1.1 9.0 2.2 5.5 0.7 3.4 1.1 3.0 1.0 8.8 0.9 1.6 2.4 6.1 2.5 4.7 2.3 6.9 2.1 7.7 1.5 1.9 1.0 8.9 2.3 9.3 1.2 7.0 2.1 6.8 2.1 5.8 1.8 7.2 1.1 9.3 2.4 1.8 2.4 9.7 1.9 1.5 2.3 2.2 2.4 7.0 0.7 2.6 1.8 6.2 2.0 9.4 1.0 1.1 2.4 1.2 2.3 2.1 2.1 8.1 2.3 6.0 2.3 2.9 1.9 4.1" opacity="0.75"/>
<line x1="369" y1="771.1" x2="685" y2="771.1" stroke="#c3c7e5" stroke-width="1.0" opacity="1.0"/>
<line x1="369" y1="771.1" x2="685" y2="771.1" stroke="#3f4fa9" stroke-width="1.0" stroke-dasharray="2.3 8.0 1.5 5.8 0.7 1.4 1.7 5.5 2.2 6.5 0.9 4.3 2.1 5.8 0.6 8.6 2.2 1.9 1.6 4.5 2.1 3.9 1.0 5.4 2.4 2.0 0.8 6.6 2.3 5.7 1.4 8.7 2.1 1.7 2.3 2.9 1.2 8.5 1.4 8.2 0.9 8.9 0.9 2.4 1.5 4.1 1.6 9.1 1.9 1.2 1.2 6.0 1.5 7.5 1.5 1.8 1.1 8.6 1.3 7.9 2.5 6.7 1.9 6.5 1.2 9.2 1.5 9.2 1.2 8.8 2.1 6.6 1.4 2.4 2.1 4.3 1.9 2.3 0.8 2.4 2.1 2.7 2.3 4.4 1.7 4.2 1.8 1.9 1.4 9.4" opacity="0.75"/>
<line x1="369" y1="782.3" x2="685" y2="782.3" stroke="#c3c7e5" stroke-width="1.0" opacity="1.0"/>
<line x1="369" y1="782.3" x2="685" y2="782.3" stroke="#3f4fa9" stroke-width="1.0" stroke-dasharray="0.9 6.9 1.2 3.8 0.6 1.3 2.4 8.5 2.1 8.3 2.4 2.5 1.7 5.5 1.7 9.4 2.0 9.7 0.8 6.9 1.9 7.7 1.8 8.5 1.2 9.4 1.4 6.4 2.3 7.4 1.2 3.2 1.2 6.7 2.5 9.1 1.4 4.7 2.2 3.6 1.4 1.2 0.9 5.9 1.9 6.6 1.3 9.6 1.8 2.5 0.7 9.8 2.5 9.3 1.7 3.9 0.8 3.4 1.0 9.4 2.3 8.0 0.9 3.2 1.2 9.5 0.9 8.1 1.9 6.0 2.4 3.4 1.6 2.5 0.8 1.4 1.2 2.2 0.7 9.9 1.1 9.0" opacity="0.75"/>
<line x1="369" y1="793.5" x2="685" y2="793.5" stroke="#eaa2a4" stroke-width="1.0" opacity="1.0"/>
<line x1="369" y1="793.5" x2="685" y2="793.5" stroke="#de4450" stroke-width="1.0" stroke-dasharray="1.9 7.6 1.8 9.6 2.3 7.5 1.7 7.3 2.0 6.0 1.6 2.5 2.2 5.4 0.7 2.6 2.3 3.4 1.3 7.2 2.2 4.0 1.3 4.9 0.7 8.9 0.6 9.6 0.9 2.5 2.2 8.4 1.0 6.0 1.5 7.5 1.0 8.4 2.5 7.4 2.4 9.4 1.3 8.6 2.2 6.3 0.8 6.6 2.3 3.8 1.8 9.1 1.7 1.4 1.8 3.4 2.2 7.0 1.2 9.1 1.8 4.1 2.2 9.0 2.3 9.0 1.9 7.3 1.7 5.8 2.5 4.2 0.8 7.5 1.5 6.0 1.7 3.3 1.0 1.7" opacity="0.75"/>
<path d="M487.00 748.70 L487.00 748.66 L487.35 748.55 L487.70 748.21 L488.05 747.55 L488.40 746.75 L488.75 746.31 L489.10 746.57 L489.45 747.32 L489.80 748.05 L490.15 748.48 L490.50 748.64 L490.60 748.70 Z" fill="#2e3f9c"/>
<path d="M487.00 759.70 L487.00 759.66 L487.35 759.55 L487.70 759.21 L488.05 758.55 L488.40 757.75 L488.75 757.31 L489.10 757.57 L489.45 758.32 L489.80 759.05 L490.15 759.48 L490.50 759.64 L490.60 759.70 Z" fill="#2e3f9c"/>
<path d="M487.00 771.50 L487.00 771.46 L487.35 771.35 L487.70 771.01 L488.05 770.35 L488.40 769.55 L488.75 769.11 L489.10 769.37 L489.45 770.12 L489.80 770.85 L490.15 771.28 L490.50 771.44 L490.60 771.50 Z" fill="#2e3f9c"/>
<path d="M487.00 782.70 L487.00 782.66 L487.35 782.51 L487.70 782.11 L488.05 781.32 L488.40 780.36 L488.75 779.83 L489.10 780.14 L489.45 781.04 L489.80 781.92 L490.15 782.43 L490.50 782.63 L490.60 782.70 Z" fill="#2e3f9c"/>
<path d="M486.90 793.90 L486.90 793.84 L487.25 793.69 L487.60 793.27 L487.95 792.48 L488.30 791.48 L488.65 790.78 L489.00 790.84 L489.35 791.62 L489.70 792.61 L490.05 793.35 L490.40 793.72 L490.70 793.90 Z" fill="#d8143a"/>
<path d="M498.00 748.70 L498.00 748.69 L498.35 748.64 L498.70 748.51 L499.05 748.27 L499.40 747.97 L499.75 747.80 L500.10 747.90 L500.45 748.18 L500.80 748.46 L501.15 748.62 L501.50 748.68 L501.60 748.70 Z" fill="#2e3f9c"/>
<path d="M498.00 759.70 L498.00 759.69 L498.35 759.64 L498.70 759.51 L499.05 759.27 L499.40 758.97 L499.75 758.80 L500.10 758.90 L500.45 759.18 L500.80 759.46 L501.15 759.62 L501.50 759.68 L501.60 759.70 Z" fill="#2e3f9c"/>
<path d="M498.00 771.50 L498.00 771.49 L498.35 771.44 L498.70 771.31 L499.05 771.07 L499.40 770.77 L499.75 770.60 L500.10 770.70 L500.45 770.98 L500.80 771.26 L501.15 771.42 L501.50 771.48 L501.60 771.50 Z" fill="#2e3f9c"/>
<path d="M498.00 782.70 L498.00 782.68 L498.35 782.63 L498.70 782.48 L499.05 782.18 L499.40 781.82 L499.75 781.62 L500.10 781.74 L500.45 782.08 L500.80 782.41 L501.15 782.60 L501.50 782.68 L501.60 782.70 Z" fill="#2e3f9c"/>
<path d="M497.90 793.90 L497.90 793.88 L498.25 793.82 L498.60 793.66 L498.95 793.37 L499.30 792.99 L499.65 792.73 L500.00 792.75 L500.35 793.05 L500.70 793.42 L501.05 793.69 L501.40 793.83 L501.70 793.90 Z" fill="#d8143a"/>
<path d="M539.90 748.70 L539.90 748.69 L540.25 748.67 L540.60 748.60 L540.95 748.46 L541.30 748.29 L541.65 748.20 L542.00 748.26 L542.35 748.41 L542.70 748.56 L543.05 748.65 L543.40 748.69 L543.50 748.70 Z" fill="#2e3f9c"/>
<path d="M539.90 759.70 L539.90 759.69 L540.25 759.67 L540.60 759.60 L540.95 759.46 L541.30 759.29 L541.65 759.20 L542.00 759.26 L542.35 759.41 L542.70 759.56 L543.05 759.65 L543.40 759.69 L543.50 759.70 Z" fill="#2e3f9c"/>
<path d="M539.90 771.50 L539.90 771.49 L540.25 771.47 L540.60 771.40 L540.95 771.26 L541.30 771.09 L541.65 771.00 L542.00 771.06 L542.35 771.21 L542.70 771.36 L543.05 771.45 L543.40 771.49 L543.50 771.50 Z" fill="#2e3f9c"/>
<path d="M539.90 782.70 L539.90 782.69 L540.25 782.66 L540.60 782.58 L540.95 782.41 L541.30 782.21 L541.65 782.10 L542.00 782.17 L542.35 782.35 L542.70 782.54 L543.05 782.64 L543.40 782.69 L543.50 782.70 Z" fill="#2e3f9c"/>
<path d="M539.80 793.90 L539.80 793.89 L540.15 793.85 L540.50 793.74 L540.85 793.55 L541.20 793.30 L541.55 793.12 L541.90 793.14 L542.25 793.33 L542.60 793.58 L542.95 793.76 L543.30 793.86 L543.60 793.90 Z" fill="#d8143a"/>
<path d="M588.20 748.70 L588.20 748.69 L588.55 748.67 L588.90 748.60 L589.25 748.46 L589.60 748.29 L589.95 748.20 L590.30 748.26 L590.65 748.41 L591.00 748.56 L591.35 748.65 L591.70 748.69 L591.80 748.70 Z" fill="#2e3f9c"/>
<path d="M588.20 759.70 L588.20 759.69 L588.55 759.67 L588.90 759.60 L589.25 759.46 L589.60 759.29 L589.95 759.20 L590.30 759.26 L590.65 759.41 L591.00 759.56 L591.35 759.65 L591.70 759.69 L591.80 759.70 Z" fill="#2e3f9c"/>
<path d="M588.20 771.50 L588.20 771.49 L588.55 771.47 L588.90 771.40 L589.25 771.26 L589.60 771.09 L589.95 771.00 L590.30 771.06 L590.65 771.21 L591.00 771.36 L591.35 771.45 L591.70 771.49 L591.80 771.50 Z" fill="#2e3f9c"/>
<path d="M588.20 782.70 L588.20 782.69 L588.55 782.66 L588.90 782.58 L589.25 782.41 L589.60 782.21 L589.95 782.10 L590.30 782.17 L590.65 782.35 L591.00 782.54 L591.35 782.64 L591.70 782.69 L591.80 782.70 Z" fill="#2e3f9c"/>
<path d="M588.10 793.90 L588.10 793.89 L588.45 793.85 L588.80 793.74 L589.15 793.55 L589.50 793.30 L589.85 793.12 L590.20 793.14 L590.55 793.33 L590.90 793.58 L591.25 793.76 L591.60 793.86 L591.90 793.90 Z" fill="#d8143a"/>
<path d="M594.20 748.70 L594.20 748.69 L594.55 748.66 L594.90 748.58 L595.25 748.41 L595.60 748.21 L595.95 748.10 L596.30 748.17 L596.65 748.35 L597.00 748.54 L597.35 748.64 L597.70 748.69 L597.80 748.70 Z" fill="#2e3f9c"/>
<path d="M594.20 759.70 L594.20 759.69 L594.55 759.66 L594.90 759.58 L595.25 759.41 L595.60 759.21 L595.95 759.10 L596.30 759.17 L596.65 759.35 L597.00 759.54 L597.35 759.64 L597.70 759.69 L597.80 759.70 Z" fill="#2e3f9c"/>
<path d="M594.20 771.50 L594.20 771.49 L594.55 771.46 L594.90 771.38 L595.25 771.21 L595.60 771.01 L595.95 770.90 L596.30 770.97 L596.65 771.15 L597.00 771.34 L597.35 771.44 L597.70 771.49 L597.80 771.50 Z" fill="#2e3f9c"/>
<path d="M594.20 782.70 L594.20 782.69 L594.55 782.65 L594.90 782.55 L595.25 782.35 L595.60 782.12 L595.95 781.98 L596.30 782.06 L596.65 782.29 L597.00 782.50 L597.35 782.63 L597.70 782.68 L597.80 782.70 Z" fill="#2e3f9c"/>
<path d="M594.10 793.90 L594.10 793.88 L594.45 793.83 L594.80 793.70 L595.15 793.46 L595.50 793.15 L595.85 792.92 L596.20 792.94 L596.55 793.19 L596.90 793.50 L597.25 793.73 L597.60 793.84 L597.90 793.90 Z" fill="#d8143a"/>
<path d="M666.40 748.70 L666.40 748.69 L666.75 748.64 L667.10 748.49 L667.45 748.22 L667.80 747.89 L668.15 747.70 L668.50 747.81 L668.85 748.12 L669.20 748.43 L669.55 748.61 L669.90 748.68 L670.00 748.70 Z" fill="#2e3f9c"/>
<path d="M666.40 759.70 L666.40 759.69 L666.75 759.64 L667.10 759.49 L667.45 759.22 L667.80 758.89 L668.15 758.70 L668.50 758.81 L668.85 759.12 L669.20 759.43 L669.55 759.61 L669.90 759.68 L670.00 759.70 Z" fill="#2e3f9c"/>
<path d="M666.40 771.50 L666.40 771.49 L666.75 771.44 L667.10 771.29 L667.45 771.02 L667.80 770.69 L668.15 770.50 L668.50 770.61 L668.85 770.92 L669.20 771.23 L669.55 771.41 L669.90 771.48 L670.00 771.50 Z" fill="#2e3f9c"/>
<path d="M666.40 782.70 L666.40 782.68 L666.75 782.62 L667.10 782.45 L667.45 782.12 L667.80 781.73 L668.15 781.50 L668.50 781.63 L668.85 782.01 L669.20 782.37 L669.55 782.59 L669.90 782.67 L670.00 782.70 Z" fill="#2e3f9c"/>
<path d="M666.30 793.90 L666.30 793.87 L666.65 793.80 L667.00 793.60 L667.35 793.23 L667.70 792.77 L668.05 792.44 L668.40 792.47 L668.75 792.83 L669.10 793.30 L669.45 793.64 L669.80 793.82 L670.10 793.90 Z" fill="#d8143a"/>
<path d="M403.20 748.70 L403.20 748.70 L403.55 748.68 L403.90 748.64 L404.25 748.56 L404.60 748.46 L404.95 748.40 L405.30 748.43 L405.65 748.53 L406.00 748.62 L406.35 748.67 L406.70 748.69 L406.80 748.70 Z" fill="#2e3f9c"/>
<path d="M403.20 759.70 L403.20 759.70 L403.55 759.68 L403.90 759.64 L404.25 759.56 L404.60 759.46 L404.95 759.40 L405.30 759.43 L405.65 759.53 L406.00 759.62 L406.35 759.67 L406.70 759.69 L406.80 759.70 Z" fill="#2e3f9c"/>
<path d="M403.20 771.50 L403.20 771.50 L403.55 771.48 L403.90 771.44 L404.25 771.36 L404.60 771.26 L404.95 771.20 L405.30 771.23 L405.65 771.33 L406.00 771.42 L406.35 771.47 L406.70 771.49 L406.80 771.50 Z" fill="#2e3f9c"/>
<path d="M403.20 782.70 L403.20 782.69 L403.55 782.68 L403.90 782.63 L404.25 782.53 L404.60 782.41 L404.95 782.34 L405.30 782.38 L405.65 782.49 L406.00 782.60 L406.35 782.67 L406.70 782.69 L406.80 782.70 Z" fill="#2e3f9c"/>
<path d="M403.10 793.90 L403.10 793.89 L403.45 793.87 L403.80 793.80 L404.15 793.68 L404.50 793.52 L404.85 793.41 L405.20 793.42 L405.55 793.54 L405.90 793.70 L406.25 793.81 L406.60 793.87 L406.90 793.90 Z" fill="#d8143a"/>
<path d="M428.20 748.70 L428.20 748.70 L428.55 748.68 L428.90 748.64 L429.25 748.56 L429.60 748.46 L429.95 748.40 L430.30 748.43 L430.65 748.53 L431.00 748.62 L431.35 748.67 L431.70 748.69 L431.80 748.70 Z" fill="#2e3f9c"/>
<path d="M428.20 759.70 L428.20 759.70 L428.55 759.68 L428.90 759.64 L429.25 759.56 L429.60 759.46 L429.95 759.40 L430.30 759.43 L430.65 759.53 L431.00 759.62 L431.35 759.67 L431.70 759.69 L431.80 759.70 Z" fill="#2e3f9c"/>
<path d="M428.20 771.50 L428.20 771.50 L428.55 771.48 L428.90 771.44 L429.25 771.36 L429.60 771.26 L429.95 771.20 L430.30 771.23 L430.65 771.33 L431.00 771.42 L431.35 771.47 L431.70 771.49 L431.80 771.50 Z" fill="#2e3f9c"/>
<path d="M428.20 782.70 L428.20 782.69 L428.55 782.68 L428.90 782.63 L429.25 782.53 L429.60 782.41 L429.95 782.34 L430.30 782.38 L430.65 782.49 L431.00 782.60 L431.35 782.67 L431.70 782.69 L431.80 782.70 Z" fill="#2e3f9c"/>
<path d="M428.10 793.90 L428.10 793.89 L428.45 793.87 L428.80 793.80 L429.15 793.68 L429.50 793.52 L429.85 793.41 L430.20 793.42 L430.55 793.54 L430.90 793.70 L431.25 793.81 L431.60 793.87 L431.90 793.90 Z" fill="#d8143a"/>
<path d="M458.20 748.70 L458.20 748.70 L458.55 748.68 L458.90 748.64 L459.25 748.56 L459.60 748.46 L459.95 748.40 L460.30 748.43 L460.65 748.53 L461.00 748.62 L461.35 748.67 L461.70 748.69 L461.80 748.70 Z" fill="#2e3f9c"/>
<path d="M458.20 759.70 L458.20 759.70 L458.55 759.68 L458.90 759.64 L459.25 759.56 L459.60 759.46 L459.95 759.40 L460.30 759.43 L460.65 759.53 L461.00 759.62 L461.35 759.67 L461.70 759.69 L461.80 759.70 Z" fill="#2e3f9c"/>
<path d="M458.20 771.50 L458.20 771.50 L458.55 771.48 L458.90 771.44 L459.25 771.36 L459.60 771.26 L459.95 771.20 L460.30 771.23 L460.65 771.33 L461.00 771.42 L461.35 771.47 L461.70 771.49 L461.80 771.50 Z" fill="#2e3f9c"/>
<path d="M458.20 782.70 L458.20 782.69 L458.55 782.68 L458.90 782.63 L459.25 782.53 L459.60 782.41 L459.95 782.34 L460.30 782.38 L460.65 782.49 L461.00 782.60 L461.35 782.67 L461.70 782.69 L461.80 782.70 Z" fill="#2e3f9c"/>
<path d="M458.10 793.90 L458.10 793.89 L458.45 793.87 L458.80 793.82 L459.15 793.72 L459.50 793.60 L459.85 793.51 L460.20 793.52 L460.55 793.62 L460.90 793.74 L461.25 793.83 L461.60 793.88 L461.90 793.90 Z" fill="#d8143a"/>
<path d="M618.20 748.70 L618.20 748.70 L618.55 748.68 L618.90 748.64 L619.25 748.56 L619.60 748.46 L619.95 748.40 L620.30 748.43 L620.65 748.53 L621.00 748.62 L621.35 748.67 L621.70 748.69 L621.80 748.70 Z" fill="#2e3f9c"/>
<path d="M618.20 759.70 L618.20 759.70 L618.55 759.68 L618.90 759.64 L619.25 759.56 L619.60 759.46 L619.95 759.40 L620.30 759.43 L620.65 759.53 L621.00 759.62 L621.35 759.67 L621.70 759.69 L621.80 759.70 Z" fill="#2e3f9c"/>
<path d="M618.20 771.50 L618.20 771.50 L618.55 771.48 L618.90 771.44 L619.25 771.36 L619.60 771.26 L619.95 771.20 L620.30 771.23 L620.65 771.33 L621.00 771.42 L621.35 771.47 L621.70 771.49 L621.80 771.50 Z" fill="#2e3f9c"/>
<path d="M618.20 782.70 L618.20 782.69 L618.55 782.68 L618.90 782.63 L619.25 782.53 L619.60 782.41 L619.95 782.34 L620.30 782.38 L620.65 782.49 L621.00 782.60 L621.35 782.67 L621.70 782.69 L621.80 782.70 Z" fill="#2e3f9c"/>
<path d="M618.10 793.90 L618.10 793.89 L618.45 793.87 L618.80 793.80 L619.15 793.68 L619.50 793.52 L619.85 793.41 L620.20 793.42 L620.55 793.54 L620.90 793.70 L621.25 793.81 L621.60 793.87 L621.90 793.90 Z" fill="#d8143a"/>
<path d="M638.20 748.70 L638.20 748.70 L638.55 748.68 L638.90 748.64 L639.25 748.56 L639.60 748.46 L639.95 748.40 L640.30 748.43 L640.65 748.53 L641.00 748.62 L641.35 748.67 L641.70 748.69 L641.80 748.70 Z" fill="#2e3f9c"/>
<path d="M638.20 759.70 L638.20 759.70 L638.55 759.68 L638.90 759.64 L639.25 759.56 L639.60 759.46 L639.95 759.40 L640.30 759.43 L640.65 759.53 L641.00 759.62 L641.35 759.67 L641.70 759.69 L641.80 759.70 Z" fill="#2e3f9c"/>
<path d="M638.20 771.50 L638.20 771.50 L638.55 771.48 L638.90 771.44 L639.25 771.36 L639.60 771.26 L639.95 771.20 L640.30 771.23 L640.65 771.33 L641.00 771.42 L641.35 771.47 L641.70 771.49 L641.80 771.50 Z" fill="#2e3f9c"/>
<path d="M638.20 782.70 L638.20 782.69 L638.55 782.68 L638.90 782.63 L639.25 782.53 L639.60 782.41 L639.95 782.34 L640.30 782.38 L640.65 782.49 L641.00 782.60 L641.35 782.67 L641.70 782.69 L641.80 782.70 Z" fill="#2e3f9c"/>
<path d="M638.10 793.90 L638.10 793.89 L638.45 793.87 L638.80 793.80 L639.15 793.68 L639.50 793.52 L639.85 793.41 L640.20 793.42 L640.55 793.54 L640.90 793.70 L641.25 793.81 L641.60 793.87 L641.90 793.90 Z" fill="#d8143a"/>
<path d="M443.58 748.70 L444.03 748.26 L444.48 748.70 Z" fill="#2e3f9c"/>
<path d="M569.59 748.70 L570.04 748.39 L570.49 748.70 Z" fill="#2e3f9c"/>
<path d="M520.86 748.70 L521.31 748.35 L521.76 748.70 Z" fill="#2e3f9c"/>
<path d="M393.12 748.70 L393.57 748.37 L394.02 748.70 Z" fill="#2e3f9c"/>
<path d="M473.66 748.70 L474.11 748.36 L474.56 748.70 Z" fill="#2e3f9c"/>
<path d="M435.72 748.70 L436.17 748.39 L436.62 748.70 Z" fill="#2e3f9c"/>
<path d="M518.94 748.70 L519.39 748.32 L519.84 748.70 Z" fill="#2e3f9c"/>
<path d="M563.76 748.70 L564.21 748.28 L564.66 748.70 Z" fill="#2e3f9c"/>
<path d="M449.33 748.70 L449.78 748.22 L450.23 748.70 Z" fill="#2e3f9c"/>
<path d="M376.75 748.70 L377.20 748.32 L377.65 748.70 Z" fill="#2e3f9c"/>
<path d="M461.78 759.70 L462.23 759.32 L462.68 759.70 Z" fill="#2e3f9c"/>
<path d="M411.76 759.70 L412.21 759.23 L412.66 759.70 Z" fill="#2e3f9c"/>
<path d="M490.96 759.70 L491.41 759.39 L491.86 759.70 Z" fill="#2e3f9c"/>
<path d="M564.30 759.70 L564.75 759.38 L565.20 759.70 Z" fill="#2e3f9c"/>
<path d="M543.39 759.70 L543.84 759.33 L544.29 759.70 Z" fill="#2e3f9c"/>
<path d="M554.30 759.70 L554.75 759.21 L555.20 759.70 Z" fill="#2e3f9c"/>
<path d="M627.02 759.70 L627.47 759.32 L627.92 759.70 Z" fill="#2e3f9c"/>
<path d="M625.32 759.70 L625.77 759.27 L626.22 759.70 Z" fill="#2e3f9c"/>
<path d="M489.60 759.70 L490.05 759.37 L490.50 759.70 Z" fill="#2e3f9c"/>
<path d="M558.91 759.70 L559.36 759.29 L559.81 759.70 Z" fill="#2e3f9c"/>
<path d="M669.46 771.50 L669.91 771.01 L670.36 771.50 Z" fill="#2e3f9c"/>
<path d="M562.78 771.50 L563.23 771.13 L563.68 771.50 Z" fill="#2e3f9c"/>
<path d="M649.95 771.50 L650.40 771.20 L650.85 771.50 Z" fill="#2e3f9c"/>
<path d="M409.57 771.50 L410.02 771.09 L410.47 771.50 Z" fill="#2e3f9c"/>
<path d="M564.79 771.50 L565.24 771.17 L565.69 771.50 Z" fill="#2e3f9c"/>
<path d="M569.16 771.50 L569.61 771.02 L570.06 771.50 Z" fill="#2e3f9c"/>
<path d="M491.56 771.50 L492.01 771.11 L492.46 771.50 Z" fill="#2e3f9c"/>
<path d="M445.81 771.50 L446.26 771.14 L446.71 771.50 Z" fill="#2e3f9c"/>
<path d="M674.12 771.50 L674.57 771.12 L675.02 771.50 Z" fill="#2e3f9c"/>
<path d="M670.66 771.50 L671.11 771.02 L671.56 771.50 Z" fill="#2e3f9c"/>
<path d="M558.87 782.70 L559.32 782.35 L559.77 782.70 Z" fill="#2e3f9c"/>
<path d="M676.73 782.70 L677.18 782.30 L677.63 782.70 Z" fill="#2e3f9c"/>
<path d="M503.69 782.70 L504.14 782.34 L504.59 782.70 Z" fill="#2e3f9c"/>
<path d="M677.74 782.70 L678.19 782.30 L678.64 782.70 Z" fill="#2e3f9c"/>
<path d="M464.19 782.70 L464.64 782.30 L465.09 782.70 Z" fill="#2e3f9c"/>
<path d="M413.85 782.70 L414.30 782.28 L414.75 782.70 Z" fill="#2e3f9c"/>
<path d="M512.25 782.70 L512.70 782.34 L513.15 782.70 Z" fill="#2e3f9c"/>
<path d="M615.75 782.70 L616.20 782.23 L616.65 782.70 Z" fill="#2e3f9c"/>
<path d="M380.59 782.70 L381.04 782.29 L381.49 782.70 Z" fill="#2e3f9c"/>
<path d="M460.33 782.70 L460.78 782.21 L461.23 782.70 Z" fill="#2e3f9c"/>
<path d="M615.81 793.90 L616.26 793.55 L616.71 793.90 Z" fill="#d8143a"/>
<path d="M458.46 793.90 L458.91 793.57 L459.36 793.90 Z" fill="#d8143a"/>
<path d="M679.13 793.90 L679.58 793.54 L680.03 793.90 Z" fill="#d8143a"/>
<path d="M562.61 793.90 L563.06 793.51 L563.51 793.90 Z" fill="#d8143a"/>
<path d="M573.88 793.90 L574.33 793.48 L574.78 793.90 Z" fill="#d8143a"/>
<path d="M604.05 793.90 L604.50 793.58 L604.95 793.90 Z" fill="#d8143a"/>
<path d="M609.23 793.90 L609.68 793.54 L610.13 793.90 Z" fill="#d8143a"/>
<path d="M539.80 793.90 L540.25 793.53 L540.70 793.90 Z" fill="#d8143a"/>
<path d="M467.38 793.90 L467.83 793.49 L468.28 793.90 Z" fill="#d8143a"/>
<path d="M518.64 793.90 L519.09 793.53 L519.54 793.90 Z" fill="#d8143a"/>
<line x1="369.5" y1="801.2" x2="684.5" y2="801.2" stroke="#2f44a4" stroke-width="0.55" opacity="0.75"/>
<path d="M372.5 800.3 L373.4 801.2 L372.5 802.1" fill="none" stroke="#2f44a4" stroke-width="0.45" opacity="0.7"/>
<path d="M382.2 800.3 L383.1 801.2 L382.2 802.1" fill="none" stroke="#2f44a4" stroke-width="0.45" opacity="0.7"/>
<path d="M392.6 800.3 L393.5 801.2 L392.6 802.1" fill="none" stroke="#2f44a4" stroke-width="0.45" opacity="0.7"/>
<path d="M401.8 800.3 L402.7 801.2 L401.8 802.1" fill="none" stroke="#2f44a4" stroke-width="0.45" opacity="0.7"/>
<path d="M407.5 800.3 L408.4 801.2 L407.5 802.1" fill="none" stroke="#2f44a4" stroke-width="0.45" opacity="0.7"/>
<path d="M418.4 800.3 L419.3 801.2 L418.4 802.1" fill="none" stroke="#2f44a4" stroke-width="0.45" opacity="0.7"/>
<path d="M428.4 800.3 L429.3 801.2 L428.4 802.1" fill="none" stroke="#2f44a4" stroke-width="0.45" opacity="0.7"/>
<path d="M436.4 800.3 L437.3 801.2 L436.4 802.1" fill="none" stroke="#2f44a4" stroke-width="0.45" opacity="0.7"/>
<path d="M441.4 800.3 L442.3 801.2 L441.4 802.1" fill="none" stroke="#2f44a4" stroke-width="0.45" opacity="0.7"/>
<path d="M451.5 800.3 L452.4 801.2 L451.5 802.1" fill="none" stroke="#2f44a4" stroke-width="0.45" opacity="0.7"/>
<path d="M460.2 800.3 L461.1 801.2 L460.2 802.1" fill="none" stroke="#2f44a4" stroke-width="0.45" opacity="0.7"/>
<path d="M469.0 800.3 L469.9 801.2 L469.0 802.1" fill="none" stroke="#2f44a4" stroke-width="0.45" opacity="0.7"/>
<path d="M474.1 800.3 L475.0 801.2 L474.1 802.1" fill="none" stroke="#2f44a4" stroke-width="0.45" opacity="0.7"/>
<path d="M483.5 800.3 L484.4 801.2 L483.5 802.1" fill="none" stroke="#2f44a4" stroke-width="0.45" opacity="0.7"/>
<path d="M488.7 800.3 L489.6 801.2 L488.7 802.1" fill="none" stroke="#2f44a4" stroke-width="0.45" opacity="0.7"/>
<path d="M496.5 800.3 L497.4 801.2 L496.5 802.1" fill="none" stroke="#2f44a4" stroke-width="0.45" opacity="0.7"/>
<path d="M502.4 800.3 L503.3 801.2 L502.4 802.1" fill="none" stroke="#2f44a4" stroke-width="0.45" opacity="0.7"/>
<path d="M509.6 800.3 L510.5 801.2 L509.6 802.1" fill="none" stroke="#2f44a4" stroke-width="0.45" opacity="0.7"/>
<path d="M519.9 800.3 L520.8 801.2 L519.9 802.1" fill="none" stroke="#2f44a4" stroke-width="0.45" opacity="0.7"/>
<path d="M529.4 800.3 L530.3 801.2 L529.4 802.1" fill="none" stroke="#2f44a4" stroke-width="0.45" opacity="0.7"/>
<path d="M539.3 800.3 L540.2 801.2 L539.3 802.1" fill="none" stroke="#2f44a4" stroke-width="0.45" opacity="0.7"/>
<path d="M546.1 800.3 L547.0 801.2 L546.1 802.1" fill="none" stroke="#2f44a4" stroke-width="0.45" opacity="0.7"/>
<path d="M553.4 800.3 L554.3 801.2 L553.4 802.1" fill="none" stroke="#2f44a4" stroke-width="0.45" opacity="0.7"/>
<path d="M562.0 800.3 L562.9 801.2 L562.0 802.1" fill="none" stroke="#2f44a4" stroke-width="0.45" opacity="0.7"/>
<path d="M567.2 800.3 L568.1 801.2 L567.2 802.1" fill="none" stroke="#2f44a4" stroke-width="0.45" opacity="0.7"/>
<path d="M574.7 800.3 L575.6 801.2 L574.7 802.1" fill="none" stroke="#2f44a4" stroke-width="0.45" opacity="0.7"/>
<path d="M585.6 800.3 L586.5 801.2 L585.6 802.1" fill="none" stroke="#2f44a4" stroke-width="0.45" opacity="0.7"/>
<path d="M595.1 800.3 L596.0 801.2 L595.1 802.1" fill="none" stroke="#2f44a4" stroke-width="0.45" opacity="0.7"/>
<path d="M605.3 800.3 L606.2 801.2 L605.3 802.1" fill="none" stroke="#2f44a4" stroke-width="0.45" opacity="0.7"/>
<path d="M612.1 800.3 L613.0 801.2 L612.1 802.1" fill="none" stroke="#2f44a4" stroke-width="0.45" opacity="0.7"/>
<path d="M621.2 800.3 L622.1 801.2 L621.2 802.1" fill="none" stroke="#2f44a4" stroke-width="0.45" opacity="0.7"/>
<path d="M630.9 800.3 L631.8 801.2 L630.9 802.1" fill="none" stroke="#2f44a4" stroke-width="0.45" opacity="0.7"/>
<path d="M640.2 800.3 L641.1 801.2 L640.2 802.1" fill="none" stroke="#2f44a4" stroke-width="0.45" opacity="0.7"/>
<path d="M647.8 800.3 L648.7 801.2 L647.8 802.1" fill="none" stroke="#2f44a4" stroke-width="0.45" opacity="0.7"/>
<path d="M653.8 800.3 L654.7 801.2 L653.8 802.1" fill="none" stroke="#2f44a4" stroke-width="0.45" opacity="0.7"/>
<path d="M658.9 800.3 L659.8 801.2 L658.9 802.1" fill="none" stroke="#2f44a4" stroke-width="0.45" opacity="0.7"/>
<path d="M669.3 800.3 L670.2 801.2 L669.3 802.1" fill="none" stroke="#2f44a4" stroke-width="0.45" opacity="0.7"/>
<path d="M679.9 800.3 L680.8 801.2 L679.9 802.1" fill="none" stroke="#2f44a4" stroke-width="0.45" opacity="0.7"/>
<rect x="375" y="800.40" width="1" height="1.6" fill="#2f44a4"/>
<rect x="401" y="800.40" width="1" height="1.6" fill="#2f44a4"/>
<rect x="414" y="800.40" width="1" height="1.6" fill="#2f44a4"/>
<rect x="417.5" y="800.40" width="1.0" height="1.6" fill="#2f44a4"/>
<rect x="421" y="800.40" width="1" height="1.6" fill="#2f44a4"/>
<rect x="426.2" y="800.00" width="2.3000000000000114" height="2.4" fill="#2f44a4"/>
<rect x="455.5" y="800.40" width="1.0" height="1.6" fill="#2f44a4"/>
<rect x="466.5" y="800.40" width="1.0" height="1.6" fill="#2f44a4"/>
<rect x="469.4" y="800.00" width="18.700000000000045" height="2.4" fill="#2f44a4"/>
<rect x="500" y="800.40" width="1" height="1.6" fill="#2f44a4"/>
<rect x="504" y="800.40" width="1" height="1.6" fill="#2f44a4"/>
<rect x="507.5" y="800.10" width="4.5" height="2.2" fill="#2f44a4"/>
<rect x="515.7" y="800.30" width="9.299999999999955" height="1.8" fill="#2f44a4"/>
<rect x="526" y="800.40" width="1" height="1.6" fill="#2f44a4"/>
<rect x="540.5" y="800.00" width="12.0" height="2.4" fill="#2f44a4"/>
<rect x="585" y="800.00" width="12" height="2.4" fill="#2f44a4"/>
<rect x="608" y="800.10" width="2" height="2.2" fill="#2f44a4"/>
<rect x="635.5" y="800.40" width="1.0" height="1.6" fill="#2f44a4"/>
<rect x="662" y="800.00" width="12" height="2.4" fill="#2f44a4"/>
<text x="413.20" y="810.50" font-size="6.9" text-anchor="middle" fill="#222" color="#222" >WIPF2</text>
<text x="632.70" y="810.50" font-size="6.9" text-anchor="middle" fill="#222" color="#222" >RARA</text>
<text x="502.50" y="815.20" font-size="10.3" text-anchor="start" fill="#231f20" color="#231f20" >CDC6</text>
<rect x="369" y="834.2" width="316" height="60.19999999999993" fill="#f8f9f9"/>
<line x1="369" y1="894.4" x2="685" y2="894.4" stroke="#dcdcdc" stroke-width="0.9"/>
<line x1="369.7" y1="827.1" x2="505.67" y2="827.1" stroke="#555" stroke-width="1.1"/>
<line x1="538.93" y1="827.1" x2="677" y2="827.1" stroke="#555" stroke-width="1.1"/>
<text x="522.30" y="831.40" font-size="10.3" text-anchor="middle" fill="#231f20" color="#231f20" >100kb</text>
<text x="369.6" y="836.90" font-size="2.7" fill="#666" color="#666">[0 - 50]</text>
<text x="369.6" y="847.90" font-size="2.7" fill="#666" color="#666">[0 - 50]</text>
<text x="369.6" y="859.10" font-size="2.7" fill="#666" color="#666">[0 - 50]</text>
<text x="369.6" y="870.80" font-size="2.7" fill="#666" color="#666">[0 - 50]</text>
<text x="369.6" y="881.70" font-size="2.7" fill="#666" color="#666">[0 - 50]</text>
<line x1="369" y1="845.4" x2="685" y2="845.4" stroke="#c3c7e5" stroke-width="1.0" opacity="1"/>
<line x1="369" y1="845.4" x2="685" y2="845.4" stroke="#3f4fa9" stroke-width="1.0" stroke-dasharray="1.8 7.7 2.1 9.5 2.0 9.3 0.7 5.2 2.4 6.9 2.3 2.1 1.5 3.3 1.6 6.2 0.6 3.0 1.1 9.3 2.1 2.5 2.1 2.3 1.8 2.2 0.6 8.9 1.0 3.0 2.5 8.9 1.1 9.7 1.6 7.1 1.0 9.5 1.9 9.7 2.3 3.8 1.3 2.6 0.9 1.7 1.2 6.5 0.6 7.1 1.2 3.9 2.2 5.4 1.2 5.4 1.9 1.6 2.5 1.3 2.0 8.6 0.6 8.1 1.3 6.3 0.6 1.5 0.9 9.6 1.0 7.8 2.4 9.5 1.3 4.3 1.6 8.0 0.8 7.8 2.1 8.8 0.7 9.5" opacity="0.75"/>
<line x1="369" y1="856.6" x2="685" y2="856.6" stroke="#c3c7e5" stroke-width="1.0" opacity="1"/>
<line x1="369" y1="856.6" x2="685" y2="856.6" stroke="#3f4fa9" stroke-width="1.0" stroke-dasharray="0.8 4.1 1.8 9.3 1.2 9.3 1.6 3.9 1.2 2.7 0.7 2.4 1.9 10.0 0.9 1.5 2.5 5.9 1.4 3.2 1.7 8.5 1.5 4.9 0.7 9.3 0.7 5.5 2.2 2.3 2.0 9.6 1.8 8.1 0.8 5.0 0.9 8.6 1.2 5.1 2.5 8.7 2.5 5.1 1.5 7.6 1.5 3.7 1.4 2.4 1.3 9.9 2.4 6.7 1.5 4.1 0.8 3.5 2.1 8.8 1.3 8.1 2.1 7.3 1.9 7.9 1.3 7.4 1.1 5.4 2.1 7.3 1.2 9.5 1.8 6.3 0.6 6.0 1.1 7.1 1.5 8.4" opacity="0.75"/>
<line x1="369" y1="868.3" x2="685" y2="868.3" stroke="#c3c7e5" stroke-width="1.0" opacity="1"/>
<line x1="369" y1="868.3" x2="685" y2="868.3" stroke="#3f4fa9" stroke-width="1.0" stroke-dasharray="1.8 8.2 1.3 6.8 2.0 8.5 1.3 8.6 2.3 7.2 2.5 9.6 1.6 5.8 0.9 8.5 2.4 5.4 1.9 7.5 2.0 2.6 2.1 6.3 1.9 4.9 1.8 8.0 1.8 7.5 0.7 2.5 1.4 6.9 1.0 7.2 1.8 1.5 1.5 3.1 0.7 2.3 1.2 2.7 1.0 1.4 1.5 4.5 1.8 6.4 1.1 9.1 0.6 4.7 1.1 4.8 0.8 8.5 1.3 1.4 1.8 2.0 1.6 4.1 1.7 9.6 2.2 4.8 2.1 6.8 1.3 2.4 1.7 6.1 2.4 9.7 1.8 4.2 2.3 1.1 0.8 6.1 1.8 2.4 1.8 9.0 1.3 4.9 1.0 3.7" opacity="0.75"/>
<line x1="369" y1="879.2" x2="685" y2="879.2" stroke="#c3c7e5" stroke-width="1.0" opacity="1"/>
<line x1="369" y1="879.2" x2="685" y2="879.2" stroke="#3f4fa9" stroke-width="1.0" stroke-dasharray="2.4 4.5 2.4 9.2 1.7 3.4 2.5 5.5 1.4 3.9 2.5 5.5 1.1 5.4 0.8 6.6 1.4 3.7 2.1 8.5 0.6 5.8 1.1 9.4 2.1 3.3 1.1 2.5 2.5 3.7 1.8 5.3 1.8 6.5 2.0 2.2 2.0 3.8 1.6 4.1 1.2 5.8 1.5 4.3 2.0 6.4 0.7 3.4 1.5 9.3 2.3 6.0 0.6 8.0 1.4 6.2 1.9 6.7 1.5 9.2 1.3 4.6 2.2 2.9 1.2 8.5 0.7 8.5 1.9 5.0 1.1 8.1 2.3 2.4 1.5 6.0 1.5 4.1 0.9 6.3 2.1 1.7 1.0 8.4 2.1 7.0 0.6 7.5" opacity="0.75"/>
<line x1="369" y1="890.5" x2="685" y2="890.5" stroke="#eaa2a4" stroke-width="1.0" opacity="0.6"/>
<line x1="369" y1="890.5" x2="685" y2="890.5" stroke="#de4450" stroke-width="1.0" stroke-dasharray="2.5 10.0 1.9 1.5 2.2 3.1 1.8 9.6 2.0 2.3 1.2 9.3 0.9 6.5 1.4 2.5 1.8 1.5 0.8 4.5 0.7 1.6 1.7 7.7 2.3 2.3 1.4 3.9 1.7 5.5 2.4 4.4 0.7 7.3 0.9 6.7 1.6 9.2 1.7 6.6 1.1 6.0 1.1 7.8 1.6 2.3 1.0 4.4 2.0 2.7 2.0 6.9 0.8 7.0 0.8 2.2 1.7 3.2 2.3 5.4 1.2 8.2 0.7 7.6 0.7 2.5 2.4 7.2 1.0 2.1 2.4 7.0 2.2 2.4 1.8 4.3 1.0 4.1 1.8 4.2 1.3 2.3 2.2 6.9 2.1 5.0 2.2 5.7 1.7 6.2 2.0 4.6 0.8 1.4 1.0 1.5 2.3 5.4" opacity="0.44999999999999996"/>
<path d="M555.50 845.80 L555.50 845.79 L555.85 845.74 L556.20 845.59 L556.55 845.32 L556.90 844.99 L557.25 844.80 L557.60 844.91 L557.95 845.22 L558.30 845.53 L558.65 845.71 L559.00 845.78 L559.10 845.80 Z" fill="#2e3f9c"/>
<path d="M555.50 857.00 L555.50 856.99 L555.85 856.94 L556.20 856.79 L556.55 856.52 L556.90 856.19 L557.25 856.00 L557.60 856.11 L557.95 856.42 L558.30 856.73 L558.65 856.91 L559.00 856.98 L559.10 857.00 Z" fill="#2e3f9c"/>
<path d="M555.50 868.70 L555.50 868.69 L555.85 868.64 L556.20 868.49 L556.55 868.22 L556.90 867.89 L557.25 867.70 L557.60 867.81 L557.95 868.12 L558.30 868.43 L558.65 868.61 L559.00 868.68 L559.10 868.70 Z" fill="#2e3f9c"/>
<path d="M555.50 879.60 L555.50 879.58 L555.85 879.52 L556.20 879.35 L556.55 879.02 L556.90 878.63 L557.25 878.40 L557.60 878.53 L557.95 878.91 L558.30 879.27 L558.65 879.49 L559.00 879.57 L559.10 879.60 Z" fill="#2e3f9c"/>
<path d="M555.40 890.90 L555.40 890.88 L555.75 890.81 L556.10 890.62 L556.45 890.28 L556.80 889.84 L557.15 889.53 L557.50 889.56 L557.85 889.90 L558.20 890.34 L558.55 890.66 L558.90 890.82 L559.20 890.90 Z" fill="#d8143a"/>
<path d="M597.70 845.80 L597.70 845.79 L598.05 845.75 L598.40 845.64 L598.75 845.42 L599.10 845.15 L599.45 845.00 L599.80 845.09 L600.15 845.34 L600.50 845.58 L600.85 845.73 L601.20 845.78 L601.30 845.80 Z" fill="#2e3f9c"/>
<path d="M597.70 857.00 L597.70 856.99 L598.05 856.95 L598.40 856.84 L598.75 856.62 L599.10 856.35 L599.45 856.20 L599.80 856.29 L600.15 856.54 L600.50 856.78 L600.85 856.93 L601.20 856.98 L601.30 857.00 Z" fill="#2e3f9c"/>
<path d="M597.70 868.70 L597.70 868.69 L598.05 868.65 L598.40 868.54 L598.75 868.32 L599.10 868.05 L599.45 867.90 L599.80 867.99 L600.15 868.24 L600.50 868.48 L600.85 868.63 L601.20 868.68 L601.30 868.70 Z" fill="#2e3f9c"/>
<path d="M597.70 879.60 L597.70 879.59 L598.05 879.54 L598.40 879.40 L598.75 879.14 L599.10 878.82 L599.45 878.64 L599.80 878.75 L600.15 879.05 L600.50 879.34 L600.85 879.51 L601.20 879.58 L601.30 879.60 Z" fill="#2e3f9c"/>
<path d="M597.60 890.90 L597.60 890.88 L597.95 890.82 L598.30 890.66 L598.65 890.37 L599.00 889.99 L599.35 889.73 L599.70 889.75 L600.05 890.05 L600.40 890.42 L600.75 890.69 L601.10 890.83 L601.40 890.90 Z" fill="#d8143a"/>
<path d="M633.90 845.80 L633.90 845.79 L634.25 845.75 L634.60 845.64 L634.95 845.42 L635.30 845.15 L635.65 845.00 L636.00 845.09 L636.35 845.34 L636.70 845.58 L637.05 845.73 L637.40 845.78 L637.50 845.80 Z" fill="#2e3f9c"/>
<path d="M633.90 857.00 L633.90 856.99 L634.25 856.95 L634.60 856.84 L634.95 856.62 L635.30 856.35 L635.65 856.20 L636.00 856.29 L636.35 856.54 L636.70 856.78 L637.05 856.93 L637.40 856.98 L637.50 857.00 Z" fill="#2e3f9c"/>
<path d="M633.90 868.70 L633.90 868.69 L634.25 868.65 L634.60 868.54 L634.95 868.32 L635.30 868.05 L635.65 867.90 L636.00 867.99 L636.35 868.24 L636.70 868.48 L637.05 868.63 L637.40 868.68 L637.50 868.70 Z" fill="#2e3f9c"/>
<path d="M633.90 879.60 L633.90 879.59 L634.25 879.54 L634.60 879.40 L634.95 879.14 L635.30 878.82 L635.65 878.64 L636.00 878.75 L636.35 879.05 L636.70 879.34 L637.05 879.51 L637.40 879.58 L637.50 879.60 Z" fill="#2e3f9c"/>
<path d="M633.80 890.90 L633.80 890.88 L634.15 890.83 L634.50 890.70 L634.85 890.46 L635.20 890.15 L635.55 889.92 L635.90 889.94 L636.25 890.19 L636.60 890.50 L636.95 890.73 L637.30 890.84 L637.60 890.90 Z" fill="#d8143a"/>
<path d="M653.10 845.80 L653.10 845.80 L653.45 845.78 L653.80 845.74 L654.15 845.66 L654.50 845.56 L654.85 845.50 L655.20 845.53 L655.55 845.63 L655.90 845.72 L656.25 845.77 L656.60 845.79 L656.70 845.80 Z" fill="#2e3f9c"/>
<path d="M653.10 857.00 L653.10 857.00 L653.45 856.98 L653.80 856.94 L654.15 856.86 L654.50 856.76 L654.85 856.70 L655.20 856.73 L655.55 856.83 L655.90 856.92 L656.25 856.97 L656.60 856.99 L656.70 857.00 Z" fill="#2e3f9c"/>
<path d="M653.10 868.70 L653.10 868.70 L653.45 868.68 L653.80 868.64 L654.15 868.56 L654.50 868.46 L654.85 868.40 L655.20 868.43 L655.55 868.53 L655.90 868.62 L656.25 868.67 L656.60 868.69 L656.70 868.70 Z" fill="#2e3f9c"/>
<path d="M653.10 879.60 L653.10 879.59 L653.45 879.58 L653.80 879.53 L654.15 879.43 L654.50 879.31 L654.85 879.24 L655.20 879.28 L655.55 879.39 L655.90 879.50 L656.25 879.57 L656.60 879.59 L656.70 879.60 Z" fill="#2e3f9c"/>
<path d="M653.00 890.90 L653.00 890.88 L653.35 890.83 L653.70 890.70 L654.05 890.46 L654.40 890.15 L654.75 889.92 L655.10 889.94 L655.45 890.19 L655.80 890.50 L656.15 890.73 L656.50 890.84 L656.80 890.90 Z" fill="#d8143a"/>
<path d="M418.20 845.80 L418.20 845.79 L418.55 845.77 L418.90 845.72 L419.25 845.61 L419.60 845.48 L419.95 845.40 L420.30 845.44 L420.65 845.57 L421.00 845.69 L421.35 845.76 L421.70 845.79 L421.80 845.80 Z" fill="#2e3f9c"/>
<path d="M418.20 857.00 L418.20 856.99 L418.55 856.97 L418.90 856.92 L419.25 856.81 L419.60 856.68 L419.95 856.60 L420.30 856.64 L420.65 856.77 L421.00 856.89 L421.35 856.96 L421.70 856.99 L421.80 857.00 Z" fill="#2e3f9c"/>
<path d="M418.20 868.70 L418.20 868.69 L418.55 868.67 L418.90 868.62 L419.25 868.51 L419.60 868.38 L419.95 868.30 L420.30 868.34 L420.65 868.47 L421.00 868.59 L421.35 868.66 L421.70 868.69 L421.80 868.70 Z" fill="#2e3f9c"/>
<path d="M418.20 879.60 L418.20 879.59 L418.55 879.57 L418.90 879.50 L419.25 879.37 L419.60 879.21 L419.95 879.12 L420.30 879.17 L420.65 879.32 L421.00 879.47 L421.35 879.56 L421.70 879.59 L421.80 879.60 Z" fill="#2e3f9c"/>
<path d="M418.10 890.90 L418.10 890.89 L418.45 890.86 L418.80 890.78 L419.15 890.63 L419.50 890.45 L419.85 890.31 L420.20 890.33 L420.55 890.47 L420.90 890.66 L421.25 890.80 L421.60 890.87 L421.90 890.90 Z" fill="#d8143a"/>
<path d="M438.20 845.80 L438.20 845.80 L438.55 845.78 L438.90 845.74 L439.25 845.66 L439.60 845.56 L439.95 845.50 L440.30 845.53 L440.65 845.63 L441.00 845.72 L441.35 845.77 L441.70 845.79 L441.80 845.80 Z" fill="#2e3f9c"/>
<path d="M438.20 857.00 L438.20 857.00 L438.55 856.98 L438.90 856.94 L439.25 856.86 L439.60 856.76 L439.95 856.70 L440.30 856.73 L440.65 856.83 L441.00 856.92 L441.35 856.97 L441.70 856.99 L441.80 857.00 Z" fill="#2e3f9c"/>
<path d="M438.20 868.70 L438.20 868.70 L438.55 868.68 L438.90 868.64 L439.25 868.56 L439.60 868.46 L439.95 868.40 L440.30 868.43 L440.65 868.53 L441.00 868.62 L441.35 868.67 L441.70 868.69 L441.80 868.70 Z" fill="#2e3f9c"/>
<path d="M438.20 879.60 L438.20 879.59 L438.55 879.58 L438.90 879.53 L439.25 879.43 L439.60 879.31 L439.95 879.24 L440.30 879.28 L440.65 879.39 L441.00 879.50 L441.35 879.57 L441.70 879.59 L441.80 879.60 Z" fill="#2e3f9c"/>
<path d="M438.10 890.90 L438.10 890.89 L438.45 890.86 L438.80 890.78 L439.15 890.63 L439.50 890.45 L439.85 890.31 L440.20 890.33 L440.55 890.47 L440.90 890.66 L441.25 890.80 L441.60 890.87 L441.90 890.90 Z" fill="#d8143a"/>
<path d="M473.20 845.80 L473.20 845.80 L473.55 845.78 L473.90 845.74 L474.25 845.66 L474.60 845.56 L474.95 845.50 L475.30 845.53 L475.65 845.63 L476.00 845.72 L476.35 845.77 L476.70 845.79 L476.80 845.80 Z" fill="#2e3f9c"/>
<path d="M473.20 857.00 L473.20 857.00 L473.55 856.98 L473.90 856.94 L474.25 856.86 L474.60 856.76 L474.95 856.70 L475.30 856.73 L475.65 856.83 L476.00 856.92 L476.35 856.97 L476.70 856.99 L476.80 857.00 Z" fill="#2e3f9c"/>
<path d="M473.20 868.70 L473.20 868.70 L473.55 868.68 L473.90 868.64 L474.25 868.56 L474.60 868.46 L474.95 868.40 L475.30 868.43 L475.65 868.53 L476.00 868.62 L476.35 868.67 L476.70 868.69 L476.80 868.70 Z" fill="#2e3f9c"/>
<path d="M473.20 879.60 L473.20 879.59 L473.55 879.58 L473.90 879.53 L474.25 879.43 L474.60 879.31 L474.95 879.24 L475.30 879.28 L475.65 879.39 L476.00 879.50 L476.35 879.57 L476.70 879.59 L476.80 879.60 Z" fill="#2e3f9c"/>
<path d="M473.10 890.90 L473.10 890.89 L473.45 890.86 L473.80 890.78 L474.15 890.63 L474.50 890.45 L474.85 890.31 L475.20 890.33 L475.55 890.47 L475.90 890.66 L476.25 890.80 L476.60 890.87 L476.90 890.90 Z" fill="#d8143a"/>
<path d="M498.20 845.80 L498.20 845.80 L498.55 845.78 L498.90 845.74 L499.25 845.66 L499.60 845.56 L499.95 845.50 L500.30 845.53 L500.65 845.63 L501.00 845.72 L501.35 845.77 L501.70 845.79 L501.80 845.80 Z" fill="#2e3f9c"/>
<path d="M498.20 857.00 L498.20 857.00 L498.55 856.98 L498.90 856.94 L499.25 856.86 L499.60 856.76 L499.95 856.70 L500.30 856.73 L500.65 856.83 L501.00 856.92 L501.35 856.97 L501.70 856.99 L501.80 857.00 Z" fill="#2e3f9c"/>
<path d="M498.20 868.70 L498.20 868.70 L498.55 868.68 L498.90 868.64 L499.25 868.56 L499.60 868.46 L499.95 868.40 L500.30 868.43 L500.65 868.53 L501.00 868.62 L501.35 868.67 L501.70 868.69 L501.80 868.70 Z" fill="#2e3f9c"/>
<path d="M498.20 879.60 L498.20 879.59 L498.55 879.58 L498.90 879.53 L499.25 879.43 L499.60 879.31 L499.95 879.24 L500.30 879.28 L500.65 879.39 L501.00 879.50 L501.35 879.57 L501.70 879.59 L501.80 879.60 Z" fill="#2e3f9c"/>
<path d="M498.10 890.90 L498.10 890.89 L498.45 890.86 L498.80 890.78 L499.15 890.63 L499.50 890.45 L499.85 890.31 L500.20 890.33 L500.55 890.47 L500.90 890.66 L501.25 890.80 L501.60 890.87 L501.90 890.90 Z" fill="#d8143a"/>
<path d="M384.20 845.80 L384.20 845.80 L384.55 845.78 L384.90 845.74 L385.25 845.66 L385.60 845.56 L385.95 845.50 L386.30 845.53 L386.65 845.63 L387.00 845.72 L387.35 845.77 L387.70 845.79 L387.80 845.80 Z" fill="#2e3f9c"/>
<path d="M384.20 857.00 L384.20 857.00 L384.55 856.98 L384.90 856.94 L385.25 856.86 L385.60 856.76 L385.95 856.70 L386.30 856.73 L386.65 856.83 L387.00 856.92 L387.35 856.97 L387.70 856.99 L387.80 857.00 Z" fill="#2e3f9c"/>
<path d="M384.20 868.70 L384.20 868.70 L384.55 868.68 L384.90 868.64 L385.25 868.56 L385.60 868.46 L385.95 868.40 L386.30 868.43 L386.65 868.53 L387.00 868.62 L387.35 868.67 L387.70 868.69 L387.80 868.70 Z" fill="#2e3f9c"/>
<path d="M384.20 879.60 L384.20 879.59 L384.55 879.58 L384.90 879.53 L385.25 879.43 L385.60 879.31 L385.95 879.24 L386.30 879.28 L386.65 879.39 L387.00 879.50 L387.35 879.57 L387.70 879.59 L387.80 879.60 Z" fill="#2e3f9c"/>
<path d="M384.10 890.90 L384.10 890.89 L384.45 890.87 L384.80 890.80 L385.15 890.68 L385.50 890.52 L385.85 890.41 L386.20 890.42 L386.55 890.54 L386.90 890.70 L387.25 890.81 L387.60 890.87 L387.90 890.90 Z" fill="#d8143a"/>
<path d="M604.53 845.80 L604.98 845.44 L605.43 845.80 Z" fill="#2e3f9c"/>
<path d="M387.70 845.80 L388.15 845.47 L388.60 845.80 Z" fill="#2e3f9c"/>
<path d="M515.97 845.80 L516.42 845.41 L516.87 845.80 Z" fill="#2e3f9c"/>
<path d="M648.26 845.80 L648.71 845.45 L649.16 845.80 Z" fill="#2e3f9c"/>
<path d="M381.01 845.80 L381.46 845.42 L381.91 845.80 Z" fill="#2e3f9c"/>
<path d="M507.44 845.80 L507.89 845.44 L508.34 845.80 Z" fill="#2e3f9c"/>
<path d="M593.25 845.80 L593.70 845.44 L594.15 845.80 Z" fill="#2e3f9c"/>
<path d="M524.00 845.80 L524.45 845.41 L524.90 845.80 Z" fill="#2e3f9c"/>
<path d="M494.50 845.80 L494.95 845.46 L495.40 845.80 Z" fill="#2e3f9c"/>
<path d="M637.23 845.80 L637.68 845.48 L638.13 845.80 Z" fill="#2e3f9c"/>
<path d="M467.26 857.00 L467.71 856.62 L468.16 857.00 Z" fill="#2e3f9c"/>
<path d="M396.76 857.00 L397.21 856.62 L397.66 857.00 Z" fill="#2e3f9c"/>
<path d="M589.10 857.00 L589.55 856.66 L590.00 857.00 Z" fill="#2e3f9c"/>
<path d="M464.18 857.00 L464.63 856.62 L465.08 857.00 Z" fill="#2e3f9c"/>
<path d="M655.22 857.00 L655.67 856.69 L656.12 857.00 Z" fill="#2e3f9c"/>
<path d="M522.94 857.00 L523.39 856.65 L523.84 857.00 Z" fill="#2e3f9c"/>
<path d="M528.84 857.00 L529.29 856.67 L529.74 857.00 Z" fill="#2e3f9c"/>
<path d="M423.53 857.00 L423.98 856.64 L424.43 857.00 Z" fill="#2e3f9c"/>
<path d="M624.97 857.00 L625.42 856.69 L625.87 857.00 Z" fill="#2e3f9c"/>
<path d="M446.94 857.00 L447.39 856.62 L447.84 857.00 Z" fill="#2e3f9c"/>
<path d="M618.83 868.70 L619.28 868.33 L619.73 868.70 Z" fill="#2e3f9c"/>
<path d="M384.37 868.70 L384.82 868.33 L385.27 868.70 Z" fill="#2e3f9c"/>
<path d="M676.03 868.70 L676.48 868.30 L676.93 868.70 Z" fill="#2e3f9c"/>
<path d="M591.13 868.70 L591.58 868.40 L592.03 868.70 Z" fill="#2e3f9c"/>
<path d="M634.22 868.70 L634.67 868.38 L635.12 868.70 Z" fill="#2e3f9c"/>
<path d="M574.15 868.70 L574.60 868.30 L575.05 868.70 Z" fill="#2e3f9c"/>
<path d="M594.56 868.70 L595.01 868.39 L595.46 868.70 Z" fill="#2e3f9c"/>
<path d="M466.05 868.70 L466.50 868.31 L466.95 868.70 Z" fill="#2e3f9c"/>
<path d="M422.37 868.70 L422.82 868.34 L423.27 868.70 Z" fill="#2e3f9c"/>
<path d="M503.21 868.70 L503.66 868.38 L504.11 868.70 Z" fill="#2e3f9c"/>
<path d="M567.01 879.60 L567.46 879.30 L567.91 879.60 Z" fill="#2e3f9c"/>
<path d="M409.66 879.60 L410.11 879.26 L410.56 879.60 Z" fill="#2e3f9c"/>
<path d="M398.58 879.60 L399.03 879.29 L399.48 879.60 Z" fill="#2e3f9c"/>
<path d="M552.58 879.60 L553.03 879.23 L553.48 879.60 Z" fill="#2e3f9c"/>
<path d="M645.36 879.60 L645.81 879.29 L646.26 879.60 Z" fill="#2e3f9c"/>
<path d="M508.64 879.60 L509.09 879.27 L509.54 879.60 Z" fill="#2e3f9c"/>
<path d="M560.22 879.60 L560.67 879.25 L561.12 879.60 Z" fill="#2e3f9c"/>
<path d="M663.74 879.60 L664.19 879.26 L664.64 879.60 Z" fill="#2e3f9c"/>
<path d="M393.61 879.60 L394.06 879.23 L394.51 879.60 Z" fill="#2e3f9c"/>
<path d="M422.79 879.60 L423.24 879.24 L423.69 879.60 Z" fill="#2e3f9c"/>
<path d="M531.34 890.90 L531.79 890.51 L532.24 890.90 Z" fill="#d8143a"/>
<path d="M546.35 890.90 L546.80 890.54 L547.25 890.90 Z" fill="#d8143a"/>
<path d="M457.10 890.90 L457.55 890.54 L458.00 890.90 Z" fill="#d8143a"/>
<path d="M454.33 890.90 L454.78 890.52 L455.23 890.90 Z" fill="#d8143a"/>
<path d="M534.75 890.90 L535.20 890.59 L535.65 890.90 Z" fill="#d8143a"/>
<path d="M448.28 890.90 L448.73 890.56 L449.18 890.90 Z" fill="#d8143a"/>
<path d="M602.00 890.90 L602.45 890.58 L602.90 890.90 Z" fill="#d8143a"/>
<path d="M594.82 890.90 L595.27 890.53 L595.72 890.90 Z" fill="#d8143a"/>
<path d="M402.63 890.90 L403.08 890.53 L403.53 890.90 Z" fill="#d8143a"/>
<path d="M404.45 890.90 L404.90 890.59 L405.35 890.90 Z" fill="#d8143a"/>
<line x1="369.5" y1="898.2" x2="684.5" y2="898.2" stroke="#2f44a4" stroke-width="0.55" opacity="0.75"/>
<path d="M372.5 897.3 L373.4 898.2 L372.5 899.1" fill="none" stroke="#2f44a4" stroke-width="0.45" opacity="0.7"/>
<path d="M382.1 897.3 L383.0 898.2 L382.1 899.1" fill="none" stroke="#2f44a4" stroke-width="0.45" opacity="0.7"/>
<path d="M387.1 897.3 L388.0 898.2 L387.1 899.1" fill="none" stroke="#2f44a4" stroke-width="0.45" opacity="0.7"/>
<path d="M394.9 897.3 L395.8 898.2 L394.9 899.1" fill="none" stroke="#2f44a4" stroke-width="0.45" opacity="0.7"/>
<path d="M405.2 897.3 L406.1 898.2 L405.2 899.1" fill="none" stroke="#2f44a4" stroke-width="0.45" opacity="0.7"/>
<path d="M413.9 897.3 L414.8 898.2 L413.9 899.1" fill="none" stroke="#2f44a4" stroke-width="0.45" opacity="0.7"/>
<path d="M421.5 897.3 L422.4 898.2 L421.5 899.1" fill="none" stroke="#2f44a4" stroke-width="0.45" opacity="0.7"/>
<path d="M429.3 897.3 L430.2 898.2 L429.3 899.1" fill="none" stroke="#2f44a4" stroke-width="0.45" opacity="0.7"/>
<path d="M434.9 897.3 L435.8 898.2 L434.9 899.1" fill="none" stroke="#2f44a4" stroke-width="0.45" opacity="0.7"/>
<path d="M440.8 897.3 L441.7 898.2 L440.8 899.1" fill="none" stroke="#2f44a4" stroke-width="0.45" opacity="0.7"/>
<path d="M446.8 897.3 L447.7 898.2 L446.8 899.1" fill="none" stroke="#2f44a4" stroke-width="0.45" opacity="0.7"/>
<path d="M454.0 897.3 L454.9 898.2 L454.0 899.1" fill="none" stroke="#2f44a4" stroke-width="0.45" opacity="0.7"/>
<path d="M461.3 897.3 L462.2 898.2 L461.3 899.1" fill="none" stroke="#2f44a4" stroke-width="0.45" opacity="0.7"/>
<path d="M471.6 897.3 L472.5 898.2 L471.6 899.1" fill="none" stroke="#2f44a4" stroke-width="0.45" opacity="0.7"/>
<path d="M477.5 897.3 L478.4 898.2 L477.5 899.1" fill="none" stroke="#2f44a4" stroke-width="0.45" opacity="0.7"/>
<path d="M484.1 897.3 L485.0 898.2 L484.1 899.1" fill="none" stroke="#2f44a4" stroke-width="0.45" opacity="0.7"/>
<path d="M490.7 897.3 L491.6 898.2 L490.7 899.1" fill="none" stroke="#2f44a4" stroke-width="0.45" opacity="0.7"/>
<path d="M496.7 897.3 L497.6 898.2 L496.7 899.1" fill="none" stroke="#2f44a4" stroke-width="0.45" opacity="0.7"/>
<path d="M503.4 897.3 L504.3 898.2 L503.4 899.1" fill="none" stroke="#2f44a4" stroke-width="0.45" opacity="0.7"/>
<path d="M509.8 897.3 L510.7 898.2 L509.8 899.1" fill="none" stroke="#2f44a4" stroke-width="0.45" opacity="0.7"/>
<path d="M517.7 897.3 L518.6 898.2 L517.7 899.1" fill="none" stroke="#2f44a4" stroke-width="0.45" opacity="0.7"/>
<path d="M522.9 897.3 L523.8 898.2 L522.9 899.1" fill="none" stroke="#2f44a4" stroke-width="0.45" opacity="0.7"/>
<path d="M533.5 897.3 L534.4 898.2 L533.5 899.1" fill="none" stroke="#2f44a4" stroke-width="0.45" opacity="0.7"/>
<path d="M540.7 897.3 L541.6 898.2 L540.7 899.1" fill="none" stroke="#2f44a4" stroke-width="0.45" opacity="0.7"/>
<path d="M551.3 897.3 L552.2 898.2 L551.3 899.1" fill="none" stroke="#2f44a4" stroke-width="0.45" opacity="0.7"/>
<path d="M560.4 897.3 L561.3 898.2 L560.4 899.1" fill="none" stroke="#2f44a4" stroke-width="0.45" opacity="0.7"/>
<path d="M569.5 897.3 L570.4 898.2 L569.5 899.1" fill="none" stroke="#2f44a4" stroke-width="0.45" opacity="0.7"/>
<path d="M577.3 897.3 L578.2 898.2 L577.3 899.1" fill="none" stroke="#2f44a4" stroke-width="0.45" opacity="0.7"/>
<path d="M588.0 897.3 L588.9 898.2 L588.0 899.1" fill="none" stroke="#2f44a4" stroke-width="0.45" opacity="0.7"/>
<path d="M593.7 897.3 L594.6 898.2 L593.7 899.1" fill="none" stroke="#2f44a4" stroke-width="0.45" opacity="0.7"/>
<path d="M602.7 897.3 L603.6 898.2 L602.7 899.1" fill="none" stroke="#2f44a4" stroke-width="0.45" opacity="0.7"/>
<path d="M609.4 897.3 L610.3 898.2 L609.4 899.1" fill="none" stroke="#2f44a4" stroke-width="0.45" opacity="0.7"/>
<path d="M618.5 897.3 L619.4 898.2 L618.5 899.1" fill="none" stroke="#2f44a4" stroke-width="0.45" opacity="0.7"/>
<path d="M627.9 897.3 L628.8 898.2 L627.9 899.1" fill="none" stroke="#2f44a4" stroke-width="0.45" opacity="0.7"/>
<path d="M633.8 897.3 L634.7 898.2 L633.8 899.1" fill="none" stroke="#2f44a4" stroke-width="0.45" opacity="0.7"/>
<path d="M640.1 897.3 L641.0 898.2 L640.1 899.1" fill="none" stroke="#2f44a4" stroke-width="0.45" opacity="0.7"/>
<path d="M645.2 897.3 L646.1 898.2 L645.2 899.1" fill="none" stroke="#2f44a4" stroke-width="0.45" opacity="0.7"/>
<path d="M651.6 897.3 L652.5 898.2 L651.6 899.1" fill="none" stroke="#2f44a4" stroke-width="0.45" opacity="0.7"/>
<path d="M657.1 897.3 L658.0 898.2 L657.1 899.1" fill="none" stroke="#2f44a4" stroke-width="0.45" opacity="0.7"/>
<path d="M664.5 897.3 L665.4 898.2 L664.5 899.1" fill="none" stroke="#2f44a4" stroke-width="0.45" opacity="0.7"/>
<path d="M675.3 897.3 L676.2 898.2 L675.3 899.1" fill="none" stroke="#2f44a4" stroke-width="0.45" opacity="0.7"/>
<path d="M682.5 897.3 L683.4 898.2 L682.5 899.1" fill="none" stroke="#2f44a4" stroke-width="0.45" opacity="0.7"/>
<rect x="370.5" y="897.10" width="2.3000000000000114" height="2.2" fill="#2f44a4"/>
<rect x="377.5" y="897.10" width="5.899999999999977" height="2.2" fill="#2f44a4"/>
<rect x="389.2" y="897.00" width="14.0" height="2.4" fill="#2f44a4"/>
<rect x="410" y="897.20" width="1" height="2.0" fill="#2f44a4"/>
<rect x="416" y="897.20" width="1" height="2.0" fill="#2f44a4"/>
<rect x="424" y="897.30" width="1" height="1.8" fill="#2f44a4"/>
<rect x="429" y="897.30" width="1" height="1.8" fill="#2f44a4"/>
<rect x="451" y="897.30" width="1" height="1.8" fill="#2f44a4"/>
<rect x="468.6" y="897.30" width="1.0" height="1.8" fill="#2f44a4"/>
<rect x="487.3" y="897.20" width="2.3000000000000114" height="2.0" fill="#2f44a4"/>
<rect x="497.8" y="897.00" width="4.699999999999989" height="2.4" fill="#2f44a4"/>
<rect x="506" y="897.30" width="1" height="1.8" fill="#2f44a4"/>
<rect x="512" y="897.30" width="1" height="1.8" fill="#2f44a4"/>
<rect x="521" y="897.30" width="1" height="1.8" fill="#2f44a4"/>
<rect x="525" y="897.30" width="1" height="1.8" fill="#2f44a4"/>
<rect x="529" y="897.30" width="1" height="1.8" fill="#2f44a4"/>
<rect x="541" y="897.30" width="1" height="1.8" fill="#2f44a4"/>
<rect x="547" y="897.00" width="2" height="2.4" fill="#2f44a4"/>
<rect x="556" y="897.30" width="1" height="1.8" fill="#2f44a4"/>
<rect x="582.6" y="897.30" width="1.0" height="1.8" fill="#2f44a4"/>
<rect x="590" y="897.00" width="6" height="2.4" fill="#2f44a4"/>
<rect x="600.5" y="897.30" width="1.0" height="1.8" fill="#2f44a4"/>
<rect x="658.5" y="897.30" width="1.0" height="1.8" fill="#2f44a4"/>
<text x="402.00" y="907.60" font-size="6.9" text-anchor="middle" fill="#222" color="#222" >IFTG2</text>
<text x="453.10" y="907.60" font-size="6.9" text-anchor="middle" fill="#222" color="#222" >TEX52</text>
<text x="564.00" y="907.60" font-size="6.9" text-anchor="middle" fill="#222" color="#222" >RHNO</text>
<text x="645.10" y="907.60" font-size="6.9" text-anchor="middle" fill="#222" color="#222" >TULP3</text>
<text x="483.30" y="912.20" font-size="10.3" text-anchor="start" fill="#231f20" color="#231f20" >FOXM1</text>
</svg>
</body></html>
